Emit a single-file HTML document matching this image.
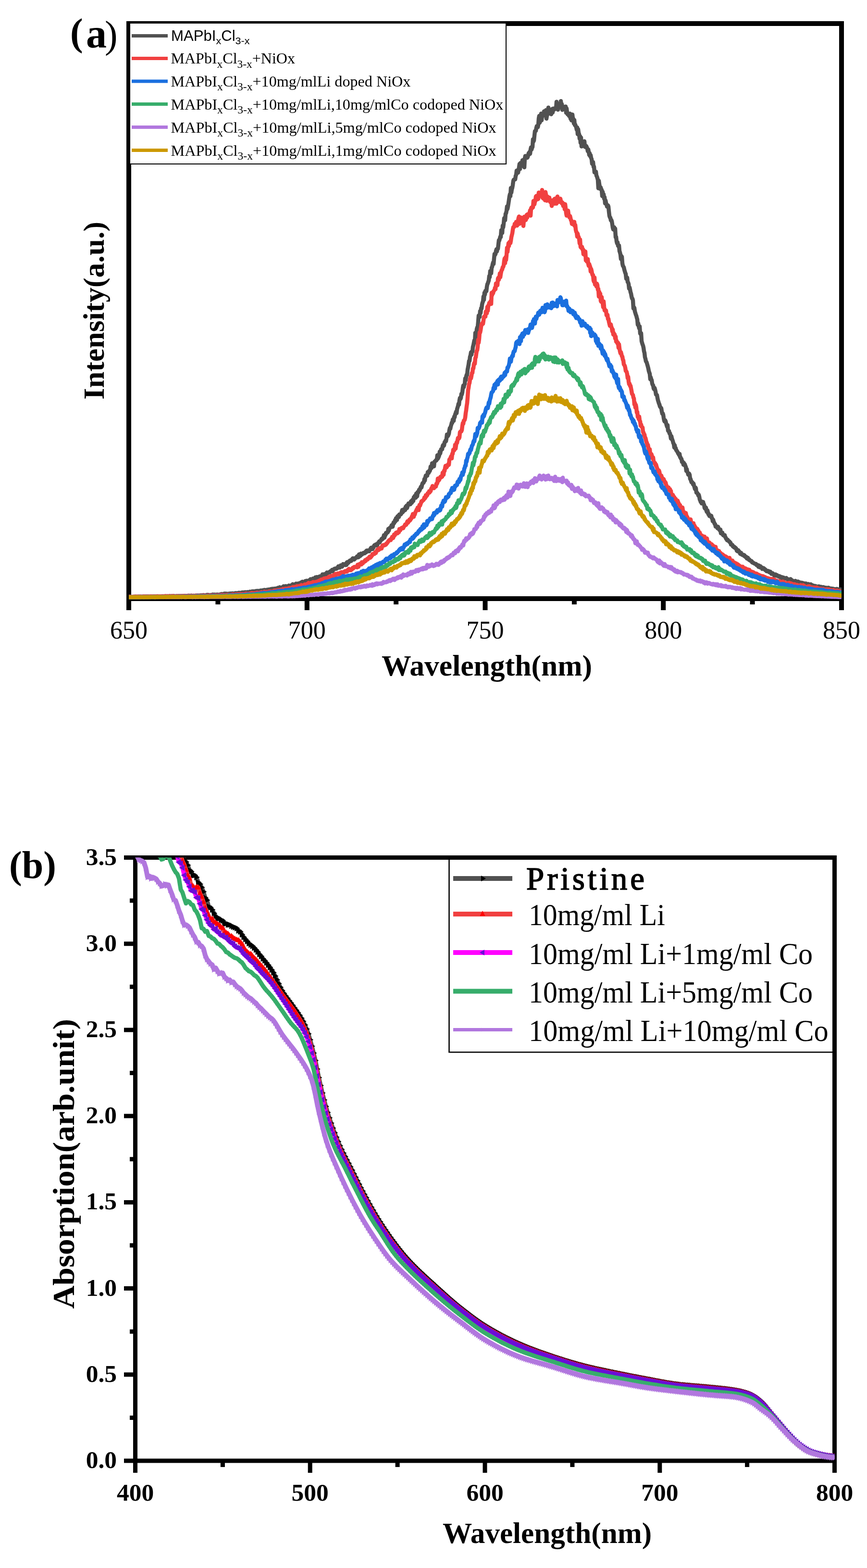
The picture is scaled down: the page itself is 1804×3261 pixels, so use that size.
<!DOCTYPE html>
<html><head><meta charset="utf-8"><title>PL and absorption spectra</title><style>html,body{margin:0;padding:0;background:#fff;}svg{display:block;}.s{font-family:"Liberation Serif","Noto Serif CJK SC",serif;}.ss{font-family:"Liberation Sans","Noto Sans CJK SC",sans-serif;}.m{font-family:"Liberation Mono","Noto Sans CJK SC",monospace;}</style></head><body>
<svg width="1804" height="3261" viewBox="0 0 1804 3261">
<rect x="0" y="0" width="1804" height="3261" fill="#fff"/>
<defs><clipPath id="ca"><rect x="268" y="49" width="1483" height="1198"/></clipPath><clipPath id="cb"><rect x="281.5" y="1783.5" width="1455" height="1254.5"/></clipPath><marker id="mk0" markerUnits="userSpaceOnUse" markerWidth="20" markerHeight="20" refX="10" refY="10" orient="0" overflow="visible"><path d="M5.5,3.5 L17,10 L5.5,16.5 Z" fill="#000"/></marker><marker id="mk1" markerUnits="userSpaceOnUse" markerWidth="20" markerHeight="20" refX="10" refY="10" orient="0" overflow="visible"><path d="M4.5,14 L10,3 L15.5,14 Z" fill="#f00"/></marker><marker id="mk2" markerUnits="userSpaceOnUse" markerWidth="20" markerHeight="20" refX="10" refY="10" orient="0" overflow="visible"><path d="M14.5,3.5 L3,10 L14.5,16.5 Z" fill="#6A0DD8"/></marker><marker id="mk3" markerUnits="userSpaceOnUse" markerWidth="20" markerHeight="20" refX="10" refY="10" orient="0" overflow="visible"><path d="M7,5.5 L13,10 L7,14.5 Z" fill="#37AD6B"/></marker><marker id="mk4" markerUnits="userSpaceOnUse" markerWidth="20" markerHeight="20" refX="10" refY="10" orient="0" overflow="visible"><path d="M6,3 L14,10 L6,17 Z" fill="#B177DE"/></marker></defs>
<rect x="268" y="49" width="1483" height="1196" fill="none" stroke="#000" stroke-width="10"/>
<path d="M268,1250V1269M453.4,1250V1257M638.8,1250V1269M824.1,1250V1257M1009.5,1250V1269M1194.9,1250V1257M1380.2,1250V1269M1565.6,1250V1257M1751,1250V1269" stroke="#000" stroke-width="10" fill="none"/>
<g clip-path="url(#ca)" fill="none" stroke-width="8.5" stroke-linejoin="round">
<polyline stroke="#515151" points="268,1240.9 269,1241.1 270,1241.2 271,1241.2 272,1240.9 273,1241.2 274,1241.2 275,1241.2 276,1241.2 277,1241.2 278,1241.4 279,1240.9 280,1241 281,1241.3 282,1240.8 283,1241 284,1240.9 285,1241 286,1241 287,1240.7 288,1240.8 289,1240.7 290,1240.9 291,1240.8 292,1241.1 293,1240.8 294,1241.1 295,1240.8 296,1240.9 297,1240.8 298,1240.8 299,1240.6 300,1240.9 301,1240.9 302,1240.8 303,1240.9 304,1240.6 305,1240.7 306,1240.6 307,1240.4 308,1240.8 309,1240.6 310,1240.7 311,1241.1 312,1240.7 313,1240.7 314,1240.8 315,1240.8 316,1240.9 317,1240.5 318,1240.9 319,1240.5 320,1240.3 321,1240.4 322,1240.7 323,1240.6 324,1240.7 325,1240.3 326,1240.4 327,1240.2 328,1240 329,1240.4 330,1240.7 331,1240.6 332,1240.2 333,1240.6 334,1240.2 335,1240.4 336,1240.5 337,1240.2 338,1240.1 339,1240.4 340,1240.2 341,1240.1 342,1240.3 343,1240.1 344,1240.2 345,1240 346,1240.3 347,1239.9 348,1240 349,1239.7 350,1240.3 351,1240.1 352,1240.1 353,1239.7 354,1240 355,1239.9 356,1240.2 357,1239.6 358,1240 359,1240.1 360,1239.6 361,1239.9 362,1239.6 363,1239.8 364,1239.9 365,1240.1 366,1239.8 367,1239.6 368,1239.8 369,1239.7 370,1239.9 371,1239.5 372,1239.9 373,1239.6 374,1239.6 375,1239.8 376,1239.4 377,1239.4 378,1239.6 379,1239.5 380,1239.5 381,1239.3 382,1239.3 383,1239.6 384,1239.8 385,1239 386,1239.7 387,1239.5 388,1239.5 389,1239.3 390,1239 391,1239.1 392,1238.9 393,1238.7 394,1239.1 395,1239.1 396,1239 397,1239.1 398,1238.6 399,1239.2 400,1238.9 401,1238.9 402,1239 403,1238.7 404,1239.5 405,1239.1 406,1239.1 407,1238.7 408,1238.5 409,1238.8 410,1238.4 411,1238.6 412,1238.6 413,1238.8 414,1238.6 415,1238.5 416,1238.8 417,1238.3 418,1238.2 419,1238.1 420,1238.7 421,1238.2 422,1238 423,1237.6 424,1237.8 425,1238.1 426,1238.2 427,1238.5 428,1237.7 429,1238 430,1238.2 431,1237.1 432,1238.4 433,1237.3 434,1237.3 435,1237.9 436,1237.7 437,1237.9 438,1237.6 439,1237.5 440,1237.3 441,1237 442,1237.4 443,1236.5 444,1237 445,1237.3 446,1236.6 447,1237.2 448,1237.2 449,1236.8 450,1236.7 451,1236.9 452,1236.8 453,1236.5 454,1237.2 455,1237 456,1236.7 457,1236.8 458,1236.7 459,1235.7 460,1237 461,1235.5 462,1236 463,1235.5 464,1236.1 465,1235.9 466,1235.8 467,1234.5 468,1235.9 469,1235.6 470,1234.6 471,1235.9 472,1235.2 473,1234.9 474,1235.3 475,1234.8 476,1235.1 477,1234.7 478,1234.5 479,1234.3 480,1235 481,1234.6 482,1234.2 483,1234.2 484,1234 485,1235.2 486,1234.4 487,1234.2 488,1234.7 489,1233.7 490,1233.4 491,1233.6 492,1233.8 493,1233.6 494,1233.4 495,1233.6 496,1233.2 497,1232.8 498,1233.6 499,1233 500,1232.9 501,1233.2 502,1233.1 503,1232.3 504,1232.4 505,1232 506,1232 507,1232.6 508,1232.1 509,1231.8 510,1231.5 511,1232.7 512,1231.8 513,1232 514,1231.8 515,1231.2 516,1231.8 517,1231.6 518,1232 519,1231.6 520,1230.6 521,1231 522,1230.9 523,1230.8 524,1230.1 525,1229.8 526,1230.5 527,1230.6 528,1229.7 529,1231.2 530,1230.5 531,1229.8 532,1231 533,1229 534,1229.1 535,1229 536,1230.1 537,1228.9 538,1229.6 539,1229.2 540,1228.7 541,1228.9 542,1228.1 543,1229.1 544,1227.9 545,1227.9 546,1228.6 547,1227.8 548,1229 549,1228.6 550,1226.8 551,1227.7 552,1227.4 553,1228.6 554,1226.9 555,1226.7 556,1226.8 557,1226.7 558,1226.1 559,1226.7 560,1226 561,1225.7 562,1227 563,1226 564,1225.1 565,1224.8 566,1225.3 567,1224.6 568,1224.4 569,1225.7 570,1224.7 571,1224.3 572,1224.6 573,1223.9 574,1224.2 575,1225.1 576,1223.7 577,1223.2 578,1222.6 579,1223.6 580,1222.9 581,1223 582,1221.5 583,1222.1 584,1222.2 585,1222.3 586,1221.9 587,1221.3 588,1222.2 589,1221.1 590,1219.4 591,1219.7 592,1220.4 593,1220.3 594,1219 595,1218.9 596,1219.8 597,1219.5 598,1219.3 599,1219.3 600,1218.6 601,1217.8 602,1219.1 603,1218.7 604,1218.9 605,1217.8 606,1217.3 607,1217.2 608,1217 609,1215.1 610,1216.2 611,1215.8 612,1216.1 613,1215.8 614,1215.1 615,1214.8 616,1213.8 617,1214.8 618,1214 619,1213.8 620,1214.7 621,1214.4 622,1213.1 623,1214.4 624,1213.4 625,1212.6 626,1211.5 627,1211.3 628,1212.5 629,1209.8 630,1212.6 631,1211.4 632,1210.3 633,1211.7 634,1210.2 635,1208.6 636,1208.8 637,1208.2 638,1207.8 639,1210.2 640,1208.3 641,1207.7 642,1208.3 643,1207.8 644,1206.4 645,1205.8 646,1204.6 647,1206.8 648,1205.4 649,1206.2 650,1205 651,1203.4 652,1203.8 653,1205.4 654,1203.1 655,1203.8 656,1200.7 657,1201.8 658,1203.1 659,1200 660,1202.5 661,1200.6 662,1200.1 663,1201.7 664,1199.3 665,1200.5 666,1198.6 667,1199 668,1199.2 669,1198.8 670,1197 671,1194.5 672,1198.1 673,1195.3 674,1196.7 675,1194 676,1193.9 677,1194 678,1193.4 679,1195 680,1190.6 681,1191.3 682,1191.7 683,1191.3 684,1190.4 685,1190 686,1190.4 687,1188.2 688,1187.7 689,1187.6 690,1188 691,1185.1 692,1188.3 693,1185.3 694,1184.4 695,1184.2 696,1182.8 697,1182.5 698,1182.7 699,1183.1 700,1182.9 701,1181.1 702,1180.7 703,1181.1 704,1177.8 705,1179.3 706,1180.2 707,1180.5 708,1177.7 709,1175.8 710,1176.2 711,1177.9 712,1178.4 713,1175.2 714,1173 715,1174.5 716,1174.8 717,1174.4 718,1173.2 719,1175.3 720,1171.7 721,1174.8 722,1169.3 723,1172 724,1171 725,1170.1 726,1167.5 727,1167.8 728,1165.8 729,1166.9 730,1166.6 731,1166.5 732,1163.5 733,1163.6 734,1161.1 735,1163.5 736,1161.5 737,1163.7 738,1161 739,1161.8 740,1160 741,1159.9 742,1159 743,1157.1 744,1159.3 745,1156.4 746,1158.8 747,1153 748,1155.1 749,1156.4 750,1155.9 751,1151.3 752,1153.8 753,1153.2 754,1152.7 755,1151.2 756,1150 757,1150.8 758,1150.8 759,1150.8 760,1148.6 761,1146.9 762,1148.6 763,1144.9 764,1145.2 765,1144.7 766,1145 767,1144.6 768,1146.6 769,1144 770,1143.8 771,1141 772,1139.3 773,1139.7 774,1138.7 775,1142 776,1140.3 777,1138.7 778,1136.4 779,1133.8 780,1134.5 781,1133.2 782,1132.2 783,1133.2 784,1134.5 785,1134.1 786,1129.6 787,1129.2 788,1128.6 789,1126 790,1128.2 791,1125.8 792,1124 793,1123.6 794,1120.8 795,1119.9 796,1121.2 797,1119.5 798,1116.9 799,1112.9 800,1118.2 801,1113.4 802,1113 803,1108.3 804,1109.6 805,1108.2 806,1106.4 807,1106.5 808,1099.9 809,1103.7 810,1099.4 811,1097.8 812,1097.2 813,1096.6 814,1094.7 815,1092.2 816,1092.6 817,1095.4 818,1089.9 819,1086.5 820,1088.1 821,1086.1 822,1081.6 823,1084.1 824,1077.7 825,1079.9 826,1081.3 827,1074 828,1074.2 829,1072.3 830,1075.2 831,1070 832,1070 833,1069.8 834,1069.8 835,1068.2 836,1063.7 837,1060.5 838,1065.3 839,1062.4 840,1062.5 841,1058.9 842,1059 843,1060.8 844,1053.9 845,1055.5 846,1051.6 847,1056.5 848,1053 849,1049.6 850,1047 851,1049.5 852,1048.5 853,1046.7 854,1048.7 855,1042.6 856,1045.1 857,1045.5 858,1039.7 859,1041.5 860,1041.6 861,1034.1 862,1034.3 863,1031.4 864,1033.8 865,1035.3 866,1026.6 867,1028.1 868,1032.4 869,1023.4 870,1024.5 871,1022.8 872,1018.6 873,1020 874,1017.1 875,1014.2 876,1012.1 877,1013.8 878,1009.4 879,1005.5 880,1004.2 881,1004.3 882,1002.6 883,996.3 884,999.6 885,992.6 886,989 887,990.4 888,989.8 889,989.3 890,982.1 891,982 892,983.5 893,979 894,980.1 895,977.3 896,970.4 897,970.5 898,973.3 899,963.6 900,970.3 901,966.4 902,963.2 903,969.7 904,960.4 905,959.5 906,958.8 907,957.2 908,957.7 909,955.6 910,946.7 911,954 912,951.9 913,949.6 914,946.5 915,939.2 916,943.1 917,937.9 918,934.1 919,934.9 920,934.4 921,927.8 922,925.4 923,927.6 924,926.4 925,919.8 926,919.4 927,916.4 928,917.5 929,912.1 930,903.7 931,903.8 932,906.9 933,904.6 934,901.8 935,894.8 936,890.1 937,891.8 938,886.6 939,883.4 940,879.2 941,879.3 942,872.9 943,871.4 944,875.4 945,866.7 946,867.7 947,861.9 948,859.7 949,856.2 950,859.4 951,851 952,847.8 953,844.5 954,839.6 955,841.7 956,832.7 957,827.5 958,829.9 959,827.4 960,819.2 961,820.4 962,816 963,807.3 964,801.8 965,805.5 966,800.2 967,798.5 968,787.1 969,790.7 970,782.8 971,779.3 972,779.6 973,768.6 974,763.5 975,758.2 976,750.5 977,750.7 978,741.9 979,739.2 980,732.8 981,737.6 982,730.7 983,731.4 984,721.4 985,718 986,712.7 987,707.7 988,712.6 989,692.2 990,701.5 991,695.9 992,684.5 993,680.8 994,680.2 995,669.1 996,656.3 997,656.5 998,659.3 999,646.9 1000,651 1001,641.1 1002,641.8 1003,633.5 1004,629.3 1005,627 1006,616.6 1007,623.1 1008,608.8 1009,612.8 1010,604.8 1011,606.3 1012,605.7 1013,596.7 1014,591.3 1015,589.4 1016,586 1017,583.4 1018,574 1019,576.3 1020,563.7 1021,563 1022,568.5 1023,556.7 1024,555 1025,550 1026,545.9 1027,549 1028,537.9 1029,528.1 1030,530.1 1031,528.4 1032,522 1033,518.6 1034,522.8 1035,516.6 1036,517.5 1037,508.7 1038,499.6 1039,499.8 1040,496 1041,492.2 1042,493 1043,478.7 1044,481.5 1045,484.7 1046,469.2 1047,472.8 1048,465.5 1049,454 1050,452.7 1051,457.9 1052,444.7 1053,443.4 1054,438.2 1055,429.2 1056,434.6 1057,429.2 1058,422.6 1059,415.8 1060,408.6 1061,403.9 1062,408.1 1063,391 1064,400.4 1065,393.7 1066,390.4 1067,384.6 1068,376.5 1069,373.6 1070,373.4 1071,372.7 1072,373 1073,365.6 1074,363.6 1075,354.8 1076,359.5 1077,355.5 1078,359.2 1079,353.6 1080,347.7 1081,340.9 1082,351.5 1083,339 1084,343.2 1085,345.1 1086,343 1087,333.4 1088,332.8 1089,341.3 1090,338.2 1091,348 1092,329.3 1093,324.4 1094,325.3 1095,325.4 1096,326.3 1097,328.1 1098,326.7 1099,322.4 1100,318.5 1101,321.4 1102,315.6 1103,319.7 1104,310.9 1105,306.4 1106,311.2 1107,307.5 1108,305.5 1109,289.6 1110,294.4 1111,292 1112,282.4 1113,272.9 1114,272.4 1115,272 1116,265.8 1117,262.2 1118,263 1119,264.5 1120,260 1121,246.2 1122,240.9 1123,255.2 1124,252.7 1125,244.6 1126,236.2 1127,250 1128,239.7 1129,237.4 1130,239.5 1131,240.2 1132,231.5 1133,232.3 1134,237.5 1135,237.2 1136,229.1 1137,246.7 1138,240.7 1139,237.2 1140,237.2 1141,223.7 1142,233.5 1143,235.1 1144,232.5 1145,233.1 1146,233.7 1147,237.6 1148,234.9 1149,226.6 1150,233.7 1151,225.8 1152,228.3 1153,228.3 1154,226.1 1155,224.6 1156,226.2 1157,225.8 1158,211.7 1159,222 1160,217.7 1161,228.1 1162,220.9 1163,216.1 1164,221.7 1165,220.2 1166,222.4 1167,210.2 1168,218.8 1169,216.3 1170,228.5 1171,225.8 1172,221.7 1173,223 1174,223.8 1175,222.8 1176,221.8 1177,221.5 1178,234.6 1179,225.8 1180,234.3 1181,237.8 1182,238 1183,236.6 1184,241.1 1185,236.9 1186,236.3 1187,246.6 1188,246.5 1189,250.2 1190,246.1 1191,238.2 1192,246.6 1193,247.1 1194,256.8 1195,249.7 1196,260.1 1197,259.2 1198,262.2 1199,265 1200,269.8 1201,265.2 1202,279.1 1203,269.1 1204,276.4 1205,279.1 1206,288.5 1207,283.3 1208,297.1 1209,286.2 1210,304.5 1211,296.7 1212,299.1 1213,298.1 1214,301.8 1215,295.6 1216,293.7 1217,305.4 1218,305.7 1219,303.1 1220,304.1 1221,306.1 1222,309.2 1223,314.4 1224,310.6 1225,315.8 1226,322.3 1227,318.6 1228,325 1229,322.6 1230,328.8 1231,330.7 1232,340.6 1233,337.1 1234,337 1235,346.8 1236,346.8 1237,358.6 1238,357.7 1239,357.2 1240,357.2 1241,365.2 1242,367 1243,370.3 1244,374.1 1245,391.5 1246,375.9 1247,383 1248,388.5 1249,392.9 1250,389.8 1251,394.4 1252,394.8 1253,407.7 1254,398.9 1255,405.6 1256,404 1257,413.4 1258,410.1 1259,422.9 1260,416.8 1261,421.8 1262,425 1263,429.7 1264,428.8 1265,427.1 1266,429.8 1267,440 1268,448.8 1269,452.1 1270,452.7 1271,458.2 1272,457.4 1273,460.2 1274,466.4 1275,473.4 1276,477 1277,476.4 1278,472.6 1279,479.3 1280,475.5 1281,493.5 1282,492.7 1283,502.2 1284,506.1 1285,503.8 1286,511.2 1287,512.3 1288,510.5 1289,522.2 1290,525.2 1291,529.2 1292,538.8 1293,532.5 1294,534 1295,547.7 1296,552.6 1297,554.2 1298,556 1299,560.6 1300,564.2 1301,567.6 1302,569.8 1303,579.6 1304,576.6 1305,577.5 1306,586.5 1307,587.6 1308,590.8 1309,600.3 1310,597.7 1311,602.3 1312,607.7 1313,610.6 1314,616.3 1315,620.6 1316,621.2 1317,624.9 1318,641.5 1319,638.7 1320,640.5 1321,647.9 1322,650.8 1323,654.5 1324,656.6 1325,660.9 1326,664.1 1327,675.4 1328,672.2 1329,678.8 1330,683 1331,678.8 1332,693.5 1333,694.8 1334,692.8 1335,709.3 1336,713.1 1337,716.4 1338,718.8 1339,723.2 1340,730.5 1341,733.9 1342,743 1343,746 1344,751.5 1345,752.6 1346,755.3 1347,758.8 1348,762.4 1349,766.4 1350,771.6 1351,774.7 1352,777.5 1353,788.7 1354,784.7 1355,788.8 1356,790.4 1357,797.5 1358,800.4 1359,801.3 1360,807.5 1361,809.5 1362,806.8 1363,810.1 1364,814.2 1365,820.7 1366,821.1 1367,821.6 1368,827.6 1369,832.4 1370,835.3 1371,838.9 1372,840.9 1373,844.9 1374,846.7 1375,847.8 1376,849.1 1377,855.7 1378,860.3 1379,859.7 1380,862.7 1381,869.4 1382,874.8 1383,876.8 1384,873.9 1385,876.1 1386,880.2 1387,884.2 1388,887.4 1389,884.1 1390,895.5 1391,897.1 1392,896.2 1393,901.6 1394,901.1 1395,905.3 1396,912.1 1397,907.2 1398,911.9 1399,914.6 1400,917.6 1401,921.7 1402,923.2 1403,930.7 1404,925.9 1405,932.7 1406,932 1407,936.3 1408,937.1 1409,938.9 1410,940.3 1411,943.2 1412,943.3 1413,946.3 1414,943.9 1415,950.7 1416,950.9 1417,954.2 1418,954.4 1419,960.9 1420,959.5 1421,961.3 1422,966.5 1423,962.6 1424,967.4 1425,965.7 1426,968.9 1427,971.1 1428,979.4 1429,975.4 1430,981.1 1431,982.8 1432,987.1 1433,985.4 1434,985.1 1435,987.6 1436,996.1 1437,996.4 1438,1000.6 1439,1003 1440,1002.4 1441,1003.8 1442,1007.5 1443,1005.5 1444,1010 1445,1013 1446,1017 1447,1013.7 1448,1015.7 1449,1024.5 1450,1025.3 1451,1025.2 1452,1027.2 1453,1030.4 1454,1029 1455,1032.8 1456,1038.7 1457,1040.8 1458,1044.1 1459,1043.6 1460,1047.1 1461,1043.4 1462,1045.3 1463,1043.9 1464,1048.7 1465,1049.5 1466,1056.2 1467,1057.9 1468,1055.1 1469,1056.1 1470,1062.9 1471,1065 1472,1061.4 1473,1065.9 1474,1069.7 1475,1069 1476,1073.1 1477,1071.8 1478,1073.7 1479,1074.3 1480,1072.6 1481,1077.4 1482,1078.3 1483,1083.9 1484,1081 1485,1085 1486,1087 1487,1089.6 1488,1090.1 1489,1095.3 1490,1093.8 1491,1094.7 1492,1096 1493,1098.7 1494,1095.5 1495,1098.2 1496,1100.9 1497,1100.7 1498,1103.5 1499,1101.3 1500,1109.1 1501,1107.5 1502,1108.4 1503,1107.6 1504,1112 1505,1113.4 1506,1112.2 1507,1114.1 1508,1113 1509,1117 1510,1118 1511,1120.8 1512,1121.1 1513,1123.5 1514,1122.4 1515,1124.2 1516,1124.8 1517,1126.2 1518,1126.3 1519,1128.3 1520,1128.7 1521,1132.5 1522,1132.4 1523,1133.2 1524,1133.3 1525,1136.6 1526,1136.2 1527,1137.8 1528,1137.3 1529,1139.5 1530,1138.9 1531,1140 1532,1141 1533,1145.3 1534,1143.9 1535,1146.8 1536,1144.3 1537,1147 1538,1146.6 1539,1148.7 1540,1151.5 1541,1152.2 1542,1149.7 1543,1152.8 1544,1153.8 1545,1153.2 1546,1153.7 1547,1153.8 1548,1156.1 1549,1154.8 1550,1157.1 1551,1158.3 1552,1158 1553,1158.2 1554,1161.5 1555,1161 1556,1159.9 1557,1162.4 1558,1163.9 1559,1163.3 1560,1165.4 1561,1165.8 1562,1166.7 1563,1166.5 1564,1167 1565,1169.6 1566,1169.3 1567,1170.2 1568,1171.1 1569,1171.4 1570,1172.1 1571,1172.7 1572,1173 1573,1172.8 1574,1175.1 1575,1175.1 1576,1175 1577,1177 1578,1178.8 1579,1176.1 1580,1178.1 1581,1179.9 1582,1177.4 1583,1179.6 1584,1180.1 1585,1180.1 1586,1183.2 1587,1182.9 1588,1182.4 1589,1181.5 1590,1183.8 1591,1183.2 1592,1185.3 1593,1184.9 1594,1186.2 1595,1188 1596,1187.8 1597,1187.2 1598,1187.9 1599,1187.6 1600,1189.9 1601,1188.6 1602,1189.5 1603,1189.1 1604,1191.2 1605,1193.5 1606,1191.6 1607,1192.1 1608,1192.4 1609,1193.6 1610,1194.3 1611,1196.8 1612,1196 1613,1195.4 1614,1194.6 1615,1197.4 1616,1196.9 1617,1196.2 1618,1197.6 1619,1197.7 1620,1199.2 1621,1198.9 1622,1198.1 1623,1199.5 1624,1201.1 1625,1200.3 1626,1199.9 1627,1200.1 1628,1203.2 1629,1202.5 1630,1200.9 1631,1202.6 1632,1203.6 1633,1203.5 1634,1202.6 1635,1203.2 1636,1201.9 1637,1203.8 1638,1204.1 1639,1205.4 1640,1204.7 1641,1204.7 1642,1206.9 1643,1206.7 1644,1205.6 1645,1204.5 1646,1205.1 1647,1206.8 1648,1207.2 1649,1207.4 1650,1208.6 1651,1209.7 1652,1209.1 1653,1208.9 1654,1209.2 1655,1208 1656,1210.4 1657,1209.6 1658,1210.9 1659,1209.4 1660,1210.4 1661,1209.5 1662,1210.9 1663,1212.9 1664,1211.1 1665,1211.6 1666,1211.8 1667,1212.8 1668,1211.9 1669,1212.6 1670,1212.2 1671,1215.7 1672,1213.2 1673,1213.8 1674,1213.3 1675,1214.5 1676,1214.5 1677,1213.4 1678,1217.4 1679,1215.1 1680,1215.3 1681,1216.4 1682,1214.5 1683,1216.1 1684,1215.5 1685,1216.1 1686,1216.5 1687,1215.2 1688,1216.9 1689,1217.7 1690,1216.9 1691,1218 1692,1217.8 1693,1219.2 1694,1218.3 1695,1218.8 1696,1218.8 1697,1218.8 1698,1220.3 1699,1219.6 1700,1219.8 1701,1220.2 1702,1221.4 1703,1219.5 1704,1221.2 1705,1219.7 1706,1220.5 1707,1221.3 1708,1221.8 1709,1220.5 1710,1222.1 1711,1221.9 1712,1223.2 1713,1220.9 1714,1222.3 1715,1221.8 1716,1222 1717,1222.4 1718,1222.2 1719,1223.1 1720,1223 1721,1222.4 1722,1224.7 1723,1223.4 1724,1222.3 1725,1223.5 1726,1223.8 1727,1223.7 1728,1223.9 1729,1225 1730,1224 1731,1224.2 1732,1224.3 1733,1224.5 1734,1224.4 1735,1225.1 1736,1225.8 1737,1225.3 1738,1225.5 1739,1225.2 1740,1225.3 1741,1224.8 1742,1226.9 1743,1225.8 1744,1225.5 1745,1226.2 1746,1226.1 1747,1227 1748,1226.7 1749,1225.9 1750,1226.3 1751,1226.2"/>
<polyline stroke="#F14040" points="268,1241 269,1240.8 270,1241.2 271,1241.2 272,1241 273,1241.1 274,1241.3 275,1241.2 276,1241.1 277,1241.1 278,1240.8 279,1241.1 280,1240.7 281,1240.9 282,1240.9 283,1240.6 284,1240.9 285,1241.2 286,1240.8 287,1240.7 288,1240.8 289,1241 290,1240.9 291,1240.8 292,1240.6 293,1240.9 294,1240.9 295,1241 296,1241 297,1240.9 298,1240.5 299,1240.5 300,1240.5 301,1240.7 302,1240.6 303,1240.9 304,1240.7 305,1240.7 306,1240.8 307,1240.7 308,1240.4 309,1241 310,1240.8 311,1240.8 312,1240.4 313,1240.2 314,1240.3 315,1240.3 316,1240.7 317,1240.7 318,1240.8 319,1240.9 320,1240.6 321,1240.5 322,1240.4 323,1240.4 324,1240.2 325,1240.5 326,1240.5 327,1240.3 328,1240.2 329,1240.4 330,1240.6 331,1240.3 332,1240.4 333,1240.2 334,1240.2 335,1240.2 336,1240.2 337,1240.1 338,1240.3 339,1240.5 340,1240 341,1240.5 342,1240.1 343,1240.1 344,1239.7 345,1239.7 346,1240.3 347,1239.9 348,1240.3 349,1240.1 350,1240.2 351,1240.4 352,1240.1 353,1239.4 354,1239.7 355,1240.3 356,1240.5 357,1240 358,1239.9 359,1239.7 360,1240.1 361,1239.6 362,1239.7 363,1240 364,1240 365,1239.9 366,1240.2 367,1239.7 368,1239.7 369,1239.8 370,1239.9 371,1239.8 372,1240.3 373,1239.7 374,1240 375,1239.7 376,1239.9 377,1239.7 378,1239.7 379,1240.2 380,1239.7 381,1240.2 382,1239.6 383,1239.7 384,1240 385,1239.2 386,1239.4 387,1239.7 388,1239.8 389,1239.8 390,1239.6 391,1239.3 392,1239.9 393,1239.7 394,1239.4 395,1239.6 396,1240 397,1239.6 398,1239.3 399,1239.5 400,1239.5 401,1239.6 402,1239.7 403,1239.3 404,1239.3 405,1239.7 406,1239.6 407,1239.8 408,1239.1 409,1239.2 410,1239.6 411,1239.2 412,1239.4 413,1239.3 414,1239.1 415,1239.7 416,1239.3 417,1239.2 418,1239.2 419,1239.3 420,1238.8 421,1239 422,1238.9 423,1238.6 424,1239.4 425,1239.5 426,1239.4 427,1238.6 428,1239.1 429,1239.2 430,1238.8 431,1239.2 432,1238.6 433,1238.6 434,1238.7 435,1238.7 436,1238.5 437,1239.1 438,1238.5 439,1238.6 440,1238.5 441,1239.3 442,1238.4 443,1238.7 444,1239.1 445,1238.2 446,1238.3 447,1238.4 448,1238.1 449,1238.8 450,1238.2 451,1238.6 452,1238.4 453,1238.3 454,1238.5 455,1238.1 456,1238.5 457,1237.7 458,1237.8 459,1238.4 460,1237.3 461,1238.1 462,1237.8 463,1237.7 464,1237.6 465,1238.2 466,1237.3 467,1237.9 468,1237.8 469,1237.5 470,1237.5 471,1237.7 472,1237.3 473,1236.9 474,1237.5 475,1237.1 476,1237.1 477,1237.3 478,1237.4 479,1237.7 480,1237.2 481,1237.1 482,1237.3 483,1237 484,1236.3 485,1236.6 486,1236.4 487,1237 488,1237.1 489,1236.8 490,1236.2 491,1236.8 492,1236.2 493,1236.5 494,1236 495,1235.8 496,1235.8 497,1236.2 498,1235.9 499,1236.3 500,1235.6 501,1236.2 502,1235.7 503,1236.3 504,1236.2 505,1235.6 506,1235.7 507,1235.7 508,1235.7 509,1235.4 510,1235.8 511,1235.1 512,1234.5 513,1235.3 514,1235.1 515,1235.4 516,1235.2 517,1234.9 518,1234.9 519,1234.8 520,1234.4 521,1234.1 522,1234.2 523,1234.4 524,1233.4 525,1234.1 526,1233.8 527,1234 528,1233.7 529,1233.9 530,1233.7 531,1234.3 532,1233.5 533,1233.4 534,1233.5 535,1232.6 536,1232.8 537,1233.8 538,1233.3 539,1233 540,1233.4 541,1232.7 542,1232.6 543,1232.5 544,1231.7 545,1232.8 546,1232.2 547,1232.2 548,1231.9 549,1231.7 550,1230.8 551,1231.8 552,1232.7 553,1232 554,1231.3 555,1230.9 556,1231.2 557,1231.3 558,1230.9 559,1231.3 560,1230.3 561,1231.2 562,1230.6 563,1230.1 564,1230.2 565,1230.4 566,1230.4 567,1230 568,1230.1 569,1230.9 570,1228.6 571,1228.3 572,1229.3 573,1228.5 574,1229 575,1227.9 576,1228.6 577,1229.1 578,1228.8 579,1227.4 580,1227.7 581,1228.2 582,1228.6 583,1226.8 584,1226.7 585,1227.6 586,1226.6 587,1226 588,1227 589,1225.2 590,1225.6 591,1226.4 592,1225.2 593,1225.9 594,1224.4 595,1225.5 596,1225.1 597,1225.6 598,1224.2 599,1224 600,1223.9 601,1224.5 602,1223.1 603,1223.3 604,1224.5 605,1223.5 606,1223.3 607,1222.2 608,1222.9 609,1221.4 610,1220.9 611,1221.1 612,1222.5 613,1221.4 614,1220.4 615,1220.6 616,1220.9 617,1221.2 618,1219 619,1220.9 620,1220.4 621,1219 622,1219 623,1219.4 624,1218.6 625,1218.7 626,1217.6 627,1216.8 628,1219.6 629,1217.7 630,1217.5 631,1217.5 632,1217.9 633,1217.3 634,1215.6 635,1216.1 636,1215.9 637,1216.2 638,1214.9 639,1215.4 640,1215 641,1215.7 642,1212.3 643,1214.1 644,1214.1 645,1214.1 646,1213.3 647,1212.3 648,1213.3 649,1212.8 650,1211.5 651,1210.8 652,1212.1 653,1210.6 654,1211.6 655,1212.1 656,1210.7 657,1210.4 658,1210 659,1210.8 660,1210.5 661,1209.1 662,1209.3 663,1208.4 664,1207.6 665,1208.4 666,1207.3 667,1206.3 668,1205.4 669,1207.3 670,1205.2 671,1204.8 672,1205.2 673,1205.7 674,1203.1 675,1205 676,1204.4 677,1202.5 678,1202.2 679,1202.8 680,1204.4 681,1202 682,1202.9 683,1202.4 684,1199.6 685,1200.8 686,1201.3 687,1199.5 688,1200.8 689,1198.2 690,1197.5 691,1198.1 692,1198.8 693,1197.4 694,1198.3 695,1195.5 696,1196.1 697,1197.7 698,1193.4 699,1195.8 700,1194.2 701,1194 702,1194.1 703,1192.5 704,1194.6 705,1193.9 706,1194.2 707,1192.7 708,1191.2 709,1192.5 710,1190.1 711,1190.1 712,1193 713,1191.6 714,1190.5 715,1191.3 716,1189 717,1189.6 718,1187.7 719,1187.8 720,1187.9 721,1189.1 722,1186.2 723,1187.8 724,1186.2 725,1183.9 726,1183.2 727,1184.2 728,1185.8 729,1184.5 730,1185.8 731,1183.5 732,1184.5 733,1182.7 734,1180.9 735,1182.3 736,1180.1 737,1178.9 738,1179.1 739,1179.1 740,1179.3 741,1179.5 742,1178.7 743,1179.9 744,1174.4 745,1176 746,1178.8 747,1174.7 748,1172.9 749,1172.8 750,1171.9 751,1171.9 752,1174 753,1169.3 754,1169.5 755,1171.5 756,1169.4 757,1168.7 758,1167.1 759,1168.1 760,1164.7 761,1166.6 762,1164.7 763,1163.6 764,1162.3 765,1163.5 766,1161.9 767,1160.1 768,1160 769,1157.6 770,1160 771,1159.4 772,1158.2 773,1156.3 774,1155.8 775,1152.3 776,1152.9 777,1152.2 778,1151.6 779,1151.9 780,1149.5 781,1148.2 782,1150.2 783,1147.2 784,1145.9 785,1143.1 786,1143.2 787,1144.1 788,1144 789,1140.1 790,1141.9 791,1141.6 792,1139.4 793,1139.4 794,1140.7 795,1136.5 796,1134.2 797,1135.3 798,1133.6 799,1134.1 800,1134.3 801,1133.8 802,1132 803,1132.8 804,1130.2 805,1130.4 806,1128.4 807,1127.4 808,1125.2 809,1125.1 810,1123.2 811,1122.7 812,1122.4 813,1123.3 814,1120 815,1120.5 816,1116.5 817,1117.1 818,1118.8 819,1116.3 820,1111.6 821,1113.7 822,1112.4 823,1109.8 824,1107.8 825,1108.3 826,1107.1 827,1109.2 828,1108 829,1107.1 830,1106.9 831,1100.2 832,1102.6 833,1102.7 834,1099.9 835,1099 836,1097.7 837,1098.5 838,1097.1 839,1098.5 840,1095.9 841,1094.6 842,1093.2 843,1090.8 844,1091.4 845,1091.6 846,1089.9 847,1086 848,1084 849,1087 850,1085 851,1084 852,1080.6 853,1082.5 854,1081.2 855,1078 856,1078.3 857,1074 858,1074.2 859,1069 860,1070.8 861,1074.7 862,1069.7 863,1070.2 864,1066.4 865,1064.1 866,1062.5 867,1059.6 868,1060.3 869,1055.7 870,1055.7 871,1060.8 872,1053.5 873,1049.9 874,1051.6 875,1048.7 876,1045.8 877,1042.5 878,1043.1 879,1041.1 880,1040.7 881,1040.1 882,1038.6 883,1034.7 884,1036.6 885,1035.1 886,1029.8 887,1032.5 888,1030.4 889,1030.2 890,1025.7 891,1026.1 892,1025 893,1021.6 894,1024.2 895,1021.2 896,1021.5 897,1017.2 898,1015.1 899,1014.4 900,1010.8 901,1012.8 902,1014.2 903,1015.3 904,1013.5 905,1012.5 906,1011.2 907,1011.8 908,1006 909,1006.4 910,1004.3 911,995.3 912,1000.3 913,998.6 914,998 915,994.3 916,992.3 917,991.3 918,992.7 919,990.5 920,991.4 921,983.1 922,987.3 923,987.5 924,978.9 925,979.6 926,973.6 927,968.8 928,970.5 929,972.1 930,970.6 931,967.1 932,967.7 933,964.8 934,966.7 935,955.8 936,954.8 937,953.1 938,950.5 939,948.4 940,953.3 941,943.5 942,943.6 943,935.4 944,934.8 945,936.5 946,934.5 947,924.9 948,932.8 949,925.8 950,920.1 951,921.1 952,915.5 953,910.7 954,912.7 955,911.8 956,909.7 957,898.8 958,897.7 959,896.7 960,897 961,894.3 962,885.7 963,879.7 964,881.4 965,874.8 966,874.3 967,873 968,868.2 969,859.1 970,853.2 971,844.8 972,838.3 973,826.3 974,811.5 975,806.4 976,799 977,796.2 978,788.8 979,784.2 980,787 981,782 982,775.2 983,775.4 984,766 985,766.1 986,757.7 987,754.6 988,756.7 989,744.9 990,743.2 991,735.6 992,729.8 993,728.2 994,720.6 995,706.5 996,712.4 997,704.8 998,691.2 999,691.7 1000,686.7 1001,679.9 1002,673.9 1003,675.3 1004,671.4 1005,673.5 1006,666.7 1007,659.4 1008,657.8 1009,657.6 1010,658.6 1011,647.8 1012,650.4 1013,651.6 1014,638.1 1015,646.1 1016,635.6 1017,634.6 1018,629.9 1019,630.7 1020,628.4 1021,625.9 1022,632.1 1023,608.8 1024,613.9 1025,608.1 1026,609.9 1027,605.4 1028,604.6 1029,603 1030,598.2 1031,601.7 1032,589.6 1033,590.8 1034,590.4 1035,593.2 1036,579.8 1037,577.5 1038,581.9 1039,577.5 1040,568.6 1041,576.3 1042,569.8 1043,564.6 1044,561.7 1045,560.4 1046,555.5 1047,555.2 1048,552 1049,542.9 1050,537.6 1051,547.1 1052,534.8 1053,540.6 1054,530.5 1055,515.2 1056,523.7 1057,515.3 1058,505.9 1059,511.5 1060,503.3 1061,503.5 1062,505.6 1063,500.4 1064,493.3 1065,489.3 1066,485.1 1067,477.8 1068,472.6 1069,471.7 1070,471.5 1071,465.5 1072,466.6 1073,466.5 1074,461.4 1075,469 1076,469.2 1077,463.7 1078,458.2 1079,453.2 1080,450.2 1081,465.4 1082,460.8 1083,456.7 1084,452.4 1085,457.6 1086,462 1087,459 1088,452.8 1089,469.9 1090,458.8 1091,450.7 1092,457.3 1093,456.8 1094,457.5 1095,455 1096,446.8 1097,452.3 1098,445.4 1099,447.6 1100,444.8 1101,445.9 1102,441.9 1103,437.4 1104,448.4 1105,433.5 1106,431.5 1107,433 1108,431 1109,431 1110,418.1 1111,419.8 1112,425.1 1113,419.5 1114,417.8 1115,408.7 1116,407.5 1117,409.1 1118,412.7 1119,414.2 1120,413.7 1121,400.4 1122,407.7 1123,407.6 1124,404.8 1125,404.4 1126,401.1 1127,404 1128,395.1 1129,411.5 1130,407.1 1131,413.2 1132,403.6 1133,400.2 1134,416.5 1135,399.6 1136,404.5 1137,414 1138,417.5 1139,408.8 1140,411.6 1141,412.1 1142,416.4 1143,410.9 1144,418.3 1145,420.3 1146,416.6 1147,418 1148,428.2 1149,419.7 1150,416.6 1151,423.1 1152,423.5 1153,414.8 1154,413.3 1155,423.6 1156,422.2 1157,422.3 1158,423.5 1159,411 1160,408.7 1161,420.2 1162,420.1 1163,416.9 1164,419.8 1165,413.8 1166,413.3 1167,418 1168,421.2 1169,423 1170,420.8 1171,424.9 1172,428.6 1173,426.6 1174,423.9 1175,435.3 1176,425.1 1177,433.5 1178,443.4 1179,448.4 1180,447.4 1181,441.3 1182,438 1183,445.8 1184,449.6 1185,452.2 1186,449.2 1187,453 1188,457.8 1189,458.8 1190,465.7 1191,464.3 1192,466.2 1193,463.2 1194,467.8 1195,461.5 1196,470.2 1197,467.8 1198,477.7 1199,482.2 1200,483.3 1201,492.1 1202,486 1203,491.4 1204,492.6 1205,496.6 1206,506.4 1207,498.2 1208,513.5 1209,515.1 1210,514.6 1211,513.5 1212,518.6 1213,518.6 1214,528.8 1215,520.9 1216,524.1 1217,530.8 1218,523.2 1219,541.7 1220,537.1 1221,543.9 1222,544.2 1223,539 1224,548.8 1225,552.9 1226,549.1 1227,552.4 1228,554.8 1229,564.7 1230,559.3 1231,563.2 1232,569 1233,572.4 1234,572.1 1235,583.2 1236,585.9 1237,577.3 1238,591.8 1239,589.2 1240,592.6 1241,595.7 1242,590 1243,593.1 1244,602.5 1245,600.7 1246,616.7 1247,607.3 1248,615.4 1249,611 1250,625.8 1251,627.7 1252,618.1 1253,628.1 1254,630.2 1255,638.8 1256,627.1 1257,638 1258,645.5 1259,644 1260,645.9 1261,645.9 1262,655.6 1263,656.4 1264,654.7 1265,663.4 1266,663 1267,669.3 1268,673.6 1269,677.4 1270,677.2 1271,674.7 1272,680 1273,681.8 1274,689.1 1275,685.3 1276,695.6 1277,692.3 1278,697.2 1279,695.6 1280,704 1281,700 1282,710.4 1283,708.7 1284,712.7 1285,714.7 1286,712.7 1287,723.4 1288,716.2 1289,725 1290,730.7 1291,734.8 1292,732.5 1293,736.4 1294,740.8 1295,741.7 1296,747.9 1297,749.4 1298,757.7 1299,759.1 1300,760.8 1301,764.7 1302,771.4 1303,771.9 1304,773.8 1305,778.4 1306,786.4 1307,783.5 1308,793.2 1309,799.1 1310,798 1311,802.5 1312,802.4 1313,807.6 1314,812.5 1315,818.9 1316,820.3 1317,821.6 1318,827 1319,828.6 1320,841.2 1321,837.6 1322,847.7 1323,841.9 1324,847.3 1325,858 1326,856.4 1327,867 1328,866.5 1329,871.6 1330,866.4 1331,874.8 1332,876.5 1333,885.4 1334,882.7 1335,887.3 1336,888.3 1337,889.1 1338,898.7 1339,899.3 1340,904.4 1341,903.9 1342,909.7 1343,910.6 1344,914.6 1345,919.6 1346,920.7 1347,926.6 1348,924.9 1349,929.8 1350,937.2 1351,934.5 1352,934.4 1353,944.9 1354,943.8 1355,943.9 1356,945.9 1357,952.7 1358,950.5 1359,951.4 1360,959.5 1361,960.7 1362,963.8 1363,963 1364,967.5 1365,966.1 1366,969.7 1367,973 1368,975.2 1369,979.3 1370,980.5 1371,978.3 1372,981 1373,986.1 1374,989.3 1375,989.3 1376,989 1377,992.3 1378,996.3 1379,998.6 1380,995.8 1381,996.6 1382,1000.7 1383,1000.9 1384,1004 1385,1003.6 1386,1008.1 1387,1010.2 1388,1014.1 1389,1015.3 1390,1014.6 1391,1013.7 1392,1019.3 1393,1017.6 1394,1017.5 1395,1021.7 1396,1021 1397,1029.6 1398,1029.5 1399,1031.6 1400,1029.2 1401,1031.4 1402,1033.6 1403,1033.8 1404,1036.2 1405,1038.5 1406,1037.6 1407,1040.5 1408,1044.7 1409,1043.9 1410,1041.3 1411,1044.5 1412,1046.5 1413,1048.4 1414,1051.2 1415,1050.5 1416,1057 1417,1054.8 1418,1057.8 1419,1056.5 1420,1055.5 1421,1062.1 1422,1064.3 1423,1066.1 1424,1065.4 1425,1067.4 1426,1066.9 1427,1066.9 1428,1071.6 1429,1073.8 1430,1075.2 1431,1077.4 1432,1079 1433,1080 1434,1081.3 1435,1081.8 1436,1081.6 1437,1080.2 1438,1085.7 1439,1089.2 1440,1088.8 1441,1092.9 1442,1091.9 1443,1088.2 1444,1095.2 1445,1092.9 1446,1095.7 1447,1096.4 1448,1098.3 1449,1102.6 1450,1103 1451,1099.7 1452,1104.1 1453,1103.3 1454,1108 1455,1109.7 1456,1107.5 1457,1111.1 1458,1112.4 1459,1113 1460,1114.8 1461,1113.9 1462,1115.8 1463,1116.2 1464,1117.5 1465,1118.5 1466,1116 1467,1120.3 1468,1123.4 1469,1120.5 1470,1122.9 1471,1119.8 1472,1126.2 1473,1126.8 1474,1129.1 1475,1131.1 1476,1128.3 1477,1129.5 1478,1132.4 1479,1131.8 1480,1134.5 1481,1131.9 1482,1134.9 1483,1134.6 1484,1134.8 1485,1138.3 1486,1137.3 1487,1139 1488,1140 1489,1137.3 1490,1143.4 1491,1143.8 1492,1144.4 1493,1144.5 1494,1147.9 1495,1147.1 1496,1146 1497,1148.9 1498,1150.8 1499,1149.8 1500,1150.7 1501,1152.2 1502,1153.4 1503,1153.8 1504,1153.4 1505,1155.6 1506,1155.2 1507,1155.8 1508,1158.6 1509,1157.2 1510,1157.3 1511,1159.9 1512,1158.6 1513,1162.1 1514,1161.4 1515,1163.3 1516,1162.6 1517,1161.9 1518,1160.2 1519,1163.4 1520,1166.8 1521,1165.3 1522,1167.8 1523,1168.7 1524,1165.8 1525,1168.1 1526,1169.1 1527,1171.7 1528,1172.5 1529,1170.3 1530,1172.6 1531,1172.9 1532,1171.7 1533,1175 1534,1176.4 1535,1173.6 1536,1176.3 1537,1175.2 1538,1178 1539,1178.6 1540,1177.4 1541,1178.2 1542,1180.9 1543,1179.3 1544,1181.3 1545,1178.5 1546,1179.4 1547,1182.9 1548,1182.4 1549,1182.3 1550,1181.9 1551,1183.9 1552,1182.6 1553,1184.4 1554,1185.8 1555,1185.2 1556,1184.2 1557,1184.6 1558,1186.4 1559,1184.9 1560,1188.7 1561,1187.5 1562,1188 1563,1188.8 1564,1188.8 1565,1191.5 1566,1189.8 1567,1189.7 1568,1192.5 1569,1191.1 1570,1193.8 1571,1193.5 1572,1192.7 1573,1193.6 1574,1192.9 1575,1193.2 1576,1195.9 1577,1194.8 1578,1195.4 1579,1195.5 1580,1196.5 1581,1196.5 1582,1197.2 1583,1197.6 1584,1199.3 1585,1197.8 1586,1198.6 1587,1199.2 1588,1198.5 1589,1200.2 1590,1200 1591,1199.9 1592,1200.1 1593,1201.1 1594,1201.7 1595,1202.2 1596,1202.8 1597,1202.2 1598,1204 1599,1203.2 1600,1204.4 1601,1203.4 1602,1205 1603,1204.3 1604,1203.9 1605,1204.5 1606,1205.4 1607,1203.9 1608,1205.9 1609,1204.2 1610,1206.4 1611,1205.8 1612,1205.7 1613,1206.5 1614,1208.4 1615,1209 1616,1207.5 1617,1209.3 1618,1208.6 1619,1210.1 1620,1208.9 1621,1209.7 1622,1208.4 1623,1210.6 1624,1210.5 1625,1211 1626,1211.6 1627,1210.2 1628,1211.1 1629,1209.4 1630,1210.5 1631,1210.4 1632,1212.3 1633,1212.3 1634,1212.4 1635,1212.4 1636,1214.2 1637,1213.4 1638,1212.5 1639,1214.5 1640,1214.7 1641,1214.3 1642,1212 1643,1213.2 1644,1214.5 1645,1214.1 1646,1213.3 1647,1214.8 1648,1214.4 1649,1215.3 1650,1215.5 1651,1216.7 1652,1215 1653,1216.7 1654,1215.3 1655,1217.1 1656,1216.8 1657,1216.9 1658,1216.9 1659,1216.5 1660,1217.4 1661,1217.7 1662,1218.4 1663,1217.9 1664,1218.2 1665,1217.2 1666,1216.8 1667,1218.4 1668,1220.2 1669,1218.5 1670,1218.1 1671,1217 1672,1219.5 1673,1218.5 1674,1218.9 1675,1219.7 1676,1220.1 1677,1221.2 1678,1220.9 1679,1220.6 1680,1220.3 1681,1219.6 1682,1220.4 1683,1221.4 1684,1219.3 1685,1221 1686,1222.2 1687,1221.9 1688,1221.3 1689,1221.4 1690,1222.2 1691,1221.7 1692,1222.4 1693,1223.3 1694,1222.1 1695,1222.1 1696,1223.3 1697,1223 1698,1222.4 1699,1221.7 1700,1224.4 1701,1224.6 1702,1223.4 1703,1224 1704,1224 1705,1224.3 1706,1225.2 1707,1224.6 1708,1224.4 1709,1224.8 1710,1224.8 1711,1225.3 1712,1224.9 1713,1224.8 1714,1226.5 1715,1225.9 1716,1226.1 1717,1227.1 1718,1225.9 1719,1225.9 1720,1226.4 1721,1225.7 1722,1225.9 1723,1226 1724,1227.1 1725,1225.9 1726,1227 1727,1227 1728,1228.1 1729,1227.2 1730,1228.1 1731,1228.2 1732,1228.2 1733,1228.8 1734,1227.1 1735,1228.5 1736,1228.2 1737,1228.3 1738,1229.4 1739,1228.5 1740,1228.5 1741,1229.7 1742,1228.1 1743,1230 1744,1228.9 1745,1230.6 1746,1229.3 1747,1230.1 1748,1230.1 1749,1230.2 1750,1230.5 1751,1230.4"/>
<polyline stroke="#1A6FDF" points="268,1242 269,1242 270,1242 271,1242 272,1242 273,1242 274,1242 275,1242 276,1241.9 277,1242 278,1242 279,1241.9 280,1241.9 281,1241.9 282,1241.9 283,1242 284,1241.9 285,1241.9 286,1241.9 287,1242 288,1241.9 289,1241.9 290,1241.8 291,1241.9 292,1242 293,1241.9 294,1241.8 295,1241.7 296,1241.8 297,1241.7 298,1241.9 299,1241.9 300,1241.9 301,1241.8 302,1241.8 303,1241.7 304,1241.8 305,1241.8 306,1241.7 307,1241.5 308,1241.7 309,1241.8 310,1241.6 311,1241.7 312,1241.8 313,1241.5 314,1241.7 315,1241.6 316,1241.5 317,1241.6 318,1241.5 319,1241.6 320,1241.5 321,1241.5 322,1241.4 323,1241.5 324,1241.4 325,1241.4 326,1241.6 327,1241.5 328,1241.6 329,1241.7 330,1241.6 331,1241.5 332,1241.3 333,1241.5 334,1241.5 335,1241.5 336,1241.4 337,1241.4 338,1241.1 339,1241.4 340,1241.2 341,1241.3 342,1241.4 343,1241.3 344,1241.3 345,1241.3 346,1241 347,1241.3 348,1241.4 349,1241.4 350,1241 351,1241.3 352,1241.3 353,1241 354,1241 355,1241.1 356,1241.3 357,1241.2 358,1241 359,1241.1 360,1241.2 361,1241.1 362,1241 363,1241.1 364,1240.7 365,1241.1 366,1240.8 367,1241 368,1241 369,1240.9 370,1240.8 371,1240.9 372,1241 373,1240.7 374,1240.7 375,1240.9 376,1241 377,1240.8 378,1240.7 379,1240.9 380,1240.7 381,1241.1 382,1241 383,1241.1 384,1240.5 385,1240.6 386,1240.6 387,1240.4 388,1240.6 389,1240.8 390,1240.4 391,1240.6 392,1240.9 393,1240.6 394,1240.6 395,1240.5 396,1240.4 397,1240.4 398,1240.5 399,1240.4 400,1240.5 401,1240.4 402,1240.4 403,1240.7 404,1240.5 405,1240.1 406,1240.3 407,1240.7 408,1240.7 409,1240.1 410,1240.4 411,1240.3 412,1239.7 413,1240.3 414,1240.6 415,1240.1 416,1240.1 417,1240.4 418,1240.1 419,1240 420,1240.2 421,1239.8 422,1240.2 423,1239.8 424,1240.1 425,1240.2 426,1240.4 427,1239.8 428,1240 429,1240 430,1239.5 431,1239.9 432,1240 433,1240 434,1240.3 435,1239.9 436,1239.8 437,1239.8 438,1239.8 439,1239.9 440,1240.1 441,1239.5 442,1239.7 443,1239.1 444,1239.3 445,1239.7 446,1239.1 447,1239.7 448,1239.9 449,1239.4 450,1239.4 451,1239.5 452,1239.4 453,1239.5 454,1239.3 455,1239.6 456,1239.5 457,1239.4 458,1238.8 459,1239.2 460,1239.3 461,1239.5 462,1239.1 463,1239.4 464,1239.4 465,1239 466,1239.3 467,1239.1 468,1238.8 469,1239.1 470,1239.4 471,1239.1 472,1239 473,1239.2 474,1239.1 475,1238.9 476,1238.4 477,1238.1 478,1238.4 479,1239.2 480,1238.9 481,1238.3 482,1238.9 483,1238.2 484,1238.6 485,1238.8 486,1238.5 487,1238.7 488,1238.7 489,1237.9 490,1238.3 491,1238.5 492,1238.1 493,1237.8 494,1238.6 495,1238.2 496,1237.9 497,1237.8 498,1238 499,1238.3 500,1237.7 501,1238 502,1237.9 503,1237.7 504,1237.7 505,1237.6 506,1237.3 507,1237 508,1237.7 509,1237.8 510,1237.5 511,1237 512,1237.2 513,1236.9 514,1236.6 515,1236.6 516,1236.7 517,1237 518,1236.3 519,1237 520,1236.6 521,1236.9 522,1236.8 523,1236.4 524,1236.3 525,1236.3 526,1236.2 527,1236.3 528,1236.6 529,1236.1 530,1236.3 531,1236 532,1235.4 533,1235.6 534,1235.6 535,1235.6 536,1235 537,1235.5 538,1234.7 539,1234.8 540,1235 541,1234.7 542,1234.2 543,1233.9 544,1234.1 545,1234 546,1235 547,1233.6 548,1233.3 549,1234.8 550,1233 551,1233.3 552,1233.7 553,1233.4 554,1233.4 555,1233.8 556,1234.1 557,1233 558,1233 559,1232.6 560,1232.3 561,1232.2 562,1232.4 563,1232 564,1232.2 565,1231.7 566,1231.3 567,1231.6 568,1231.5 569,1231.2 570,1231.1 571,1231.5 572,1230.4 573,1231.4 574,1230.5 575,1230.7 576,1231.2 577,1230.9 578,1229.4 579,1230.4 580,1230.8 581,1229.5 582,1229.6 583,1230.4 584,1228.9 585,1230.4 586,1228.6 587,1228.8 588,1228.8 589,1228.7 590,1229.2 591,1228.9 592,1228.6 593,1228.5 594,1227.4 595,1227.8 596,1228.6 597,1227.2 598,1228.6 599,1227.5 600,1226.9 601,1227.8 602,1227.7 603,1226.7 604,1226.6 605,1226.3 606,1226.3 607,1225.2 608,1226 609,1227 610,1225.8 611,1226.2 612,1226.3 613,1225.8 614,1225.2 615,1225 616,1224.9 617,1225.3 618,1224.7 619,1225.2 620,1225.7 621,1224.8 622,1223.4 623,1224.3 624,1223.8 625,1223.5 626,1223.1 627,1223.3 628,1225.3 629,1225.1 630,1224.1 631,1222.1 632,1222.7 633,1223.1 634,1221.9 635,1222.4 636,1222.5 637,1222.7 638,1221.7 639,1221.5 640,1220.9 641,1220.6 642,1220.7 643,1220.3 644,1220.8 645,1220.2 646,1219.6 647,1220.6 648,1219.1 649,1219.6 650,1219.3 651,1218.3 652,1218.5 653,1218.5 654,1217.6 655,1216.9 656,1219.6 657,1216.9 658,1216.9 659,1216.7 660,1216.6 661,1217 662,1216.7 663,1215.4 664,1215.8 665,1215.7 666,1214.8 667,1215.5 668,1214.5 669,1214.7 670,1212.9 671,1214.8 672,1212.9 673,1211.9 674,1211.7 675,1211.5 676,1212 677,1209.6 678,1210.3 679,1211.7 680,1211.5 681,1209.2 682,1209.9 683,1209.6 684,1208.9 685,1208.3 686,1209.2 687,1207.9 688,1208 689,1208.2 690,1206.3 691,1206 692,1208.5 693,1205.3 694,1206.9 695,1206.7 696,1205.4 697,1204.7 698,1204.7 699,1203.8 700,1204.2 701,1203.7 702,1203.2 703,1203.1 704,1203.9 705,1202.9 706,1202.5 707,1204.2 708,1202.2 709,1202.6 710,1200.9 711,1200.5 712,1201.8 713,1202 714,1198 715,1201.3 716,1201.2 717,1200.3 718,1200.7 719,1198.8 720,1200 721,1198.3 722,1198.9 723,1198.6 724,1198.9 725,1197.2 726,1198.6 727,1198.4 728,1199 729,1197 730,1197.9 731,1196.5 732,1197.4 733,1196 734,1195.3 735,1195.5 736,1197.4 737,1197 738,1195.4 739,1195.1 740,1195.1 741,1192.9 742,1196.1 743,1192.8 744,1192.2 745,1192.9 746,1191.8 747,1192.8 748,1192.8 749,1191.4 750,1191.6 751,1190.4 752,1188.8 753,1188.9 754,1192 755,1189.4 756,1187.1 757,1187.5 758,1187.4 759,1188.7 760,1187.6 761,1188.6 762,1188.7 763,1186.9 764,1186.4 765,1186.7 766,1184.4 767,1184.1 768,1182.1 769,1184.4 770,1182.1 771,1182.9 772,1184.9 773,1180.1 774,1180.6 775,1179.5 776,1178.9 777,1180.6 778,1177.3 779,1179.1 780,1178.3 781,1179 782,1175.1 783,1175.2 784,1177.4 785,1173.4 786,1175.3 787,1176 788,1172.2 789,1172.2 790,1174.1 791,1170.8 792,1172.9 793,1172.8 794,1170.7 795,1170 796,1169.5 797,1168.1 798,1169.4 799,1168.6 800,1167.1 801,1166.9 802,1164 803,1164 804,1161.7 805,1163.1 806,1164.4 807,1163 808,1161.3 809,1160.7 810,1160 811,1161.3 812,1157.6 813,1160.2 814,1158.6 815,1155.1 816,1157.3 817,1156.7 818,1154.4 819,1156.8 820,1152.4 821,1152.3 822,1152.4 823,1152 824,1150.3 825,1151.1 826,1148.2 827,1149 828,1147.3 829,1146.7 830,1144.5 831,1144.9 832,1142.1 833,1141.3 834,1142.4 835,1143 836,1139.4 837,1140.8 838,1142.5 839,1139.1 840,1138.3 841,1136.2 842,1132.5 843,1133.9 844,1133.7 845,1130.9 846,1132 847,1129.6 848,1131.1 849,1129 850,1128.2 851,1127.4 852,1125.6 853,1127.4 854,1122 855,1121.4 856,1121.6 857,1120.9 858,1117.5 859,1120.3 860,1117.2 861,1117.6 862,1114.5 863,1113.6 864,1113.9 865,1111.6 866,1110.1 867,1110.7 868,1110.5 869,1107.7 870,1107.8 871,1104.6 872,1105.6 873,1102.4 874,1103.4 875,1099.9 876,1101.1 877,1101.4 878,1098.8 879,1094.6 880,1099.1 881,1094.3 882,1090.4 883,1096.6 884,1091.1 885,1092.4 886,1090.5 887,1092.5 888,1090.9 889,1083.6 890,1086.6 891,1082.7 892,1083.4 893,1082.1 894,1081.1 895,1078 896,1080.4 897,1079.7 898,1078.6 899,1079.6 900,1074.6 901,1072.1 902,1073 903,1066.9 904,1070.3 905,1067.4 906,1066.5 907,1065.1 908,1064.2 909,1066.1 910,1061.1 911,1061.3 912,1062.2 913,1060.3 914,1062.3 915,1058.5 916,1061 917,1057.1 918,1051.7 919,1051.8 920,1053.6 921,1045.9 922,1044.8 923,1041.2 924,1043.1 925,1043.6 926,1042.3 927,1038 928,1034 929,1036 930,1033.8 931,1034.5 932,1032 933,1032.9 934,1027.8 935,1027.9 936,1026.3 937,1024.4 938,1025.1 939,1019.1 940,1018.2 941,1014.7 942,1018.9 943,1019.2 944,1017 945,1018.3 946,1013.6 947,1009.9 948,1011.3 949,1009.5 950,1008 951,1008.6 952,1002.6 953,1001.1 954,1001.2 955,1002.4 956,996.1 957,999.2 958,997.5 959,991.5 960,988.9 961,988.2 962,982.5 963,987.6 964,981.9 965,981.5 966,974.5 967,973 968,968.2 969,968.5 970,957.8 971,959.9 972,953.9 973,950.9 974,943.9 975,945.4 976,942.2 977,942.4 978,937.2 979,934.4 980,935.9 981,931.5 982,927 983,925.9 984,923.9 985,919.2 986,916.5 987,918 988,911 989,902.5 990,908 991,906.8 992,903.5 993,900.8 994,890.1 995,890.8 996,891 997,888.7 998,885.7 999,879.6 1000,878.8 1001,877.1 1002,878.3 1003,879.1 1004,866 1005,868.2 1006,862.8 1007,865.7 1008,861.1 1009,859.3 1010,855.7 1011,851 1012,848.4 1013,847.1 1014,848.2 1015,848.8 1016,843.4 1017,836.9 1018,839.5 1019,833 1020,829.3 1021,826.5 1022,820.5 1023,816.1 1024,815.6 1025,814.5 1026,813.1 1027,806.3 1028,807.2 1029,800.1 1030,807.7 1031,800.1 1032,796.9 1033,800.7 1034,797.2 1035,792.3 1036,799.6 1037,790.2 1038,793 1039,788.6 1040,791.6 1041,790.4 1042,784.6 1043,783.3 1044,788.1 1045,784 1046,784.9 1047,781.9 1048,783 1049,780.1 1050,775.3 1051,780.4 1052,773.7 1053,772.6 1054,771.4 1055,772.7 1056,764.3 1057,764.7 1058,761.9 1059,759 1060,753.8 1061,745.7 1062,749.4 1063,752.3 1064,745.9 1065,742 1066,739.8 1067,740.5 1068,734.3 1069,730.9 1070,730.9 1071,730.1 1072,725.2 1073,722.1 1074,713.4 1075,711.3 1076,714.8 1077,710.8 1078,709 1079,710 1080,710 1081,715.5 1082,701.3 1083,703.6 1084,709.5 1085,697.4 1086,700.7 1087,693.7 1088,700.5 1089,692.6 1090,696.1 1091,695.8 1092,690.6 1093,686.3 1094,687.8 1095,690.5 1096,691.2 1097,691.5 1098,685.1 1099,692.3 1100,688.5 1101,686 1102,682.9 1103,680.5 1104,674.9 1105,678.8 1106,678.5 1107,682 1108,677 1109,667.9 1110,672 1111,663.7 1112,672.8 1113,672.8 1114,663.2 1115,658.4 1116,663.5 1117,658.7 1118,657.5 1119,655 1120,650.2 1121,653.6 1122,654.5 1123,649.7 1124,646.7 1125,645.8 1126,648.9 1127,649.3 1128,644 1129,640 1130,645.3 1131,642.2 1132,643.5 1133,649.4 1134,646.9 1135,634.5 1136,637.8 1137,640.9 1138,634.3 1139,632.9 1140,638.2 1141,637.6 1142,637.8 1143,639.6 1144,635.8 1145,637.2 1146,637.1 1147,640.9 1148,629.7 1149,638.1 1150,629.3 1151,630.2 1152,636.5 1153,636.2 1154,635.7 1155,633.8 1156,633.9 1157,630.5 1158,633.4 1159,637.2 1160,624 1161,629.9 1162,627.3 1163,623.5 1164,627.6 1165,628 1166,618.2 1167,620.3 1168,628.7 1169,628.3 1170,634.7 1171,628.5 1172,634.9 1173,629.4 1174,627.3 1175,632.9 1176,631.4 1177,633.1 1178,625.3 1179,636.9 1180,636.2 1181,638.7 1182,640.7 1183,646.5 1184,641.5 1185,642.5 1186,647.6 1187,649.3 1188,647.3 1189,646 1190,646.2 1191,646.6 1192,647.2 1193,653.6 1194,649.7 1195,654.6 1196,650.5 1197,657.8 1198,655.2 1199,661.6 1200,660.2 1201,660.8 1202,658.8 1203,660.7 1204,662.8 1205,664.9 1206,664.4 1207,670.4 1208,671.8 1209,669.8 1210,677.3 1211,672.4 1212,668 1213,673 1214,674.7 1215,673.9 1216,676.6 1217,673.1 1218,676.5 1219,677.3 1220,679.7 1221,677.6 1222,677.9 1223,681 1224,683.4 1225,682.5 1226,684 1227,681.6 1228,692.1 1229,684.7 1230,698.9 1231,690.4 1232,697 1233,692.2 1234,696.9 1235,697.3 1236,697 1237,695.4 1238,699.6 1239,697.9 1240,709.4 1241,702.7 1242,713.7 1243,708.6 1244,705 1245,719.3 1246,718.2 1247,714.9 1248,716.1 1249,717.7 1250,725.2 1251,718.8 1252,723.5 1253,730.6 1254,735.6 1255,728.9 1256,731.2 1257,732.3 1258,739.8 1259,736 1260,739.9 1261,744.2 1262,746.8 1263,749.3 1264,746.1 1265,751.2 1266,753.9 1267,757.5 1268,761.7 1269,762.1 1270,758.8 1271,764.1 1272,762.1 1273,772.5 1274,769.6 1275,772.1 1276,776 1277,775.6 1278,782 1279,784.5 1280,785.3 1281,787.2 1282,779.1 1283,790.6 1284,796.1 1285,797.8 1286,788.3 1287,803.9 1288,807.3 1289,804.6 1290,806.3 1291,811.9 1292,810.9 1293,813.2 1294,814.8 1295,825.2 1296,823.9 1297,824.1 1298,825 1299,832.6 1300,831.8 1301,834.5 1302,837.4 1303,839.1 1304,843.7 1305,848.1 1306,843.4 1307,846.8 1308,853.2 1309,851.8 1310,856.6 1311,863.3 1312,863 1313,867 1314,869.6 1315,871.8 1316,871.8 1317,877.8 1318,874.1 1319,876.5 1320,882.3 1321,880.6 1322,885.7 1323,886.4 1324,893.2 1325,894.3 1326,898.2 1327,896.2 1328,895.1 1329,905.8 1330,909.4 1331,905.4 1332,907.2 1333,908 1334,918.6 1335,914.8 1336,921.5 1337,924.2 1338,924.8 1339,928.4 1340,930.5 1341,936.6 1342,940.9 1343,943.4 1344,938.9 1345,942 1346,946.6 1347,951.5 1348,954.9 1349,950.3 1350,958.3 1351,962.6 1352,962.9 1353,964.8 1354,962.8 1355,973.1 1356,972.8 1357,972.7 1358,974.4 1359,979.6 1360,982.5 1361,980.9 1362,980.1 1363,986.4 1364,985.3 1365,988.5 1366,990 1367,989.8 1368,997.2 1369,993 1370,1000.9 1371,997.3 1372,1000.5 1373,1002.7 1374,1005.3 1375,1003.7 1376,1011.8 1377,1008.9 1378,1014.6 1379,1014.5 1380,1014.1 1381,1014.1 1382,1018.3 1383,1019.9 1384,1018.8 1385,1021.8 1386,1025.1 1387,1027.5 1388,1026.5 1389,1027.9 1390,1028.1 1391,1028.7 1392,1035 1393,1035 1394,1035.5 1395,1040.3 1396,1041.1 1397,1037.3 1398,1037.5 1399,1044.1 1400,1044.3 1401,1049 1402,1046.1 1403,1051.5 1404,1052.9 1405,1050.9 1406,1059.1 1407,1054.7 1408,1058 1409,1058.3 1410,1059.8 1411,1060.3 1412,1062.1 1413,1065.8 1414,1063 1415,1067.4 1416,1069 1417,1070.4 1418,1071.6 1419,1076.7 1420,1074.2 1421,1075.2 1422,1075.2 1423,1080.4 1424,1081.5 1425,1078.4 1426,1079.4 1427,1080.6 1428,1085.6 1429,1085.3 1430,1087.4 1431,1085.4 1432,1088.3 1433,1089.6 1434,1092.7 1435,1090.4 1436,1088.2 1437,1093.8 1438,1097.4 1439,1099.9 1440,1094.1 1441,1100.1 1442,1101.9 1443,1102.1 1444,1102.2 1445,1105.1 1446,1105.4 1447,1109.5 1448,1107 1449,1112.5 1450,1110.6 1451,1110.9 1452,1114.9 1453,1114.4 1454,1117.1 1455,1117.8 1456,1117.3 1457,1118.8 1458,1123.6 1459,1119.7 1460,1123.3 1461,1125.7 1462,1125.9 1463,1127.9 1464,1125.5 1465,1129.2 1466,1130.6 1467,1127.2 1468,1131.5 1469,1131 1470,1131.7 1471,1134.8 1472,1135 1473,1137.4 1474,1136.9 1475,1134.4 1476,1137.1 1477,1139.4 1478,1140.9 1479,1139.7 1480,1142.3 1481,1141.3 1482,1145 1483,1144.4 1484,1145.4 1485,1141.8 1486,1146.6 1487,1147.6 1488,1147 1489,1148.2 1490,1150.8 1491,1149.7 1492,1151.8 1493,1149.5 1494,1154 1495,1151.3 1496,1152.2 1497,1155.7 1498,1155.4 1499,1155.6 1500,1158.6 1501,1158.5 1502,1161.7 1503,1160.7 1504,1163 1505,1161 1506,1163.3 1507,1167.6 1508,1165.2 1509,1164.3 1510,1165.5 1511,1166.4 1512,1168.2 1513,1165.6 1514,1170.1 1515,1170.1 1516,1170 1517,1172.1 1518,1168.8 1519,1174.6 1520,1173.3 1521,1175 1522,1173.3 1523,1175.6 1524,1175.8 1525,1177.7 1526,1175.6 1527,1180.4 1528,1178.8 1529,1181 1530,1180 1531,1180.5 1532,1181.1 1533,1182.8 1534,1183 1535,1181.8 1536,1182.8 1537,1184.6 1538,1183.3 1539,1185.7 1540,1185 1541,1187.3 1542,1187.4 1543,1188 1544,1187.6 1545,1189.6 1546,1188.6 1547,1191 1548,1188.7 1549,1190.7 1550,1190.4 1551,1192.9 1552,1192.6 1553,1193 1554,1192 1555,1193 1556,1192.4 1557,1193.1 1558,1195.7 1559,1193.5 1560,1195.5 1561,1196.4 1562,1196.6 1563,1197.9 1564,1195 1565,1198.1 1566,1199.1 1567,1196.8 1568,1198.1 1569,1198.2 1570,1198.1 1571,1199.9 1572,1198.8 1573,1200.2 1574,1200.7 1575,1199.1 1576,1200.1 1577,1201 1578,1202.9 1579,1201.8 1580,1202.4 1581,1200.9 1582,1205 1583,1203.4 1584,1204.2 1585,1205.1 1586,1204.7 1587,1203.9 1588,1204 1589,1206.5 1590,1204 1591,1206.6 1592,1207.7 1593,1205.9 1594,1206.2 1595,1207.5 1596,1207.7 1597,1207.7 1598,1210.3 1599,1207.7 1600,1209.5 1601,1210.9 1602,1209.1 1603,1208.6 1604,1211.5 1605,1209.4 1606,1211.1 1607,1209 1608,1210.7 1609,1208.9 1610,1209.7 1611,1210 1612,1211.3 1613,1212.3 1614,1212.9 1615,1211.8 1616,1210.9 1617,1209.8 1618,1213.1 1619,1212.9 1620,1212.9 1621,1214.4 1622,1214.5 1623,1215.4 1624,1215.6 1625,1215.9 1626,1214.9 1627,1214.5 1628,1214.6 1629,1215.4 1630,1216 1631,1214.7 1632,1216 1633,1216.7 1634,1217.8 1635,1216.6 1636,1216.8 1637,1217 1638,1218.5 1639,1216.3 1640,1218.4 1641,1217.1 1642,1218.1 1643,1219.3 1644,1218.4 1645,1218.9 1646,1218.4 1647,1218.1 1648,1220.5 1649,1219.5 1650,1220 1651,1219.7 1652,1220.1 1653,1220.4 1654,1220.8 1655,1220 1656,1220.5 1657,1221.2 1658,1221 1659,1221.4 1660,1221.1 1661,1221.9 1662,1221.6 1663,1220.5 1664,1221.4 1665,1222.6 1666,1224.2 1667,1222 1668,1221.4 1669,1223.3 1670,1224.6 1671,1222.6 1672,1223.1 1673,1223.2 1674,1224.4 1675,1222.3 1676,1224.3 1677,1224 1678,1224 1679,1224 1680,1224.7 1681,1225.1 1682,1223.6 1683,1224.5 1684,1225.3 1685,1224.1 1686,1225.6 1687,1225.7 1688,1225.3 1689,1224.5 1690,1224.9 1691,1225.3 1692,1226 1693,1225.9 1694,1226 1695,1226.6 1696,1226.2 1697,1226.2 1698,1226.5 1699,1226.7 1700,1226.4 1701,1226.3 1702,1226.8 1703,1227.2 1704,1226.3 1705,1227.1 1706,1227.1 1707,1226.7 1708,1228.3 1709,1227.6 1710,1226.6 1711,1228.7 1712,1228.4 1713,1226.7 1714,1228.7 1715,1228.8 1716,1228.6 1717,1229.2 1718,1228.6 1719,1229.6 1720,1228.7 1721,1229.3 1722,1229.2 1723,1229.5 1724,1229.5 1725,1229.1 1726,1230 1727,1229.8 1728,1230.2 1729,1229.4 1730,1230.7 1731,1229.7 1732,1229.8 1733,1230.3 1734,1231.3 1735,1230.9 1736,1230.9 1737,1231.3 1738,1230.9 1739,1231.3 1740,1231.8 1741,1231.5 1742,1231 1743,1232.6 1744,1232 1745,1231.3 1746,1231.8 1747,1233.9 1748,1232.5 1749,1232 1750,1231.8 1751,1232.1"/>
<polyline stroke="#37AD6B" points="268,1242 269,1242 270,1242 271,1242 272,1242 273,1242 274,1242 275,1242 276,1242 277,1242 278,1242 279,1242 280,1242 281,1242 282,1242 283,1242 284,1242 285,1242 286,1242 287,1242 288,1242 289,1242 290,1242 291,1242 292,1242 293,1242 294,1241.9 295,1242 296,1242 297,1242 298,1242 299,1242 300,1242 301,1241.9 302,1241.9 303,1241.9 304,1241.9 305,1241.9 306,1242 307,1241.9 308,1242 309,1241.9 310,1241.9 311,1241.9 312,1241.8 313,1241.9 314,1241.9 315,1242 316,1241.9 317,1241.9 318,1241.9 319,1241.8 320,1241.9 321,1241.8 322,1241.9 323,1241.9 324,1241.9 325,1241.7 326,1241.9 327,1241.9 328,1241.9 329,1241.8 330,1241.8 331,1241.9 332,1241.8 333,1241.8 334,1241.8 335,1241.9 336,1241.7 337,1241.8 338,1241.7 339,1241.9 340,1241.8 341,1241.8 342,1241.8 343,1241.7 344,1241.7 345,1241.7 346,1241.9 347,1241.7 348,1241.7 349,1241.7 350,1241.8 351,1241.7 352,1241.6 353,1241.7 354,1241.7 355,1241.5 356,1241.6 357,1241.7 358,1241.6 359,1241.8 360,1241.6 361,1241.6 362,1241.6 363,1241.5 364,1241.5 365,1241.7 366,1241.6 367,1241.4 368,1241.4 369,1241.6 370,1241.4 371,1241.5 372,1241.6 373,1241.5 374,1241.5 375,1241.5 376,1241.6 377,1241.4 378,1241.3 379,1241.5 380,1241.6 381,1241.5 382,1241.6 383,1241.6 384,1241.3 385,1241.4 386,1241.4 387,1241.4 388,1241.5 389,1241.5 390,1241.5 391,1241.5 392,1241.3 393,1241.4 394,1241.2 395,1241.3 396,1241.2 397,1241.5 398,1241.2 399,1241.4 400,1241.1 401,1241.3 402,1241.4 403,1241.3 404,1241.3 405,1241.2 406,1241.2 407,1241.2 408,1241.1 409,1241.3 410,1241.2 411,1241.2 412,1241.2 413,1241 414,1240.9 415,1240.9 416,1241.4 417,1241.1 418,1241.2 419,1240.8 420,1241 421,1241.1 422,1241 423,1241.2 424,1241 425,1241 426,1241.2 427,1241.2 428,1241 429,1240.9 430,1240.9 431,1241.1 432,1240.7 433,1240.7 434,1240.7 435,1241 436,1240.9 437,1240.7 438,1240.7 439,1240.8 440,1240.6 441,1240.5 442,1240.5 443,1240.6 444,1240.5 445,1240.6 446,1240.5 447,1240.5 448,1240.6 449,1240.6 450,1240.1 451,1240.5 452,1240.4 453,1240.2 454,1240.6 455,1240.4 456,1240.5 457,1240.2 458,1240.7 459,1240.4 460,1240.1 461,1240.6 462,1240 463,1240.5 464,1240.1 465,1240 466,1239.9 467,1239.8 468,1239.8 469,1240.1 470,1239.9 471,1239.6 472,1239.9 473,1239.5 474,1239.9 475,1239.7 476,1239.7 477,1240 478,1239.2 479,1240.2 480,1240.4 481,1239.9 482,1239.7 483,1239.4 484,1239.8 485,1239.4 486,1239.4 487,1239.2 488,1239.7 489,1239.5 490,1238.9 491,1239.2 492,1238.9 493,1239.4 494,1238.9 495,1239.1 496,1239.2 497,1239 498,1238.7 499,1238.8 500,1238.5 501,1239.2 502,1239.1 503,1238.3 504,1238.4 505,1239.3 506,1238.8 507,1238.5 508,1238.8 509,1238.6 510,1238.7 511,1238.3 512,1238.8 513,1238.3 514,1237.9 515,1238.1 516,1238 517,1238.2 518,1238.1 519,1238 520,1237.6 521,1237.9 522,1237.6 523,1238.2 524,1237.3 525,1237.5 526,1237.3 527,1237.1 528,1237.5 529,1237.4 530,1237.3 531,1237.7 532,1236.9 533,1237.2 534,1237 535,1237 536,1236.4 537,1236.3 538,1237 539,1236.2 540,1236.9 541,1237 542,1236.2 543,1236.5 544,1236.3 545,1236.7 546,1236.9 547,1236.3 548,1236.3 549,1236.3 550,1235.4 551,1235.7 552,1236 553,1235.4 554,1236.1 555,1235 556,1235.2 557,1235.3 558,1235.4 559,1234.7 560,1234.8 561,1235 562,1234.8 563,1235 564,1234.3 565,1234.1 566,1233.3 567,1233.8 568,1234 569,1233.5 570,1233.9 571,1234.3 572,1233.7 573,1234.2 574,1234 575,1233.6 576,1233.8 577,1233.8 578,1232.7 579,1233.9 580,1232.3 581,1233.2 582,1232.7 583,1232.6 584,1232.8 585,1232.5 586,1232.5 587,1232.4 588,1232 589,1232.4 590,1231.7 591,1232.4 592,1231.4 593,1232 594,1231.6 595,1232.4 596,1231.2 597,1232.1 598,1231.2 599,1230.5 600,1231.9 601,1231.6 602,1231.9 603,1230.7 604,1231.3 605,1231.5 606,1230.7 607,1232 608,1230.3 609,1230.8 610,1229.7 611,1229.7 612,1229.8 613,1229.8 614,1229.9 615,1229.9 616,1228.3 617,1229.4 618,1228.9 619,1228.1 620,1228.5 621,1229.1 622,1228.9 623,1227.6 624,1228 625,1227.9 626,1228.7 627,1227.6 628,1227.2 629,1227.5 630,1225.9 631,1227.2 632,1227.5 633,1227 634,1225.6 635,1227.9 636,1226.7 637,1226.1 638,1225.9 639,1226.3 640,1225.5 641,1225.4 642,1225.6 643,1224.4 644,1225.4 645,1224.1 646,1224.8 647,1225 648,1224.5 649,1224.5 650,1223.6 651,1223.1 652,1224.1 653,1223.1 654,1222.5 655,1222.5 656,1222.2 657,1222.9 658,1222.6 659,1223 660,1221 661,1221.6 662,1221.2 663,1219.6 664,1220.7 665,1220.9 666,1219.7 667,1219.1 668,1221.4 669,1218.5 670,1220.2 671,1219.1 672,1218.9 673,1217.9 674,1217.2 675,1218.7 676,1218.7 677,1216.4 678,1217.6 679,1216.4 680,1216.7 681,1215.6 682,1215 683,1214 684,1213.5 685,1214.5 686,1214.1 687,1213 688,1212.4 689,1212.7 690,1213.4 691,1213.5 692,1213.3 693,1212.3 694,1212.6 695,1210.7 696,1212.8 697,1211.3 698,1210.3 699,1210 700,1209.6 701,1210 702,1210.8 703,1209.3 704,1210.5 705,1209.6 706,1207.9 707,1208.2 708,1208.2 709,1208.4 710,1210.2 711,1210.5 712,1208.5 713,1208.4 714,1207.3 715,1208.8 716,1206.9 717,1207.1 718,1207.5 719,1208 720,1207.3 721,1204.9 722,1207.1 723,1206.3 724,1206.8 725,1207.5 726,1204.8 727,1206.2 728,1206.7 729,1204.3 730,1206.7 731,1205.9 732,1205.4 733,1204.2 734,1205.1 735,1205.2 736,1203.6 737,1203.6 738,1203.1 739,1203.9 740,1203.7 741,1204 742,1203.2 743,1202.3 744,1202.4 745,1201.3 746,1202.7 747,1200.6 748,1200.4 749,1200.9 750,1198.8 751,1200.6 752,1201.2 753,1200.1 754,1199.9 755,1199.3 756,1198.5 757,1198 758,1196.5 759,1197.6 760,1197.7 761,1198.4 762,1195.7 763,1196 764,1195.7 765,1194.4 766,1193.9 767,1193.5 768,1193.2 769,1194.7 770,1190.9 771,1190.9 772,1190.2 773,1191.6 774,1191.4 775,1189.3 776,1190.9 777,1188.3 778,1190.6 779,1188.6 780,1189.1 781,1186.1 782,1188.1 783,1186.8 784,1185.5 785,1184 786,1186.1 787,1185.6 788,1183.9 789,1184.9 790,1184.5 791,1184.1 792,1181.2 793,1182.7 794,1181.6 795,1180.1 796,1180.6 797,1179.2 798,1180.7 799,1178.7 800,1178.8 801,1178.8 802,1179.5 803,1177.5 804,1174.7 805,1177.4 806,1175.3 807,1175.9 808,1174.1 809,1172.9 810,1171.1 811,1172.4 812,1172.6 813,1170.4 814,1169.7 815,1169 816,1169.1 817,1168.8 818,1169.1 819,1167 820,1167.1 821,1164.9 822,1166.9 823,1165 824,1162.5 825,1162.5 826,1162.9 827,1164 828,1161.9 829,1163.4 830,1161.2 831,1158.7 832,1158.2 833,1160.9 834,1156.9 835,1156.1 836,1155.2 837,1153.9 838,1156.1 839,1155.6 840,1152.1 841,1155.3 842,1153.5 843,1150.9 844,1148.5 845,1149.2 846,1148.4 847,1149.3 848,1146.9 849,1148 850,1149.5 851,1144 852,1143.4 853,1145.4 854,1145.4 855,1139 856,1140.2 857,1137.8 858,1140 859,1138.9 860,1136.7 861,1137.5 862,1138.1 863,1130.6 864,1132.1 865,1132.6 866,1133 867,1133 868,1131.8 869,1133.6 870,1130.1 871,1128 872,1127.2 873,1124.4 874,1126.7 875,1127.1 876,1123.6 877,1126.2 878,1121.9 879,1124.5 880,1122.4 881,1124.9 882,1121.9 883,1121.2 884,1119.5 885,1117.6 886,1117.8 887,1116.5 888,1114.9 889,1118.9 890,1117.8 891,1116.3 892,1115.6 893,1111.5 894,1108.4 895,1113.2 896,1112.4 897,1111.6 898,1111.2 899,1110 900,1106.6 901,1108 902,1106.8 903,1107.5 904,1104.8 905,1102.9 906,1101.7 907,1098.7 908,1098.5 909,1099.5 910,1093.3 911,1093.9 912,1095.9 913,1092.1 914,1089.1 915,1092 916,1091.2 917,1089.7 918,1088.5 919,1084.2 920,1090.9 921,1083.3 922,1082.4 923,1084 924,1082.9 925,1080.8 926,1080.1 927,1079.9 928,1078.3 929,1074.9 930,1075.6 931,1075 932,1073.9 933,1072 934,1068.9 935,1070.7 936,1070 937,1068.3 938,1063.1 939,1065.9 940,1067.1 941,1063.8 942,1060.7 943,1061 944,1059 945,1057.2 946,1057.7 947,1055.9 948,1052.5 949,1056.4 950,1053.4 951,1046.5 952,1048.3 953,1047.1 954,1040.4 955,1041.8 956,1045.2 957,1041.3 958,1040.7 959,1038.6 960,1036.5 961,1033.5 962,1029.8 963,1026.7 964,1026.6 965,1028 966,1025.8 967,1024.1 968,1018.2 969,1013.9 970,1016.4 971,1012.7 972,1008.6 973,1005.6 974,1000.4 975,1001.1 976,990.6 977,990.5 978,989.4 979,984.5 980,984.9 981,978.7 982,972.6 983,969 984,962.3 985,967.6 986,961.6 987,959.6 988,951.6 989,948.7 990,949.5 991,943.3 992,941 993,941.7 994,935.3 995,931.9 996,928.2 997,923.1 998,923.5 999,919.2 1000,922.5 1001,915.2 1002,906.2 1003,907.4 1004,903.4 1005,907.7 1006,901 1007,895.7 1008,896.1 1009,898.1 1010,895.5 1011,891.8 1012,890 1013,884.1 1014,884.8 1015,883.6 1016,879.9 1017,881 1018,875.4 1019,879.5 1020,872.6 1021,869.8 1022,867.3 1023,867.6 1024,867.8 1025,865.7 1026,861 1027,862 1028,856.8 1029,858.3 1030,858.8 1031,856.4 1032,853.2 1033,851.2 1034,853.3 1035,851.2 1036,844.8 1037,846.2 1038,847.1 1039,847.2 1040,845.2 1041,848.3 1042,839.5 1043,845.7 1044,838.9 1045,839.6 1046,835.9 1047,836.2 1048,829.5 1049,836.8 1050,829.3 1051,828.9 1052,820.8 1053,825.8 1054,822.6 1055,825.3 1056,822.5 1057,818.2 1058,813.7 1059,820.5 1060,813.6 1061,816 1062,814.2 1063,813.8 1064,803.4 1065,802 1066,802.5 1067,799.8 1068,802.4 1069,799.4 1070,798.7 1071,795.5 1072,794.6 1073,793.1 1074,790.3 1075,786.6 1076,790.6 1077,784.1 1078,778.7 1079,776.3 1080,782.7 1081,778.6 1082,777.2 1083,773.2 1084,777.2 1085,778.7 1086,775.8 1087,770.6 1088,772.8 1089,773.2 1090,769 1091,767.7 1092,767.2 1093,776.4 1094,774.4 1095,769 1096,769.2 1097,771.7 1098,770.8 1099,768.9 1100,762.9 1101,761.9 1102,763.9 1103,765.8 1104,764.4 1105,761.1 1106,758.1 1107,764.8 1108,755.7 1109,758 1110,757.1 1111,756.8 1112,758.6 1113,746.3 1114,742.2 1115,751.6 1116,752.3 1117,750.9 1118,749.4 1119,746.1 1120,745.1 1121,751.7 1122,742.2 1123,747.9 1124,743 1125,743.2 1126,739.5 1127,741.4 1128,739.7 1129,736.3 1130,738 1131,735.2 1132,744.3 1133,738.1 1134,740.3 1135,747.6 1136,744.7 1137,741.6 1138,746.6 1139,744.9 1140,746.4 1141,741.8 1142,747.9 1143,746.1 1144,744.3 1145,742.8 1146,745.3 1147,743.6 1148,747.1 1149,747.5 1150,744.6 1151,751.8 1152,750.5 1153,743.4 1154,753 1155,745.9 1156,743.4 1157,748.6 1158,752.4 1159,753.7 1160,747.1 1161,750 1162,749.8 1163,754 1164,752.6 1165,751.5 1166,751.4 1167,751.4 1168,751.7 1169,750.6 1170,749.6 1171,756.9 1172,753.3 1173,754.2 1174,753.3 1175,756.1 1176,753.8 1177,758.2 1178,757.7 1179,764.2 1180,756 1181,768.6 1182,767.1 1183,765 1184,772.1 1185,770.9 1186,774.7 1187,773.9 1188,776 1189,776.3 1190,776 1191,776 1192,780.6 1193,781.7 1194,782.4 1195,779.5 1196,781.7 1197,783.1 1198,784 1199,784.5 1200,787.5 1201,785.9 1202,790.7 1203,787.3 1204,791.6 1205,792.7 1206,794.5 1207,800.6 1208,795.2 1209,800 1210,802 1211,805.6 1212,802.7 1213,803.6 1214,806.8 1215,810.2 1216,813 1217,818.6 1218,820.3 1219,819 1220,819 1221,822.2 1222,822.4 1223,821.6 1224,822.3 1225,829.9 1226,827.2 1227,824.7 1228,831.4 1229,826.7 1230,829.5 1231,832.5 1232,833 1233,833.9 1234,834.7 1235,836 1236,836.4 1237,842.3 1238,846.6 1239,842.7 1240,848.8 1241,851.3 1242,847.7 1243,855.9 1244,857.6 1245,857.1 1246,857.4 1247,863.2 1248,864.6 1249,863.7 1250,861 1251,873.3 1252,864.3 1253,873.7 1254,868.8 1255,876.6 1256,878.3 1257,881.9 1258,884.8 1259,887.3 1260,884.8 1261,891.7 1262,893 1263,890.8 1264,896.1 1265,894.8 1266,899.3 1267,897.4 1268,903.1 1269,907.9 1270,904.9 1271,908.7 1272,914.9 1273,918.8 1274,910.7 1275,914.4 1276,911.4 1277,915.1 1278,925.7 1279,921.9 1280,923.6 1281,925.5 1282,931.2 1283,926.9 1284,930.1 1285,933.3 1286,934 1287,938.3 1288,943.5 1289,940 1290,943.6 1291,948.8 1292,947.2 1293,946.2 1294,952.4 1295,954.5 1296,958.5 1297,956.1 1298,960.9 1299,963.1 1300,957 1301,963.3 1302,970.2 1303,965.3 1304,972.5 1305,970.6 1306,969.5 1307,968.8 1308,975 1309,975.3 1310,984.7 1311,976.9 1312,986.5 1313,985.5 1314,990.4 1315,986.5 1316,992.5 1317,991.7 1318,997.5 1319,1001.2 1320,1001.1 1321,1002 1322,1005.9 1323,1007.4 1324,1006.6 1325,1005.3 1326,1011.3 1327,1009.5 1328,1014.7 1329,1024.3 1330,1024.4 1331,1021.8 1332,1026 1333,1030.9 1334,1029.3 1335,1027.5 1336,1029.9 1337,1038.6 1338,1040.7 1339,1042.4 1340,1042.8 1341,1044.2 1342,1046.1 1343,1046.7 1344,1049.8 1345,1052 1346,1050.5 1347,1058.5 1348,1057.2 1349,1059.5 1350,1057.7 1351,1060.7 1352,1061.5 1353,1061.5 1354,1064 1355,1071.3 1356,1069 1357,1071.2 1358,1071.6 1359,1073 1360,1072.7 1361,1076.5 1362,1075.4 1363,1079.1 1364,1077 1365,1079.5 1366,1081.6 1367,1084.5 1368,1082.8 1369,1086.5 1370,1088.2 1371,1090.1 1372,1090.2 1373,1091.5 1374,1092.2 1375,1091.3 1376,1095.5 1377,1095 1378,1097.3 1379,1101 1380,1100.7 1381,1100.9 1382,1101.1 1383,1101.6 1384,1101.4 1385,1104.8 1386,1108.3 1387,1107.4 1388,1106.2 1389,1110.4 1390,1108.1 1391,1109.1 1392,1113.1 1393,1113.4 1394,1115.9 1395,1112.2 1396,1115.5 1397,1116.1 1398,1116.4 1399,1117.3 1400,1115.1 1401,1118.9 1402,1118.1 1403,1120.7 1404,1119.7 1405,1123.3 1406,1123.1 1407,1123.2 1408,1124.1 1409,1123.7 1410,1127.3 1411,1126.9 1412,1127 1413,1127.5 1414,1128.2 1415,1129.2 1416,1129 1417,1128.2 1418,1127.9 1419,1129.4 1420,1133.8 1421,1131.9 1422,1134.8 1423,1136.7 1424,1135.6 1425,1135.7 1426,1136.7 1427,1139.1 1428,1137.3 1429,1140.1 1430,1143.1 1431,1141.9 1432,1142.4 1433,1143 1434,1142.9 1435,1142 1436,1146 1437,1146.9 1438,1144.3 1439,1147.4 1440,1149.9 1441,1150.1 1442,1150.7 1443,1149.4 1444,1149.9 1445,1152.1 1446,1154.5 1447,1152.8 1448,1156.8 1449,1153.6 1450,1155.1 1451,1158.2 1452,1155.4 1453,1159 1454,1159.6 1455,1160.3 1456,1160.3 1457,1160.8 1458,1160.1 1459,1162.2 1460,1162.6 1461,1162 1462,1163.1 1463,1166.4 1464,1165.5 1465,1165.8 1466,1167.4 1467,1165.9 1468,1169.7 1469,1170.7 1470,1172.8 1471,1170.7 1472,1172.7 1473,1171.5 1474,1171.9 1475,1172.7 1476,1174.2 1477,1174 1478,1175.3 1479,1174.7 1480,1175 1481,1177.6 1482,1175.7 1483,1177.3 1484,1179.8 1485,1179 1486,1179.6 1487,1179.2 1488,1179.3 1489,1181.7 1490,1180.9 1491,1181.7 1492,1182.8 1493,1181.5 1494,1183.1 1495,1179.6 1496,1185.5 1497,1185.6 1498,1183.2 1499,1185.6 1500,1185.9 1501,1184.7 1502,1186.3 1503,1186.3 1504,1186.8 1505,1187.7 1506,1189.1 1507,1188.3 1508,1188.9 1509,1189.3 1510,1188.9 1511,1191.1 1512,1193.4 1513,1193.1 1514,1191.3 1515,1193.4 1516,1192.7 1517,1195.1 1518,1192.7 1519,1196.4 1520,1194 1521,1196.7 1522,1197.9 1523,1197.2 1524,1199 1525,1197.8 1526,1200.1 1527,1198.5 1528,1199.4 1529,1200.4 1530,1202.7 1531,1200.1 1532,1200.4 1533,1202.8 1534,1202.2 1535,1201.8 1536,1202.7 1537,1204.1 1538,1202.9 1539,1203.2 1540,1204.8 1541,1205.4 1542,1204.6 1543,1205.4 1544,1207 1545,1205.2 1546,1205.7 1547,1208.2 1548,1208.1 1549,1209.2 1550,1208.4 1551,1208.6 1552,1209.2 1553,1207.8 1554,1208.5 1555,1210.3 1556,1210.6 1557,1211.1 1558,1211.2 1559,1211.2 1560,1210.4 1561,1212.1 1562,1212.2 1563,1211 1564,1213.2 1565,1213.1 1566,1213.6 1567,1212.7 1568,1213.2 1569,1216.1 1570,1213.8 1571,1214.2 1572,1215.4 1573,1213.2 1574,1215.3 1575,1215.8 1576,1216.2 1577,1216.3 1578,1214.9 1579,1216.4 1580,1216.8 1581,1214.9 1582,1217.2 1583,1216.7 1584,1217.3 1585,1217.5 1586,1217.5 1587,1218.2 1588,1218.2 1589,1218.9 1590,1218.6 1591,1217.9 1592,1219.8 1593,1219 1594,1217.9 1595,1219.5 1596,1219.6 1597,1220.1 1598,1220.6 1599,1220 1600,1219.4 1601,1220.8 1602,1219.9 1603,1220.3 1604,1220.9 1605,1220.4 1606,1220.5 1607,1222 1608,1221.2 1609,1221.6 1610,1221.2 1611,1221.5 1612,1221.3 1613,1222 1614,1221.9 1615,1222 1616,1221.9 1617,1224.1 1618,1223.2 1619,1222.2 1620,1221.8 1621,1223.4 1622,1223 1623,1222.8 1624,1223.6 1625,1222.9 1626,1224.6 1627,1223.7 1628,1223.1 1629,1222.9 1630,1225.1 1631,1223.9 1632,1224.1 1633,1224.6 1634,1224 1635,1223.9 1636,1224.4 1637,1225.1 1638,1225.1 1639,1224.7 1640,1225.1 1641,1226.4 1642,1226.2 1643,1225.5 1644,1226 1645,1225.9 1646,1226.3 1647,1227.4 1648,1226 1649,1226.7 1650,1226.6 1651,1226.8 1652,1226.7 1653,1226.4 1654,1226.6 1655,1225.9 1656,1226.6 1657,1227.1 1658,1227.9 1659,1228 1660,1227.6 1661,1227.4 1662,1227.2 1663,1227.1 1664,1228.1 1665,1228.5 1666,1228.2 1667,1227.8 1668,1227.9 1669,1229.4 1670,1228.9 1671,1228.5 1672,1229.4 1673,1229 1674,1228.2 1675,1229.3 1676,1229.4 1677,1230 1678,1229 1679,1229.9 1680,1230 1681,1229.9 1682,1229.8 1683,1229.9 1684,1229.9 1685,1230.1 1686,1230.5 1687,1230.2 1688,1230 1689,1230.2 1690,1230.3 1691,1230.4 1692,1230.7 1693,1230 1694,1231 1695,1231.9 1696,1231.4 1697,1230.8 1698,1230.4 1699,1231.1 1700,1231.2 1701,1231.4 1702,1231 1703,1231.1 1704,1231.9 1705,1231.6 1706,1232.3 1707,1231.4 1708,1231.2 1709,1232.2 1710,1231.7 1711,1231.8 1712,1232.6 1713,1232.2 1714,1232.8 1715,1232.2 1716,1232.6 1717,1232.8 1718,1233.1 1719,1233.1 1720,1232.7 1721,1232.8 1722,1233.4 1723,1233.5 1724,1233.6 1725,1232.6 1726,1232.6 1727,1233.4 1728,1233 1729,1233.3 1730,1233.6 1731,1233.5 1732,1233.8 1733,1234.4 1734,1233.4 1735,1233.9 1736,1233.7 1737,1233.8 1738,1233.6 1739,1234.3 1740,1234 1741,1234.9 1742,1234.7 1743,1233.7 1744,1234.7 1745,1234.4 1746,1234.4 1747,1235 1748,1235.5 1749,1234.2 1750,1234.4 1751,1234.5"/>
<polyline stroke="#B177DE" points="268,1242 269,1242 270,1242 271,1242 272,1242 273,1242 274,1242 275,1242 276,1242 277,1242 278,1242 279,1242 280,1242 281,1242 282,1242 283,1242 284,1242 285,1242 286,1242 287,1242 288,1242 289,1242 290,1242 291,1242 292,1242 293,1242 294,1242 295,1242 296,1242 297,1242 298,1242 299,1242 300,1242 301,1242 302,1242 303,1242 304,1242 305,1242 306,1241.9 307,1242 308,1242 309,1242 310,1242 311,1242 312,1241.9 313,1242 314,1242 315,1242 316,1241.9 317,1242 318,1242 319,1242 320,1242 321,1241.9 322,1242 323,1242 324,1241.9 325,1241.9 326,1242 327,1242 328,1242 329,1242 330,1241.9 331,1242 332,1242 333,1241.9 334,1241.9 335,1241.9 336,1242 337,1242 338,1241.9 339,1242 340,1241.9 341,1242 342,1241.9 343,1242 344,1241.9 345,1242 346,1241.9 347,1242 348,1242 349,1242 350,1241.9 351,1241.9 352,1241.9 353,1241.9 354,1241.9 355,1241.9 356,1241.9 357,1241.9 358,1241.9 359,1241.9 360,1241.8 361,1241.9 362,1241.9 363,1241.9 364,1241.9 365,1241.8 366,1241.9 367,1241.8 368,1241.9 369,1241.9 370,1241.9 371,1241.9 372,1241.9 373,1241.8 374,1241.9 375,1241.8 376,1241.8 377,1241.9 378,1241.9 379,1241.8 380,1241.8 381,1241.7 382,1241.8 383,1241.8 384,1241.9 385,1241.9 386,1241.8 387,1241.9 388,1241.9 389,1241.7 390,1241.8 391,1241.8 392,1241.7 393,1241.7 394,1241.8 395,1241.7 396,1241.7 397,1241.8 398,1241.8 399,1241.8 400,1241.9 401,1241.9 402,1241.6 403,1241.8 404,1241.8 405,1241.8 406,1241.8 407,1241.9 408,1241.8 409,1241.7 410,1241.8 411,1241.6 412,1241.8 413,1241.7 414,1241.6 415,1241.6 416,1241.6 417,1241.6 418,1241.7 419,1241.7 420,1241.6 421,1241.7 422,1241.8 423,1241.7 424,1241.6 425,1241.9 426,1241.6 427,1241.7 428,1241.7 429,1241.7 430,1241.6 431,1241.8 432,1241.6 433,1241.7 434,1241.6 435,1241.8 436,1241.5 437,1241.5 438,1241.5 439,1241.6 440,1241.6 441,1241.6 442,1241.5 443,1241.6 444,1241.4 445,1241.4 446,1241.5 447,1241.5 448,1241.5 449,1241.5 450,1241.5 451,1241.6 452,1241.6 453,1241.6 454,1241.5 455,1241.4 456,1241.4 457,1241.4 458,1241.3 459,1241.5 460,1241.7 461,1241.5 462,1241.5 463,1241.2 464,1241.4 465,1241.4 466,1241.4 467,1241.3 468,1241.3 469,1241.3 470,1241.3 471,1241.6 472,1241.5 473,1241.2 474,1241.4 475,1241.3 476,1241.6 477,1241.2 478,1241.4 479,1241.5 480,1241.6 481,1241.5 482,1241.3 483,1241.1 484,1241.2 485,1241.2 486,1241.3 487,1241.2 488,1241.1 489,1241.4 490,1241.3 491,1241.2 492,1241.2 493,1241.2 494,1241.1 495,1241.6 496,1241.2 497,1241.2 498,1241.4 499,1241.2 500,1241.2 501,1241.1 502,1241.1 503,1240.9 504,1241.2 505,1241.5 506,1241.2 507,1241.2 508,1241.3 509,1241.3 510,1241 511,1241 512,1241.1 513,1241.3 514,1240.9 515,1241 516,1241 517,1241.1 518,1241.1 519,1241 520,1241.2 521,1240.9 522,1241.3 523,1241.1 524,1241.1 525,1240.8 526,1241 527,1240.8 528,1240.8 529,1241.1 530,1241 531,1240.8 532,1240.6 533,1241 534,1240.9 535,1241 536,1241 537,1241.1 538,1240.5 539,1240.4 540,1241 541,1240.5 542,1241 543,1240.9 544,1240.8 545,1240.8 546,1240.5 547,1240.8 548,1240.7 549,1240.8 550,1241.1 551,1240.7 552,1240.9 553,1241 554,1240.6 555,1240.6 556,1240.6 557,1240.5 558,1240.4 559,1240.8 560,1240.9 561,1240.7 562,1240.5 563,1240.5 564,1240.7 565,1240.5 566,1240.6 567,1240.5 568,1240.7 569,1240.7 570,1240.6 571,1240.3 572,1240.4 573,1240.7 574,1240.8 575,1240.4 576,1241 577,1240.4 578,1240.4 579,1240.5 580,1240.3 581,1240.4 582,1240.4 583,1240.3 584,1240.3 585,1240.5 586,1240.6 587,1240.8 588,1240.4 589,1240.1 590,1240.2 591,1240 592,1240.3 593,1240.2 594,1240.3 595,1240.2 596,1240.3 597,1240.2 598,1240.5 599,1239.8 600,1240.4 601,1240.4 602,1240.3 603,1240.2 604,1240.2 605,1240 606,1239.9 607,1240.2 608,1240.2 609,1240.2 610,1239.9 611,1240.1 612,1240 613,1240.2 614,1239.8 615,1239.2 616,1239.4 617,1239.7 618,1239.2 619,1239.7 620,1239.3 621,1239.4 622,1239.4 623,1239 624,1239.3 625,1239.4 626,1238.9 627,1238.9 628,1238.7 629,1239 630,1239 631,1238.5 632,1238.5 633,1238.7 634,1238.4 635,1238.8 636,1238.2 637,1238 638,1237.7 639,1237.8 640,1237.4 641,1237.9 642,1238.3 643,1237.2 644,1237.1 645,1237.1 646,1237.4 647,1237 648,1237.5 649,1237.5 650,1236.9 651,1236.9 652,1236.7 653,1237.1 654,1237.4 655,1236.3 656,1236.4 657,1236.1 658,1236.6 659,1236.5 660,1236 661,1236.1 662,1236.9 663,1236.8 664,1235.6 665,1235.8 666,1235.6 667,1235.8 668,1235.1 669,1235.7 670,1235.8 671,1235.7 672,1234.6 673,1235.8 674,1234.6 675,1234.3 676,1235.2 677,1235 678,1234.5 679,1234.8 680,1234.6 681,1234.3 682,1233.6 683,1233.8 684,1233.9 685,1234.3 686,1234.3 687,1233.4 688,1233.1 689,1232.9 690,1233.5 691,1232.7 692,1233.8 693,1232.8 694,1232.6 695,1232.8 696,1232.3 697,1231.7 698,1232.1 699,1232.1 700,1231.5 701,1231.4 702,1231.4 703,1230.3 704,1230.7 705,1230.8 706,1230.1 707,1230.7 708,1230.5 709,1228.9 710,1229.5 711,1229.8 712,1229.2 713,1229.4 714,1229.2 715,1227.8 716,1228.5 717,1227.6 718,1226.6 719,1227.9 720,1226.9 721,1227 722,1227.3 723,1227.2 724,1226.2 725,1225.5 726,1225.4 727,1226.2 728,1225.1 729,1226.2 730,1225.8 731,1224.1 732,1225.5 733,1223.7 734,1223.8 735,1223.6 736,1222.7 737,1223.3 738,1223.4 739,1224.3 740,1223.5 741,1222 742,1222.4 743,1222.8 744,1221.8 745,1221.1 746,1221.4 747,1220.5 748,1221.2 749,1220.6 750,1221.6 751,1220.5 752,1219.6 753,1220.8 754,1220 755,1219.4 756,1220.1 757,1219.2 758,1218.3 759,1218.6 760,1220 761,1220.2 762,1218.6 763,1219.1 764,1217.4 765,1219.1 766,1218.2 767,1218.6 768,1217.8 769,1217.8 770,1216.5 771,1217.9 772,1217 773,1217.4 774,1218.3 775,1215 776,1217.5 777,1216.8 778,1216.6 779,1216.8 780,1215.6 781,1214.3 782,1215 783,1215 784,1213.2 785,1215.3 786,1215 787,1213.5 788,1214.2 789,1214 790,1213.7 791,1213.4 792,1214 793,1213.1 794,1214.3 795,1212.5 796,1213.1 797,1212.9 798,1210.2 799,1211.4 800,1211.3 801,1211.1 802,1210.7 803,1211.1 804,1210.5 805,1209.2 806,1210.1 807,1208.6 808,1208.7 809,1207.6 810,1206.6 811,1206.4 812,1208.4 813,1207.4 814,1205.8 815,1206.7 816,1204.8 817,1204.6 818,1203.4 819,1204.3 820,1204.8 821,1206.3 822,1203.3 823,1203.5 824,1203.3 825,1203.4 826,1201.6 827,1200.8 828,1202.4 829,1200 830,1201.4 831,1200.1 832,1200.3 833,1200.4 834,1197.8 835,1201.4 836,1197.5 837,1197.4 838,1198.7 839,1194.6 840,1196.5 841,1197.3 842,1196.3 843,1196.2 844,1195.6 845,1195.3 846,1194.8 847,1196.9 848,1195.1 849,1193 850,1193.4 851,1194.3 852,1194.4 853,1191.2 854,1192.1 855,1189.3 856,1190.8 857,1192.9 858,1191.5 859,1190 860,1188.7 861,1189.5 862,1189.2 863,1189.1 864,1189.2 865,1188.2 866,1185.6 867,1186.5 868,1186.4 869,1185.2 870,1187.7 871,1184.5 872,1186 873,1185.4 874,1184.9 875,1184.3 876,1182.9 877,1183.7 878,1184.2 879,1181.5 880,1184 881,1181.2 882,1182.7 883,1180.8 884,1182.7 885,1182.3 886,1181.9 887,1182.1 888,1178.8 889,1174.8 890,1176.4 891,1176.4 892,1178.7 893,1178.4 894,1175.6 895,1177.4 896,1175.6 897,1175.3 898,1176 899,1173.8 900,1176.3 901,1175.9 902,1177.3 903,1176.1 904,1175.2 905,1176.1 906,1174.3 907,1174.5 908,1172.5 909,1172.9 910,1173.4 911,1174.5 912,1174.8 913,1174.5 914,1171.4 915,1171.4 916,1169.8 917,1168.4 918,1171.1 919,1167.5 920,1169.7 921,1167.4 922,1167.2 923,1168.3 924,1165 925,1166.3 926,1163.6 927,1164 928,1163.2 929,1162.8 930,1160.1 931,1160.8 932,1160.9 933,1158.6 934,1159.7 935,1158.9 936,1157.3 937,1156 938,1156.2 939,1154.1 940,1155 941,1153.7 942,1154.7 943,1151.8 944,1149.6 945,1150.7 946,1148.8 947,1150.6 948,1146 949,1145.5 950,1145.2 951,1144.2 952,1143.9 953,1146.5 954,1141.5 955,1142.9 956,1138.8 957,1137.8 958,1137.5 959,1139.1 960,1135.9 961,1135 962,1132.2 963,1131.7 964,1134.5 965,1127.5 966,1124.7 967,1126.6 968,1123.9 969,1122.1 970,1119.5 971,1122.6 972,1120.7 973,1119 974,1119.8 975,1119 976,1116.2 977,1116.3 978,1111.1 979,1113.1 980,1109.3 981,1109.8 982,1111.4 983,1107.4 984,1109.8 985,1107.3 986,1105.3 987,1100.4 988,1101.4 989,1100.8 990,1100.4 991,1097.4 992,1093.3 993,1096.4 994,1090.5 995,1090.6 996,1086.9 997,1089.5 998,1089.7 999,1088.7 1000,1083.5 1001,1085.2 1002,1083.4 1003,1082.6 1004,1082 1005,1079.7 1006,1081 1007,1074 1008,1075.9 1009,1074.2 1010,1069.9 1011,1071.6 1012,1069.6 1013,1066.8 1014,1068.8 1015,1066.3 1016,1067.5 1017,1063.7 1018,1066.4 1019,1063.4 1020,1062.2 1021,1062.6 1022,1063.9 1023,1058.5 1024,1058.1 1025,1056.7 1026,1056.4 1027,1051 1028,1057.3 1029,1056.7 1030,1055.3 1031,1051.4 1032,1046.9 1033,1047.3 1034,1048.9 1035,1046.8 1036,1043.6 1037,1044.8 1038,1041.7 1039,1041.4 1040,1044 1041,1040.9 1042,1039 1043,1039.1 1044,1038.6 1045,1040.4 1046,1040.5 1047,1039.4 1048,1035.9 1049,1035.1 1050,1039.4 1051,1034.9 1052,1032.7 1053,1035.1 1054,1030 1055,1035 1056,1034.7 1057,1031.7 1058,1022.4 1059,1029 1060,1029.1 1061,1027.4 1062,1031.5 1063,1023 1064,1022.3 1065,1024.7 1066,1021.1 1067,1022.2 1068,1018.4 1069,1015.7 1070,1013.5 1071,1014.4 1072,1012.9 1073,1015.1 1074,1013.4 1075,1007.8 1076,1014.2 1077,1010.7 1078,1008.6 1079,1016.1 1080,1010.9 1081,1011.3 1082,1012.2 1083,1008 1084,1011 1085,1011.2 1086,1009.1 1087,1011.1 1088,1011.9 1089,1010.6 1090,1004.9 1091,1008.6 1092,1010 1093,1012.6 1094,1010.3 1095,1009.4 1096,1005.3 1097,1009.2 1098,1013.1 1099,1007 1100,1005.6 1101,1006.4 1102,1007.2 1103,1004.2 1104,1005 1105,1001.6 1106,1002.8 1107,1002.7 1108,1000.8 1109,998.8 1110,1004.5 1111,999.7 1112,1000.7 1113,994.5 1114,997 1115,996 1116,1001.3 1117,998 1118,995.4 1119,996.9 1120,995.5 1121,996 1122,990.7 1123,988.9 1124,994 1125,994 1126,993.9 1127,997.2 1128,993 1129,993.6 1130,992.2 1131,989 1132,990.5 1133,991.7 1134,993.1 1135,997.4 1136,994.7 1137,993.6 1138,989.9 1139,996.2 1140,993.6 1141,989 1142,995.8 1143,995.9 1144,996.7 1145,996.4 1146,994 1147,995.5 1148,993.8 1149,995.8 1150,997.2 1151,997.5 1152,994.5 1153,1000.2 1154,996.3 1155,991.5 1156,1000.2 1157,999.3 1158,1000.4 1159,997.1 1160,996.6 1161,995.7 1162,999.2 1163,999.7 1164,999.6 1165,999.9 1166,996.3 1167,998.7 1168,999.8 1169,998.2 1170,1002.8 1171,993.6 1172,999.9 1173,998.4 1174,999.4 1175,999.8 1176,999.9 1177,1001.4 1178,1001.7 1179,999.6 1180,1005.5 1181,1006.4 1182,1003.3 1183,1008.3 1184,1008.2 1185,1010.2 1186,1010.2 1187,1009 1188,1012.6 1189,1008.3 1190,1016.7 1191,1011.9 1192,1012.8 1193,1016.7 1194,1015.7 1195,1018.3 1196,1021.5 1197,1019.4 1198,1018.1 1199,1016.7 1200,1019.4 1201,1017.8 1202,1021.3 1203,1014.8 1204,1020.2 1205,1021.2 1206,1020.7 1207,1025 1208,1025.8 1209,1020 1210,1027.9 1211,1024.6 1212,1026.7 1213,1027.8 1214,1026.3 1215,1028 1216,1029.8 1217,1027.5 1218,1030 1219,1032.2 1220,1030.4 1221,1030.8 1222,1030.9 1223,1031.3 1224,1032.5 1225,1030.8 1226,1034.3 1227,1033.7 1228,1036.6 1229,1040.4 1230,1039.4 1231,1037.3 1232,1040.4 1233,1040.3 1234,1039.7 1235,1043.8 1236,1046.2 1237,1046.1 1238,1045.9 1239,1044.7 1240,1047.1 1241,1050 1242,1050.1 1243,1052.1 1244,1050.2 1245,1046.6 1246,1055 1247,1055.4 1248,1057.9 1249,1058.6 1250,1058.3 1251,1056.2 1252,1055 1253,1057.4 1254,1057.8 1255,1057.5 1256,1060.4 1257,1064.1 1258,1061.6 1259,1063.9 1260,1066 1261,1063.6 1262,1065.6 1263,1065.8 1264,1064.9 1265,1070 1266,1071.4 1267,1072.3 1268,1071.5 1269,1070.6 1270,1075.9 1271,1070.3 1272,1075.4 1273,1075.2 1274,1074.2 1275,1079.6 1276,1081.5 1277,1078.5 1278,1079.3 1279,1081.4 1280,1081.4 1281,1086.6 1282,1081.6 1283,1082.9 1284,1086.2 1285,1085.2 1286,1086.1 1287,1087.2 1288,1088.7 1289,1092 1290,1088.8 1291,1093.4 1292,1090.9 1293,1091.7 1294,1096.2 1295,1096.4 1296,1098 1297,1099.1 1298,1097.4 1299,1097.7 1300,1100.7 1301,1099.6 1302,1102 1303,1106.4 1304,1101.9 1305,1103.3 1306,1107.8 1307,1109.2 1308,1108.2 1309,1110.1 1310,1110.1 1311,1111 1312,1113.3 1313,1115.5 1314,1112.9 1315,1113.7 1316,1118.1 1317,1117.9 1318,1121.3 1319,1121.4 1320,1121.9 1321,1123.7 1322,1129.9 1323,1126 1324,1126.1 1325,1125.8 1326,1130.6 1327,1133.3 1328,1132.2 1329,1133.3 1330,1134.1 1331,1135.9 1332,1136.2 1333,1138.3 1334,1139.3 1335,1140.1 1336,1143.6 1337,1141.2 1338,1142.6 1339,1142.8 1340,1144.7 1341,1146.2 1342,1149.5 1343,1147.6 1344,1148.5 1345,1149.8 1346,1149.2 1347,1151.1 1348,1149.2 1349,1153.9 1350,1154.7 1351,1155.5 1352,1157.5 1353,1157 1354,1158.5 1355,1158.5 1356,1158.5 1357,1159.5 1358,1160.7 1359,1161.3 1360,1159.2 1361,1160.2 1362,1161.5 1363,1161.4 1364,1162.8 1365,1163.2 1366,1163.5 1367,1165.6 1368,1167.9 1369,1168.8 1370,1169.7 1371,1170 1372,1165.6 1373,1171.7 1374,1170.4 1375,1168.8 1376,1170.2 1377,1171.2 1378,1171.4 1379,1174.3 1380,1173.3 1381,1176.6 1382,1176.8 1383,1173.1 1384,1175.2 1385,1177.5 1386,1177.5 1387,1177.4 1388,1177.9 1389,1178 1390,1178.3 1391,1180.3 1392,1180.1 1393,1179.6 1394,1178.9 1395,1181.9 1396,1181.9 1397,1179.5 1398,1183.2 1399,1182.1 1400,1184.1 1401,1184.2 1402,1186.2 1403,1184 1404,1187.6 1405,1186.3 1406,1188.9 1407,1187.5 1408,1187.6 1409,1186.9 1410,1190.3 1411,1190.2 1412,1189.3 1413,1189.1 1414,1189.3 1415,1189.8 1416,1190.7 1417,1189.9 1418,1190.6 1419,1192 1420,1191.6 1421,1191.8 1422,1193.9 1423,1194.8 1424,1194.2 1425,1194.5 1426,1194.9 1427,1195 1428,1195.7 1429,1196.5 1430,1195.6 1431,1195.7 1432,1196.8 1433,1197.3 1434,1199.2 1435,1200 1436,1199.8 1437,1199.1 1438,1199.6 1439,1199.6 1440,1201.8 1441,1203 1442,1202.3 1443,1203 1444,1204 1445,1204.3 1446,1205.3 1447,1204.9 1448,1205.4 1449,1205.9 1450,1207.6 1451,1206.8 1452,1208 1453,1207.2 1454,1208.6 1455,1208 1456,1207.4 1457,1207.3 1458,1209.7 1459,1208.4 1460,1209.4 1461,1208.5 1462,1210.2 1463,1209.6 1464,1211.9 1465,1210.2 1466,1211.6 1467,1213.4 1468,1212.7 1469,1212.4 1470,1211 1471,1213.3 1472,1213.8 1473,1212.3 1474,1212.9 1475,1212.6 1476,1212.6 1477,1213.5 1478,1214.1 1479,1214.2 1480,1215 1481,1214.8 1482,1214.7 1483,1215.8 1484,1214.2 1485,1215.1 1486,1215.7 1487,1216.2 1488,1214.9 1489,1216.9 1490,1215.1 1491,1215.8 1492,1217.5 1493,1215.2 1494,1216.7 1495,1218.2 1496,1217.9 1497,1217.6 1498,1217.5 1499,1218.2 1500,1216.8 1501,1219.3 1502,1218 1503,1218 1504,1219.5 1505,1219.4 1506,1219.3 1507,1219.5 1508,1219.4 1509,1218.5 1510,1218.3 1511,1220.6 1512,1220.5 1513,1220.2 1514,1221.5 1515,1220.2 1516,1220.3 1517,1221.4 1518,1220.4 1519,1220.5 1520,1221.3 1521,1221 1522,1221.8 1523,1222.5 1524,1221.5 1525,1222.3 1526,1222.9 1527,1222.2 1528,1222.8 1529,1223.5 1530,1222.4 1531,1223.5 1532,1224.9 1533,1223.2 1534,1222.5 1535,1223.1 1536,1223.5 1537,1224.7 1538,1224.5 1539,1224.1 1540,1223.1 1541,1224.4 1542,1226 1543,1224 1544,1225.2 1545,1225.5 1546,1225.9 1547,1226 1548,1226.3 1549,1226.6 1550,1226.3 1551,1226.4 1552,1226 1553,1226.2 1554,1225.9 1555,1227.2 1556,1225.1 1557,1227.4 1558,1225.9 1559,1227.3 1560,1226.9 1561,1229 1562,1227.7 1563,1227.4 1564,1228.6 1565,1228.3 1566,1227.6 1567,1228.2 1568,1229.1 1569,1227.1 1570,1227.8 1571,1228.6 1572,1229.7 1573,1228.2 1574,1228.9 1575,1228.9 1576,1229.9 1577,1229.6 1578,1229.5 1579,1229.1 1580,1228.8 1581,1230.2 1582,1230.9 1583,1230 1584,1229.8 1585,1231 1586,1229.7 1587,1229.5 1588,1231.1 1589,1231.2 1590,1231.6 1591,1230.8 1592,1231.2 1593,1231.2 1594,1231.8 1595,1231.6 1596,1231.7 1597,1231.9 1598,1231.9 1599,1231.6 1600,1232.4 1601,1232.5 1602,1232.5 1603,1232.1 1604,1232.5 1605,1232.7 1606,1231.7 1607,1233.2 1608,1232.7 1609,1232.3 1610,1233.7 1611,1232.8 1612,1233.3 1613,1233.3 1614,1232.8 1615,1233.3 1616,1234.7 1617,1234.6 1618,1233.6 1619,1234.4 1620,1234 1621,1234.7 1622,1233.8 1623,1234 1624,1234.6 1625,1234.5 1626,1235.1 1627,1235.2 1628,1235 1629,1234.8 1630,1235.1 1631,1235 1632,1234.6 1633,1235.7 1634,1234.7 1635,1235 1636,1235.6 1637,1236 1638,1235.8 1639,1235.4 1640,1236.6 1641,1235.5 1642,1236.6 1643,1235.7 1644,1236.2 1645,1236.4 1646,1236.4 1647,1236.2 1648,1236.6 1649,1236.6 1650,1236.2 1651,1237.1 1652,1236.8 1653,1236.9 1654,1236.5 1655,1237.1 1656,1237.4 1657,1237.2 1658,1237.2 1659,1237.4 1660,1237.1 1661,1237.5 1662,1237.2 1663,1237.8 1664,1237.8 1665,1237.8 1666,1237.8 1667,1237.8 1668,1237.5 1669,1237.6 1670,1238 1671,1237.8 1672,1237.8 1673,1237.8 1674,1238.3 1675,1238.3 1676,1238.5 1677,1238.8 1678,1238.5 1679,1238.3 1680,1238.6 1681,1238.8 1682,1239 1683,1238.7 1684,1238.9 1685,1238.5 1686,1238.7 1687,1238.6 1688,1239.1 1689,1238.7 1690,1239 1691,1239.2 1692,1238.9 1693,1238.9 1694,1239.5 1695,1239.5 1696,1239.6 1697,1239.5 1698,1239.8 1699,1239.7 1700,1239.3 1701,1239.8 1702,1239.8 1703,1239.5 1704,1239.6 1705,1239.9 1706,1239.5 1707,1239.9 1708,1239.7 1709,1240.2 1710,1240.2 1711,1239.9 1712,1240 1713,1240.1 1714,1240.2 1715,1240.2 1716,1240.5 1717,1240.4 1718,1240.2 1719,1240.5 1720,1240.4 1721,1240.6 1722,1240.8 1723,1240.5 1724,1240.8 1725,1240.7 1726,1240.8 1727,1241.1 1728,1241.1 1729,1240.7 1730,1241.3 1731,1241.2 1732,1241 1733,1241.3 1734,1241.1 1735,1241.3 1736,1241 1737,1241.4 1738,1241.1 1739,1241.2 1740,1241.4 1741,1241.6 1742,1241.5 1743,1241.6 1744,1241.7 1745,1241.6 1746,1241.8 1747,1241.8 1748,1241.7 1749,1241.7 1750,1241.7 1751,1241.8"/>
<polyline stroke="#CC9900" points="268,1242 269,1242 270,1242 271,1242 272,1242 273,1242 274,1242 275,1242 276,1242 277,1242 278,1242 279,1241.9 280,1242 281,1242 282,1241.9 283,1242 284,1241.9 285,1241.9 286,1241.9 287,1241.9 288,1241.9 289,1241.9 290,1242 291,1241.9 292,1241.9 293,1241.9 294,1242 295,1241.9 296,1241.9 297,1241.9 298,1241.9 299,1242 300,1241.9 301,1241.9 302,1241.9 303,1241.9 304,1242 305,1241.9 306,1241.8 307,1241.9 308,1241.9 309,1241.9 310,1241.8 311,1241.7 312,1242 313,1241.8 314,1241.8 315,1241.8 316,1241.8 317,1241.8 318,1241.7 319,1241.7 320,1241.8 321,1241.8 322,1242 323,1241.7 324,1241.9 325,1241.8 326,1241.7 327,1241.6 328,1241.7 329,1241.7 330,1241.8 331,1241.8 332,1241.6 333,1241.8 334,1241.7 335,1241.7 336,1241.7 337,1241.7 338,1241.8 339,1241.8 340,1241.7 341,1241.8 342,1241.8 343,1241.7 344,1241.6 345,1241.8 346,1241.7 347,1241.6 348,1241.5 349,1241.6 350,1241.5 351,1241.6 352,1241.4 353,1241.5 354,1241.7 355,1241.8 356,1241.6 357,1241.6 358,1241.3 359,1241.6 360,1241.5 361,1241.3 362,1241.4 363,1241.4 364,1241.6 365,1241.5 366,1241.7 367,1241.6 368,1241.5 369,1241.5 370,1241.3 371,1241.6 372,1241.4 373,1241.5 374,1241.5 375,1241.4 376,1241.4 377,1241.5 378,1241.5 379,1241.1 380,1241.3 381,1241.4 382,1241.3 383,1241.4 384,1241.5 385,1241.4 386,1241.3 387,1241.5 388,1241.4 389,1241.4 390,1241.6 391,1241.5 392,1241.2 393,1241.5 394,1241.2 395,1241.3 396,1241 397,1241.4 398,1241 399,1241.3 400,1241.5 401,1241.3 402,1241.2 403,1241.1 404,1241.2 405,1241.3 406,1240.9 407,1241 408,1241.3 409,1241.1 410,1241.3 411,1241.2 412,1241 413,1241.1 414,1241.3 415,1241 416,1241.1 417,1241.2 418,1241 419,1241 420,1241.1 421,1241 422,1241 423,1241.1 424,1241.3 425,1241 426,1240.9 427,1241.5 428,1241.1 429,1240.7 430,1240.9 431,1240.7 432,1241.1 433,1240.8 434,1240.9 435,1241.2 436,1240.8 437,1240.9 438,1241 439,1241.1 440,1241.1 441,1241.1 442,1240.8 443,1240.9 444,1240.6 445,1240.8 446,1240.8 447,1241.1 448,1240.9 449,1240.7 450,1240.7 451,1240.6 452,1240.7 453,1240.6 454,1240.7 455,1240.6 456,1240.7 457,1240.9 458,1240.5 459,1240.5 460,1240.4 461,1241 462,1240.9 463,1240.7 464,1240.6 465,1240.4 466,1240.8 467,1240.6 468,1240.6 469,1240.5 470,1240 471,1240.2 472,1240.4 473,1240.6 474,1240.3 475,1240.5 476,1240.4 477,1240.2 478,1240.5 479,1240.2 480,1240.1 481,1240.7 482,1240.6 483,1240.4 484,1240.5 485,1240.2 486,1240.2 487,1240.3 488,1240.3 489,1240.3 490,1239.9 491,1240.4 492,1239.9 493,1240.1 494,1240.7 495,1240.3 496,1240 497,1240.1 498,1239.9 499,1239.9 500,1239.8 501,1239.9 502,1240 503,1240.1 504,1240.4 505,1240 506,1239.9 507,1239.6 508,1240.1 509,1239.8 510,1240.1 511,1239.8 512,1240.1 513,1239.6 514,1239.6 515,1239.6 516,1239.5 517,1239.7 518,1239.6 519,1239 520,1239.2 521,1239.2 522,1239.5 523,1239.3 524,1239.5 525,1239.5 526,1239.3 527,1238.7 528,1239.7 529,1239.3 530,1239 531,1239.2 532,1239 533,1239.1 534,1238.8 535,1239.5 536,1238.9 537,1239 538,1238.7 539,1239.1 540,1239.2 541,1238.8 542,1238.5 543,1238.8 544,1238.6 545,1238.9 546,1238.7 547,1238.6 548,1238.4 549,1238.4 550,1238.4 551,1238.7 552,1238.3 553,1238.4 554,1238 555,1238 556,1237.7 557,1238 558,1237.8 559,1237.2 560,1237.6 561,1237.3 562,1237.6 563,1237.5 564,1238 565,1237.6 566,1237.3 567,1237.3 568,1237.2 569,1237.2 570,1237.4 571,1237 572,1237.3 573,1237.4 574,1236.9 575,1237 576,1237.5 577,1237.1 578,1236.7 579,1237 580,1236.6 581,1236.3 582,1236.9 583,1236.2 584,1236.2 585,1236.3 586,1236.6 587,1236.5 588,1235.9 589,1236.1 590,1235.9 591,1236.3 592,1236 593,1235.6 594,1236.1 595,1235.2 596,1235.5 597,1234.8 598,1235.8 599,1235.3 600,1235.5 601,1236.3 602,1235.3 603,1235.2 604,1234.8 605,1235 606,1234.6 607,1234.9 608,1234.7 609,1234.5 610,1234.2 611,1234.1 612,1234 613,1233.8 614,1234 615,1233.3 616,1233.3 617,1233.5 618,1233.9 619,1233.1 620,1232.7 621,1232.5 622,1233.2 623,1232 624,1231.9 625,1231.9 626,1231.4 627,1231.4 628,1231.6 629,1231.1 630,1230.2 631,1231.1 632,1231.1 633,1230.3 634,1231.3 635,1230.3 636,1230.2 637,1229.1 638,1230.9 639,1230.5 640,1229.9 641,1230 642,1228.5 643,1228.4 644,1228.7 645,1228.4 646,1227.5 647,1228.1 648,1228.3 649,1227.5 650,1228.3 651,1227.5 652,1226.8 653,1226.4 654,1226.1 655,1227.1 656,1225.6 657,1226.6 658,1226.5 659,1225.2 660,1226.2 661,1225.7 662,1226.6 663,1225.6 664,1225.1 665,1225.3 666,1225.7 667,1224.2 668,1224.1 669,1224.9 670,1225.5 671,1223.2 672,1224.9 673,1224.1 674,1224.1 675,1223.8 676,1223 677,1222.7 678,1224.4 679,1221.9 680,1222.7 681,1223.4 682,1222.2 683,1222.6 684,1222 685,1221.2 686,1222 687,1221.4 688,1220.8 689,1221.5 690,1220.7 691,1220.9 692,1220.2 693,1221.4 694,1220.8 695,1220.2 696,1219.7 697,1219.5 698,1219.4 699,1218.7 700,1220.2 701,1218.3 702,1219.4 703,1219.2 704,1218.2 705,1218.2 706,1217.1 707,1217.7 708,1217.3 709,1218.2 710,1216.9 711,1216.8 712,1217.5 713,1215.6 714,1216.2 715,1217.4 716,1216.2 717,1216.8 718,1213.7 719,1215.3 720,1215.5 721,1214.3 722,1215.9 723,1213.9 724,1214.4 725,1214.9 726,1214.6 727,1214.1 728,1213.3 729,1214 730,1213 731,1214.6 732,1213 733,1212.2 734,1213.7 735,1214 736,1212.7 737,1211.7 738,1210.6 739,1211.1 740,1212.1 741,1211.6 742,1209.4 743,1210.8 744,1208.9 745,1210.6 746,1211.1 747,1209.2 748,1210 749,1208.3 750,1208.3 751,1208.8 752,1208.6 753,1207 754,1208.2 755,1206.7 756,1203.5 757,1206.4 758,1206.1 759,1202.5 760,1204.6 761,1205.1 762,1204.2 763,1202.9 764,1202.3 765,1202.8 766,1202.1 767,1202.6 768,1201.9 769,1202.7 770,1200.3 771,1200.9 772,1200.5 773,1199.6 774,1199.9 775,1197.2 776,1198 777,1199.8 778,1198.1 779,1197.2 780,1197.8 781,1196.2 782,1194.8 783,1195.7 784,1196 785,1194.4 786,1196 787,1194.2 788,1193.5 789,1192.6 790,1195 791,1194.9 792,1190.8 793,1191.6 794,1190.5 795,1192.2 796,1190.5 797,1191.2 798,1189.7 799,1188.4 800,1190.8 801,1188.9 802,1188.1 803,1187 804,1187.9 805,1188.5 806,1186.5 807,1189 808,1187.9 809,1185.9 810,1186 811,1184.5 812,1185.2 813,1182.9 814,1182.6 815,1186.1 816,1183.2 817,1183.5 818,1181.2 819,1182.3 820,1181.2 821,1178.4 822,1180.1 823,1180 824,1179.4 825,1180.4 826,1179.4 827,1176.5 828,1176.9 829,1177.1 830,1176.9 831,1176.3 832,1174.2 833,1175.6 834,1174.5 835,1171.7 836,1171.1 837,1171.5 838,1171.8 839,1170.7 840,1170.7 841,1169.7 842,1170.3 843,1171.1 844,1170.5 845,1167.3 846,1170 847,1170.2 848,1167 849,1169.7 850,1167 851,1164.9 852,1167.8 853,1165.1 854,1164.1 855,1166.7 856,1165.6 857,1162.7 858,1161.6 859,1161.9 860,1161.6 861,1161.9 862,1156.7 863,1160 864,1159.2 865,1157.8 866,1157.9 867,1157.9 868,1154.1 869,1153.8 870,1154.7 871,1153.9 872,1153.4 873,1153.3 874,1155.1 875,1150.8 876,1151 877,1151.1 878,1148.5 879,1147.5 880,1147.7 881,1147 882,1144.2 883,1145.2 884,1144 885,1142.8 886,1142.8 887,1138.2 888,1140.6 889,1137.5 890,1137.1 891,1135.8 892,1133.7 893,1135 894,1136.4 895,1132.8 896,1133.5 897,1129.4 898,1128.7 899,1128.9 900,1127.2 901,1126.2 902,1127.7 903,1126.5 904,1126.3 905,1124.4 906,1123.1 907,1121.9 908,1123.6 909,1121 910,1122.3 911,1121.3 912,1122.4 913,1117.5 914,1119.7 915,1114.7 916,1118.1 917,1116.2 918,1116.4 919,1110.3 920,1115.2 921,1111.4 922,1110.4 923,1107.2 924,1107.6 925,1110.2 926,1110 927,1107.1 928,1104.1 929,1105.3 930,1100.6 931,1101.8 932,1100 933,1102.2 934,1096.4 935,1097.4 936,1097.8 937,1097.2 938,1092.6 939,1093 940,1089 941,1093.4 942,1089.9 943,1088.9 944,1087.5 945,1090.4 946,1086.4 947,1083.8 948,1086.3 949,1084.5 950,1082.2 951,1079.4 952,1080.1 953,1079.8 954,1077.3 955,1076.2 956,1076.9 957,1072.1 958,1073.7 959,1070 960,1066.7 961,1069 962,1067 963,1062 964,1059.9 965,1061.6 966,1057.5 967,1051.3 968,1050.9 969,1051.2 970,1046.9 971,1047.5 972,1042.1 973,1041.6 974,1037.9 975,1035.9 976,1032.7 977,1029.8 978,1024.5 979,1027.2 980,1021 981,1017 982,1020.3 983,1013 984,1015 985,1004.4 986,1007.4 987,1004 988,999.6 989,1001.3 990,993.6 991,993.5 992,989.3 993,989.8 994,982.5 995,983 996,980.3 997,972.8 998,983 999,973.9 1000,972.4 1001,971.2 1002,966.4 1003,964.1 1004,957.9 1005,960.2 1006,959.5 1007,959.2 1008,956.1 1009,954.7 1010,952.6 1011,951.3 1012,949.6 1013,947.3 1014,947.4 1015,939.5 1016,940.8 1017,942.1 1018,938.5 1019,934.9 1020,935.1 1021,933.9 1022,933.2 1023,936.8 1024,934 1025,927.7 1026,928.2 1027,931.6 1028,923.9 1029,926 1030,922 1031,919.1 1032,920 1033,919.7 1034,921.9 1035,915.5 1036,920.3 1037,915.1 1038,914.3 1039,911.1 1040,907.1 1041,911.9 1042,908.7 1043,909.8 1044,907.8 1045,901.7 1046,904.5 1047,904.6 1048,903.3 1049,902.3 1050,900.3 1051,896.2 1052,896.5 1053,893.2 1054,892.6 1055,890.7 1056,888.4 1057,891.8 1058,881.4 1059,877.4 1060,882 1061,877.3 1062,877.9 1063,875 1064,874.8 1065,870.9 1066,869.1 1067,874.5 1068,870.9 1069,862.9 1070,863.4 1071,866.5 1072,862 1073,857.2 1074,860.5 1075,860.6 1076,856.6 1077,857.4 1078,854.4 1079,859.1 1080,860.7 1081,854.7 1082,852.2 1083,855.6 1084,853.4 1085,852.7 1086,849.2 1087,849.4 1088,848.1 1089,848.3 1090,849.6 1091,848 1092,854.6 1093,848.4 1094,847.1 1095,848.1 1096,850.4 1097,850.2 1098,843.2 1099,842.9 1100,842.3 1101,844 1102,844 1103,848.1 1104,847 1105,839.6 1106,834.1 1107,836 1108,837.2 1109,838.5 1110,839.6 1111,833.1 1112,838.3 1113,837.3 1114,826.4 1115,828.3 1116,836.6 1117,829.5 1118,829.6 1119,840.2 1120,829.3 1121,827.5 1122,820.6 1123,826.6 1124,827.6 1125,823.5 1126,830.3 1127,822.6 1128,829.2 1129,826.1 1130,823.2 1131,826.8 1132,829.6 1133,827.6 1134,821.7 1135,828.9 1136,826 1137,830 1138,830.8 1139,828.4 1140,832.2 1141,827.6 1142,833.5 1143,828.8 1144,832.5 1145,831.3 1146,829 1147,835 1148,826.6 1149,834 1150,830.3 1151,831.4 1152,831.6 1153,829.5 1154,833 1155,828.3 1156,823.3 1157,831.7 1158,827.4 1159,835.2 1160,831.6 1161,832 1162,828.5 1163,834.8 1164,829.9 1165,828.8 1166,828.2 1167,830.3 1168,836.3 1169,835 1170,833.4 1171,832.1 1172,833.5 1173,838.7 1174,836.1 1175,836.1 1176,840.6 1177,836.1 1178,837.7 1179,833.5 1180,837.3 1181,838.7 1182,841 1183,843.5 1184,841.6 1185,845.7 1186,848.1 1187,844.9 1188,847.5 1189,849.4 1190,844.8 1191,853.2 1192,849.1 1193,851.6 1194,847.3 1195,854.5 1196,855.4 1197,854.6 1198,853.4 1199,858.4 1200,853.9 1201,861.8 1202,863.1 1203,864.5 1204,867.3 1205,864.8 1206,867.8 1207,870.6 1208,871.7 1209,869.2 1210,873 1211,873.8 1212,877.6 1213,879.2 1214,883.3 1215,884.5 1216,887.2 1217,884.6 1218,891.5 1219,891.5 1220,899.6 1221,894 1222,887.9 1223,900.4 1224,894 1225,898.7 1226,899.4 1227,901 1228,907.4 1229,906.6 1230,907.1 1231,906.1 1232,907.9 1233,910.5 1234,912.4 1235,912.4 1236,909.2 1237,916.4 1238,916.8 1239,915.9 1240,920.9 1241,922.9 1242,921.5 1243,930.3 1244,922.4 1245,926 1246,928.2 1247,929.3 1248,933.3 1249,929.8 1250,930.4 1251,939.1 1252,935.5 1253,938.3 1254,940.2 1255,942.4 1256,942.7 1257,940.1 1258,943.3 1259,945.7 1260,948.6 1261,952.3 1262,947.4 1263,952.3 1264,953.3 1265,955.1 1266,950.8 1267,954.4 1268,958.3 1269,958.4 1270,960.9 1271,962.8 1272,966.5 1273,963.4 1274,965.1 1275,967.6 1276,973.5 1277,970.8 1278,977.5 1279,978.2 1280,978.6 1281,977 1282,981.5 1283,983 1284,983.9 1285,983.3 1286,986.5 1287,987.7 1288,990 1289,993.7 1290,993.3 1291,994.2 1292,1002.1 1293,1001.3 1294,1006.4 1295,1005.6 1296,1004 1297,1008.1 1298,1009.2 1299,1011.3 1300,1013.5 1301,1014 1302,1017.9 1303,1019.8 1304,1015.2 1305,1022.3 1306,1024.3 1307,1024.1 1308,1030.2 1309,1029.6 1310,1033.6 1311,1035.8 1312,1037.1 1313,1035.2 1314,1037.9 1315,1039.5 1316,1039.1 1317,1042.6 1318,1046.2 1319,1043.3 1320,1049.3 1321,1047.3 1322,1048.7 1323,1053.5 1324,1052.2 1325,1057.9 1326,1059.1 1327,1059.8 1328,1059.2 1329,1061.9 1330,1065.7 1331,1068 1332,1064.8 1333,1063.6 1334,1068.6 1335,1070.7 1336,1072.4 1337,1074.7 1338,1072.8 1339,1074 1340,1075.2 1341,1079.8 1342,1079.6 1343,1082.6 1344,1083.6 1345,1085.1 1346,1085 1347,1087.2 1348,1086.9 1349,1089.8 1350,1090.7 1351,1092 1352,1093.4 1353,1094.6 1354,1095 1355,1096.1 1356,1096.9 1357,1095.8 1358,1101.3 1359,1103.5 1360,1099.4 1361,1106.6 1362,1106.6 1363,1106.4 1364,1106.7 1365,1107.9 1366,1107.8 1367,1109 1368,1110.7 1369,1112.9 1370,1110.3 1371,1113.4 1372,1113.7 1373,1115.3 1374,1115.4 1375,1117.6 1376,1119.6 1377,1119 1378,1122.8 1379,1123.2 1380,1123.1 1381,1126.3 1382,1124.3 1383,1126.1 1384,1125.6 1385,1125.9 1386,1132 1387,1129.7 1388,1129.5 1389,1132.1 1390,1133.4 1391,1132.1 1392,1134.3 1393,1137.7 1394,1137.6 1395,1136.9 1396,1135.9 1397,1141 1398,1141.5 1399,1139.8 1400,1140.7 1401,1143 1402,1144.1 1403,1144.9 1404,1144.3 1405,1144.1 1406,1145.1 1407,1145.1 1408,1146.8 1409,1148.8 1410,1146.7 1411,1146.6 1412,1148.3 1413,1150.2 1414,1148 1415,1150.1 1416,1149.6 1417,1149.7 1418,1153.7 1419,1152.5 1420,1152.2 1421,1153.6 1422,1153.9 1423,1155.2 1424,1156.8 1425,1155.2 1426,1158 1427,1156.8 1428,1158.4 1429,1157.2 1430,1157.9 1431,1160.4 1432,1160.9 1433,1161.1 1434,1162.5 1435,1161.6 1436,1165 1437,1166.5 1438,1165.1 1439,1166.5 1440,1166.1 1441,1168.2 1442,1167.8 1443,1168.2 1444,1169.4 1445,1169.3 1446,1170.6 1447,1172 1448,1171.1 1449,1173.5 1450,1173 1451,1174.7 1452,1173.5 1453,1174 1454,1176.7 1455,1176.2 1456,1177.8 1457,1179.9 1458,1179.7 1459,1178.9 1460,1182.1 1461,1179.7 1462,1179.1 1463,1184.6 1464,1181.9 1465,1184.1 1466,1183 1467,1185.3 1468,1185.1 1469,1188.4 1470,1185.7 1471,1188.1 1472,1187.5 1473,1188.7 1474,1188.5 1475,1188.8 1476,1187.6 1477,1190.2 1478,1188.3 1479,1190.6 1480,1191.9 1481,1191.4 1482,1192.6 1483,1193.7 1484,1193.9 1485,1193.3 1486,1193.7 1487,1195.1 1488,1194.7 1489,1194.7 1490,1194.6 1491,1195.6 1492,1196.1 1493,1195.8 1494,1197.3 1495,1197.5 1496,1196.3 1497,1196.9 1498,1199.1 1499,1199.6 1500,1200.1 1501,1199.8 1502,1199.9 1503,1199.5 1504,1201 1505,1199.7 1506,1199.5 1507,1201.7 1508,1201.9 1509,1203.7 1510,1201.9 1511,1202.4 1512,1202.7 1513,1202.9 1514,1204.8 1515,1204.9 1516,1205.7 1517,1204.7 1518,1205.7 1519,1206.8 1520,1205.8 1521,1205.5 1522,1204.9 1523,1207.4 1524,1207.3 1525,1206.2 1526,1208.2 1527,1209.5 1528,1210.3 1529,1208.5 1530,1210.1 1531,1210 1532,1210.7 1533,1210.6 1534,1209.2 1535,1212.2 1536,1211.9 1537,1211.5 1538,1211.9 1539,1212.3 1540,1213 1541,1213.3 1542,1211.7 1543,1213.1 1544,1213.3 1545,1214.2 1546,1213.8 1547,1214.3 1548,1213.3 1549,1214.5 1550,1214.6 1551,1216.1 1552,1216.3 1553,1216.9 1554,1215.5 1555,1216.4 1556,1216.9 1557,1218 1558,1217.7 1559,1218.2 1560,1218.1 1561,1219.3 1562,1218.5 1563,1218.5 1564,1219 1565,1219.7 1566,1219.9 1567,1218.6 1568,1219.4 1569,1219.2 1570,1219.7 1571,1219.3 1572,1221.8 1573,1220.6 1574,1220.3 1575,1220.6 1576,1221.5 1577,1220.8 1578,1221.4 1579,1222.1 1580,1222.4 1581,1222.2 1582,1222 1583,1224.3 1584,1222.4 1585,1222.9 1586,1222.8 1587,1224.5 1588,1222.9 1589,1223.7 1590,1222.5 1591,1223.6 1592,1224.8 1593,1224.1 1594,1223.8 1595,1224.1 1596,1225.2 1597,1225.6 1598,1225.2 1599,1224.7 1600,1225.6 1601,1225.6 1602,1225.8 1603,1226.6 1604,1225.9 1605,1225.5 1606,1227.7 1607,1225.6 1608,1226.6 1609,1227 1610,1226.2 1611,1228.4 1612,1228 1613,1227.1 1614,1227 1615,1228 1616,1229 1617,1228.7 1618,1227.9 1619,1228.6 1620,1228.4 1621,1228.5 1622,1228.9 1623,1228.6 1624,1228.6 1625,1229.4 1626,1228.9 1627,1229.2 1628,1229.3 1629,1229.1 1630,1230 1631,1229.6 1632,1229.1 1633,1229.8 1634,1228.9 1635,1230.4 1636,1229.1 1637,1230.2 1638,1229.9 1639,1230.6 1640,1230.5 1641,1230.7 1642,1231.4 1643,1230.2 1644,1230.8 1645,1230.2 1646,1231.6 1647,1231.6 1648,1231.9 1649,1231.8 1650,1231.6 1651,1231.1 1652,1231 1653,1232.2 1654,1232 1655,1231.2 1656,1232.4 1657,1231.7 1658,1231.9 1659,1232.3 1660,1231.8 1661,1232.8 1662,1232.8 1663,1232.2 1664,1231.9 1665,1232.7 1666,1232.9 1667,1233.8 1668,1232.4 1669,1233.2 1670,1232.8 1671,1233 1672,1232.4 1673,1233 1674,1233.8 1675,1233.1 1676,1232.5 1677,1233.3 1678,1232.9 1679,1233.2 1680,1233.5 1681,1233 1682,1233.4 1683,1234.4 1684,1234.1 1685,1233.4 1686,1232.8 1687,1233.7 1688,1233.7 1689,1233.7 1690,1233.9 1691,1233.7 1692,1234.6 1693,1234 1694,1234.3 1695,1235 1696,1234.2 1697,1234 1698,1233.9 1699,1234.7 1700,1234.6 1701,1235.3 1702,1234.2 1703,1234.6 1704,1234.8 1705,1235.1 1706,1234.7 1707,1234.5 1708,1235.7 1709,1234.5 1710,1235 1711,1234.6 1712,1235.9 1713,1234.8 1714,1235.9 1715,1236.1 1716,1235.1 1717,1236.4 1718,1236 1719,1235.6 1720,1236.8 1721,1236.2 1722,1236.4 1723,1236.4 1724,1236.2 1725,1236.4 1726,1236.5 1727,1236.3 1728,1236.2 1729,1236.9 1730,1236.7 1731,1236.5 1732,1236.8 1733,1236.8 1734,1237.5 1735,1237.3 1736,1236.7 1737,1237.3 1738,1237.3 1739,1237.3 1740,1237.8 1741,1237.5 1742,1237.3 1743,1237.8 1744,1237.6 1745,1238 1746,1237.8 1747,1238.6 1748,1238.6 1749,1238.2 1750,1238.8 1751,1238.3"/>
</g>
<rect x="270" y="48" width="783" height="293" fill="#fff" stroke="#000" stroke-width="2"/>
<line x1="274" y1="74.4" x2="349" y2="74.4" stroke="#515151" stroke-width="7"/>
<line x1="274" y1="121.5" x2="349" y2="121.5" stroke="#F14040" stroke-width="7"/>
<line x1="274" y1="169" x2="349" y2="169" stroke="#1A6FDF" stroke-width="7"/>
<line x1="274" y1="216.4" x2="349" y2="216.4" stroke="#37AD6B" stroke-width="7"/>
<line x1="274" y1="264.4" x2="349" y2="264.4" stroke="#B177DE" stroke-width="7"/>
<line x1="274" y1="312.6" x2="349" y2="312.6" stroke="#CC9900" stroke-width="7"/>
<text class="ss" x="356" y="85.1" font-size="30.5" textLength="163.4" lengthAdjust="spacingAndGlyphs">MAPbI<tspan font-size="21" dy="7">x</tspan><tspan dy="-7">Cl</tspan><tspan font-size="21" dy="7">3-x</tspan></text>
<text class="s" x="355.5" y="132" font-size="31.5" textLength="258.5" lengthAdjust="spacingAndGlyphs">MAPbI<tspan font-size="23" dy="8.5">x</tspan><tspan dy="-8.5">Cl</tspan><tspan font-size="23" dy="8.5">3-x</tspan><tspan dy="-8.5">+NiOx</tspan></text>
<text class="s" x="355.5" y="179.9" font-size="31.5" textLength="498.9" lengthAdjust="spacingAndGlyphs">MAPbI<tspan font-size="23" dy="8.5">x</tspan><tspan dy="-8.5">Cl</tspan><tspan font-size="23" dy="8.5">3-x</tspan><tspan dy="-8.5">+10mg/mlLi doped NiOx</tspan></text>
<text class="s" x="355.5" y="227.8" font-size="31.5" textLength="691.9" lengthAdjust="spacingAndGlyphs">MAPbI<tspan font-size="23" dy="8.5">x</tspan><tspan dy="-8.5">Cl</tspan><tspan font-size="23" dy="8.5">3-x</tspan><tspan dy="-8.5">+10mg/mlLi,10mg/mlCo codoped NiOx</tspan></text>
<text class="s" x="355.5" y="275.7" font-size="31.5" textLength="677.2" lengthAdjust="spacingAndGlyphs">MAPbI<tspan font-size="23" dy="8.5">x</tspan><tspan dy="-8.5">Cl</tspan><tspan font-size="23" dy="8.5">3-x</tspan><tspan dy="-8.5">+10mg/mlLi,5mg/mlCo codoped NiOx</tspan></text>
<text class="s" x="355.5" y="323.6" font-size="31.5" textLength="677.2" lengthAdjust="spacingAndGlyphs">MAPbI<tspan font-size="23" dy="8.5">x</tspan><tspan dy="-8.5">Cl</tspan><tspan font-size="23" dy="8.5">3-x</tspan><tspan dy="-8.5">+10mg/mlLi,1mg/mlCo codoped NiOx</tspan></text>
<text class="s" x="268" y="1328" font-size="52" text-anchor="middle">650</text>
<text class="s" x="638.8" y="1328" font-size="52" text-anchor="middle">700</text>
<text class="s" x="1009.5" y="1328" font-size="52" text-anchor="middle">750</text>
<text class="s" x="1380.2" y="1328" font-size="52" text-anchor="middle">800</text>
<text class="s" x="1751" y="1328" font-size="52" text-anchor="middle">850</text>
<text class="s" x="794" y="1405" font-size="62" font-weight="bold" textLength="438" lengthAdjust="spacingAndGlyphs">Wavelength(nm)</text>
<text class="s" transform="translate(216,831) rotate(-90)" x="0" y="0" font-size="62" font-weight="bold" textLength="370" lengthAdjust="spacingAndGlyphs">Intensity(a.u.)</text>
<text class="s" x="146" y="94" font-size="80" font-weight="bold">(</text>
<text class="s" x="179" y="99" font-size="86" font-weight="bold">a</text>
<text class="s" x="218" y="99" font-size="80">)</text>
<rect x="281.5" y="1783.5" width="1455.0" height="1254.5" fill="none" stroke="#000" stroke-width="9"/>
<path d="M258,3038H282M270,2948.4H282M258,2858.8H282M270,2769.2H282M258,2679.6H282M270,2590H282M258,2500.4H282M270,2410.8H282M258,2321.1H282M270,2231.5H282M258,2141.9H282M270,2052.3H282M258,1962.7H282M270,1873.1H282M258,1783.5H282M281.5,3038V3063M463.4,3038V3051M645.2,3038V3063M827.1,3038V3051M1009,3038V3063M1190.9,3038V3051M1372.8,3038V3063M1554.6,3038V3051M1736.5,3038V3063" stroke="#000" stroke-width="9" fill="none"/>
<g clip-path="url(#cb)" fill="none" stroke-linejoin="round">
<polyline stroke="#515151" stroke-width="9" points="281.5,1600.7 285.1,1599.3 288.8,1600 292.4,1603 296.1,1606.4 299.7,1607.3 303.3,1608.6 307,1609.2 310.6,1614.4 314.2,1618.8 317.9,1627.2 321.5,1624.8 325.1,1635.9 328.8,1639.2 332.4,1647.3 336.1,1648.2 339.7,1658.5 343.3,1666.9 347,1672.8 350.6,1682.1 354.2,1688.6 357.9,1696 361.5,1701.2 365.2,1717.2 368.8,1734.5 372.4,1753.8 376.1,1776.1 379.7,1778 383.4,1786.7 387,1792.5 390.6,1799.3 394.3,1809.4 397.9,1812.4 401.5,1820.9 405.2,1820.2 408.8,1824.4 412.5,1834.9 416.1,1838.6 419.7,1845.6 423.4,1854.5 427,1867 430.6,1871.9 434.3,1885.2 437.9,1887.2 441.6,1892.1 445.2,1899.3 448.8,1905.4 452.5,1910.2 456.1,1910.1 459.7,1913.8 463.4,1914.4 467,1921.3 470.6,1920.5 474.3,1923.2 477.9,1923.2 481.6,1925.7 485.2,1927.5 488.8,1928.7 492.5,1930.6 496.1,1935.6 499.8,1937.4 503.4,1943.5 507,1948.9 510.7,1953.5 514.3,1957.6 517.9,1962.1 521.6,1964.9 525.2,1967.5 528.9,1971.2 532.5,1975.3 536.1,1979.4 539.8,1984.7 543.4,1988.7 547,1993.7 550.7,1997.8 554.3,2002.3 558,2007.1 561.6,2011.8 565.2,2017 568.9,2022.7 572.5,2029.7 576.1,2037.5 579.8,2045.6 583.4,2053.3 587,2060.1 590.7,2065.9 594.3,2071.2 598,2076.1 601.6,2081 605.2,2085.7 608.9,2090.7 612.5,2095.9 616.2,2100.9 619.8,2106 623.4,2111.4 627.1,2117.4 630.7,2124 634.3,2131.5 638,2140.1 641.6,2150.1 645.2,2162.3 648.9,2175.7 652.5,2189.9 656.2,2205.5 659.8,2223.2 663.4,2241.1 667.1,2257.4 670.7,2272.9 674.4,2287.6 678,2301.1 681.6,2313.4 685.3,2324.8 688.9,2335.7 692.5,2346 696.2,2355.8 699.8,2365.1 703.5,2374 707.1,2382.5 710.7,2390.5 714.4,2398.1 718,2405.3 721.6,2412.3 725.3,2419.3 728.9,2426.4 732.5,2433.6 736.2,2440.9 739.8,2448.3 743.5,2455.6 747.1,2462.8 750.7,2470 754.4,2477 758,2483.8 761.7,2490.6 765.3,2497.3 768.9,2503.9 772.6,2510.4 776.2,2516.8 779.8,2523 783.5,2529.1 787.1,2535 790.8,2540.8 794.4,2546.5 798,2552 801.7,2557.5 805.3,2562.8 808.9,2568.1 812.6,2573.2 816.2,2578.2 819.9,2583.1 823.5,2588 827.1,2592.7 830.8,2597.4 834.4,2601.9 838,2606.4 841.7,2610.7 845.3,2614.9 849,2618.9 852.6,2622.9 856.2,2626.7 859.9,2630.4 863.5,2634.1 867.1,2637.7 870.8,2641.2 874.4,2644.7 878.1,2648.1 881.7,2651.5 885.3,2654.8 889,2658.2 892.6,2661.5 896.2,2664.8 899.9,2668.1 903.5,2671.4 907.1,2674.7 910.8,2678 914.4,2681.3 918.1,2684.6 921.7,2687.9 925.3,2691.2 929,2694.4 932.6,2697.7 936.2,2700.8 939.9,2704 943.5,2707.1 947.2,2710.2 950.8,2713.2 954.4,2716.2 958.1,2719.1 961.7,2721.9 965.4,2724.8 969,2727.6 972.6,2730.4 976.3,2733.2 979.9,2735.9 983.5,2738.6 987.2,2741.3 990.8,2743.9 994.5,2746.5 998.1,2749 1001.7,2751.4 1005.4,2753.8 1009,2756.1 1012.6,2758.3 1016.3,2760.5 1019.9,2762.7 1023.6,2764.8 1027.2,2766.9 1030.8,2769 1034.5,2771 1038.1,2773 1041.7,2775 1045.4,2776.9 1049,2778.8 1052.7,2780.7 1056.3,2782.5 1059.9,2784.3 1063.6,2786.1 1067.2,2787.8 1070.8,2789.5 1074.5,2791.2 1078.1,2792.9 1081.8,2794.5 1085.4,2796 1089,2797.6 1092.7,2799.1 1096.3,2800.6 1099.9,2802.1 1103.6,2803.5 1107.2,2804.9 1110.8,2806.3 1114.5,2807.7 1118.1,2809 1121.8,2810.4 1125.4,2811.7 1129,2813 1132.7,2814.3 1136.3,2815.5 1140,2816.8 1143.6,2818 1147.2,2819.3 1150.9,2820.5 1154.5,2821.7 1158.1,2822.9 1161.8,2824.1 1165.4,2825.3 1169.1,2826.4 1172.7,2827.6 1176.3,2828.7 1180,2829.9 1183.6,2831 1187.2,2832.1 1190.9,2833.2 1194.5,2834.3 1198.2,2835.3 1201.8,2836.3 1205.4,2837.4 1209.1,2838.4 1212.7,2839.3 1216.3,2840.3 1220,2841.2 1223.6,2842.2 1227.2,2843 1230.9,2843.9 1234.5,2844.8 1238.2,2845.6 1241.8,2846.4 1245.4,2847.2 1249.1,2848 1252.7,2848.8 1256.3,2849.6 1260,2850.3 1263.6,2851.1 1267.3,2851.9 1270.9,2852.6 1274.5,2853.4 1278.2,2854.1 1281.8,2854.9 1285.5,2855.6 1289.1,2856.4 1292.7,2857.1 1296.4,2857.9 1300,2858.6 1303.6,2859.3 1307.3,2860.1 1310.9,2860.8 1314.5,2861.5 1318.2,2862.2 1321.8,2862.9 1325.5,2863.6 1329.1,2864.3 1332.7,2865 1336.4,2865.7 1340,2866.4 1343.7,2867.1 1347.3,2867.7 1350.9,2868.4 1354.6,2869.1 1358.2,2869.8 1361.8,2870.5 1365.5,2871.2 1369.1,2871.9 1372.8,2872.6 1376.4,2873.3 1380,2874 1383.7,2874.6 1387.3,2875.3 1390.9,2875.9 1394.6,2876.5 1398.2,2877.1 1401.9,2877.6 1405.5,2878.2 1409.1,2878.6 1412.8,2879.1 1416.4,2879.5 1420,2879.9 1423.7,2880.3 1427.3,2880.6 1431,2881 1434.6,2881.3 1438.2,2881.6 1441.9,2881.9 1445.5,2882.2 1449.1,2882.5 1452.8,2882.8 1456.4,2883.1 1460,2883.4 1463.7,2883.7 1467.3,2884 1471,2884.3 1474.6,2884.7 1478.2,2885 1481.9,2885.4 1485.5,2885.7 1489.2,2886.1 1492.8,2886.4 1496.4,2886.8 1500.1,2887.2 1503.7,2887.5 1507.3,2887.9 1511,2888.3 1514.6,2888.7 1518.2,2889.2 1521.9,2889.7 1525.5,2890.2 1529.2,2890.8 1532.8,2891.4 1536.4,2892 1540.1,2892.7 1543.7,2893.5 1547.4,2894.4 1551,2895.4 1554.6,2896.5 1558.3,2897.8 1561.9,2899.1 1565.5,2900.9 1569.2,2903.1 1572.8,2905.5 1576.5,2908.2 1580.1,2911.2 1583.7,2914.3 1587.4,2917.9 1591,2922.1 1594.6,2926.7 1598.3,2931.4 1601.9,2935.9 1605.5,2940.3 1609.2,2944.6 1612.8,2949 1616.5,2953.3 1620.1,2957.6 1623.7,2961.9 1627.4,2966.2 1631,2970.6 1634.7,2974.9 1638.3,2979.1 1641.9,2983.1 1645.6,2986.9 1649.2,2990.7 1652.8,2994.5 1656.5,2998.1 1660.1,3001.4 1663.8,3004.4 1667.4,3007 1671,3009.5 1674.7,3011.9 1678.3,3014.2 1681.9,3016.2 1685.6,3018 1689.2,3019.5 1692.9,3020.7 1696.5,3021.7 1700.1,3022.7 1703.8,3023.6 1707.4,3024.5 1711,3025.4 1714.7,3026.1 1718.3,3026.8 1722,3027.4 1725.6,3027.9 1729.2,3028.2 1732.9,3028.4 1736.5,3028.5" marker-start="url(#mk0)" marker-mid="url(#mk0)" marker-end="url(#mk0)"/>
<polyline stroke="#F14040" stroke-width="9" points="281.5,1604.2 285.1,1598.9 288.8,1596.3 292.4,1600.3 296.1,1607.4 299.7,1606.2 303.3,1607.4 307,1611.3 310.6,1614.9 314.2,1620.1 317.9,1622.3 321.5,1629.5 325.1,1630.5 328.8,1636.9 332.4,1641.6 336.1,1649.2 339.7,1660.3 343.3,1659 347,1666.8 350.6,1676.5 354.2,1688.7 357.9,1695.4 361.5,1703.5 365.2,1727.7 368.8,1750.3 372.4,1768.7 376.1,1778.9 379.7,1790.7 383.4,1798.5 387,1808.9 390.6,1820.6 394.3,1826.9 397.9,1842.4 401.5,1843.1 405.2,1851.9 408.8,1844.9 412.5,1845.7 416.1,1857.6 419.7,1865.2 423.4,1876.3 427,1888.6 430.6,1896.7 434.3,1905.2 437.9,1913.9 441.6,1910.7 445.2,1918.9 448.8,1919.2 452.5,1922.1 456.1,1924.2 459.7,1928.6 463.4,1930.4 467,1939.6 470.6,1940 474.3,1942.2 477.9,1947.5 481.6,1947.1 485.2,1951.1 488.8,1952.8 492.5,1954.4 496.1,1955.4 499.8,1959.7 503.4,1963.8 507,1971.1 510.7,1977.1 514.3,1979.9 517.9,1983.6 521.6,1984 525.2,1989.2 528.9,1992.7 532.5,1996 536.1,2000.5 539.8,2004.9 543.4,2008.5 547,2012.9 550.7,2017.2 554.3,2022 558,2026.9 561.6,2031.8 565.2,2036.8 568.9,2041.9 572.5,2047.1 576.1,2052.2 579.8,2057.3 583.4,2062.5 587,2067.6 590.7,2072.6 594.3,2077.6 598,2082.6 601.6,2087.5 605.2,2092.4 608.9,2097.4 612.5,2102.6 616.2,2108 619.8,2113.5 623.4,2119.2 627.1,2125.3 630.7,2132.1 634.3,2139.8 638,2148.3 641.6,2158 645.2,2169.8 648.9,2182.8 652.5,2196.9 656.2,2212.6 659.8,2230.4 663.4,2248.2 667.1,2264.4 670.7,2279.9 674.4,2294.5 678,2307.9 681.6,2320.1 685.3,2331.5 688.9,2342.2 692.5,2352.3 696.2,2361.9 699.8,2371.1 703.5,2380 707.1,2388.5 710.7,2396.5 714.4,2404.1 718,2411.3 721.6,2418.4 725.3,2425.4 728.9,2432.5 732.5,2439.7 736.2,2447 739.8,2454.3 743.5,2461.6 747.1,2468.8 750.7,2475.8 754.4,2482.8 758,2489.6 761.7,2496.2 765.3,2502.9 768.9,2509.4 772.6,2515.8 776.2,2522.1 779.8,2528.3 783.5,2534.3 787.1,2540.1 790.8,2545.8 794.4,2551.5 798,2557 801.7,2562.4 805.3,2567.7 808.9,2572.9 812.6,2577.9 816.2,2582.8 819.9,2587.7 823.5,2592.4 827.1,2597 830.8,2601.6 834.4,2606 838,2610.4 841.7,2614.6 845.3,2618.7 849,2622.7 852.6,2626.6 856.2,2630.4 859.9,2634.1 863.5,2637.7 867.1,2641.3 870.8,2644.8 874.4,2648.2 878.1,2651.7 881.7,2655 885.3,2658.4 889,2661.7 892.6,2665 896.2,2668.3 899.9,2671.5 903.5,2674.8 907.1,2678.1 910.8,2681.4 914.4,2684.7 918.1,2688 921.7,2691.2 925.3,2694.4 929,2697.7 932.6,2700.8 936.2,2704 939.9,2707.1 943.5,2710.2 947.2,2713.2 950.8,2716.2 954.4,2719.2 958.1,2722.1 961.7,2724.9 965.4,2727.8 969,2730.6 972.6,2733.4 976.3,2736.2 979.9,2738.9 983.5,2741.6 987.2,2744.3 990.8,2746.9 994.5,2749.5 998.1,2752 1001.7,2754.4 1005.4,2756.8 1009,2759.1 1012.6,2761.3 1016.3,2763.5 1019.9,2765.7 1023.6,2767.8 1027.2,2769.9 1030.8,2771.9 1034.5,2774 1038.1,2775.9 1041.7,2777.9 1045.4,2779.8 1049,2781.7 1052.7,2783.6 1056.3,2785.4 1059.9,2787.2 1063.6,2788.9 1067.2,2790.7 1070.8,2792.4 1074.5,2794 1078.1,2795.6 1081.8,2797.2 1085.4,2798.8 1089,2800.3 1092.7,2801.8 1096.3,2803.2 1099.9,2804.7 1103.6,2806.1 1107.2,2807.4 1110.8,2808.8 1114.5,2810.1 1118.1,2811.5 1121.8,2812.8 1125.4,2814.1 1129,2815.3 1132.7,2816.6 1136.3,2817.8 1140,2819 1143.6,2820.3 1147.2,2821.5 1150.9,2822.7 1154.5,2823.9 1158.1,2825.1 1161.8,2826.3 1165.4,2827.4 1169.1,2828.6 1172.7,2829.8 1176.3,2830.9 1180,2832.1 1183.6,2833.2 1187.2,2834.3 1190.9,2835.4 1194.5,2836.5 1198.2,2837.5 1201.8,2838.6 1205.4,2839.6 1209.1,2840.6 1212.7,2841.6 1216.3,2842.5 1220,2843.4 1223.6,2844.3 1227.2,2845.2 1230.9,2846.1 1234.5,2846.9 1238.2,2847.7 1241.8,2848.6 1245.4,2849.3 1249.1,2850.1 1252.7,2850.9 1256.3,2851.6 1260,2852.4 1263.6,2853.1 1267.3,2853.9 1270.9,2854.6 1274.5,2855.4 1278.2,2856.1 1281.8,2856.8 1285.5,2857.6 1289.1,2858.3 1292.7,2859 1296.4,2859.8 1300,2860.5 1303.6,2861.2 1307.3,2861.9 1310.9,2862.7 1314.5,2863.4 1318.2,2864.1 1321.8,2864.8 1325.5,2865.5 1329.1,2866.2 1332.7,2866.9 1336.4,2867.5 1340,2868.2 1343.7,2868.9 1347.3,2869.6 1350.9,2870.2 1354.6,2870.9 1358.2,2871.6 1361.8,2872.3 1365.5,2872.9 1369.1,2873.6 1372.8,2874.3 1376.4,2875 1380,2875.6 1383.7,2876.2 1387.3,2876.9 1390.9,2877.5 1394.6,2878.1 1398.2,2878.6 1401.9,2879.2 1405.5,2879.7 1409.1,2880.1 1412.8,2880.6 1416.4,2881 1420,2881.4 1423.7,2881.8 1427.3,2882.1 1431,2882.5 1434.6,2882.8 1438.2,2883.1 1441.9,2883.4 1445.5,2883.7 1449.1,2884 1452.8,2884.3 1456.4,2884.6 1460,2885 1463.7,2885.3 1467.3,2885.6 1471,2885.9 1474.6,2886.3 1478.2,2886.6 1481.9,2887 1485.5,2887.3 1489.2,2887.7 1492.8,2888 1496.4,2888.4 1500.1,2888.7 1503.7,2889.1 1507.3,2889.4 1511,2889.8 1514.6,2890.2 1518.2,2890.7 1521.9,2891.2 1525.5,2891.7 1529.2,2892.2 1532.8,2892.8 1536.4,2893.5 1540.1,2894.2 1543.7,2895 1547.4,2895.9 1551,2896.9 1554.6,2898.1 1558.3,2899.3 1561.9,2900.7 1565.5,2902.5 1569.2,2904.6 1572.8,2907.1 1576.5,2909.9 1580.1,2912.8 1583.7,2915.9 1587.4,2919.4 1591,2923.4 1594.6,2927.8 1598.3,2932.3 1601.9,2936.7 1605.5,2941 1609.2,2945.2 1612.8,2949.5 1616.5,2953.8 1620.1,2958.1 1623.7,2962.4 1627.4,2966.7 1631,2971 1634.7,2975.3 1638.3,2979.5 1641.9,2983.4 1645.6,2987.3 1649.2,2991.1 1652.8,2994.8 1656.5,2998.3 1660.1,3001.6 1663.8,3004.6 1667.4,3007.2 1671,3009.8 1674.7,3012.2 1678.3,3014.4 1681.9,3016.4 1685.6,3018.2 1689.2,3019.7 1692.9,3020.8 1696.5,3021.9 1700.1,3022.9 1703.8,3023.8 1707.4,3024.8 1711,3025.6 1714.7,3026.4 1718.3,3027.1 1722,3027.6 1725.6,3028.1 1729.2,3028.5 1732.9,3028.7 1736.5,3028.7" marker-start="url(#mk1)" marker-mid="url(#mk1)" marker-end="url(#mk1)"/>
<polyline stroke="#FF00FF" stroke-width="9" points="281.5,1604 285.1,1598.7 288.8,1598.6 292.4,1601.4 296.1,1601.5 299.7,1609.6 303.3,1611 307,1613.7 310.6,1619.1 314.2,1618.9 317.9,1622.1 321.5,1630.9 325.1,1636.5 328.8,1640.1 332.4,1649.8 336.1,1658.9 339.7,1662 343.3,1671.7 347,1680.5 350.6,1689.7 354.2,1700.3 357.9,1714.7 361.5,1743 365.2,1763.8 368.8,1781.4 372.4,1792.9 376.1,1795.7 379.7,1804.7 383.4,1820.3 387,1829.9 390.6,1834.8 394.3,1844 397.9,1852.4 401.5,1851.7 405.2,1855.8 408.8,1866.7 412.5,1867.9 416.1,1879.4 419.7,1890.8 423.4,1893.4 427,1903.7 430.6,1912.7 434.3,1919.8 437.9,1924.4 441.6,1926.7 445.2,1933.1 448.8,1931.1 452.5,1938.7 456.1,1940.7 459.7,1945.5 463.4,1946 467,1949.4 470.6,1949.9 474.3,1954.5 477.9,1958.2 481.6,1961.4 485.2,1963 488.8,1968 492.5,1970.8 496.1,1972 499.8,1973.7 503.4,1979 507,1983.9 510.7,1987.6 514.3,1990.8 517.9,1994.3 521.6,1998.8 525.2,2001.7 528.9,2004.7 532.5,2009.7 536.1,2014.4 539.8,2017.6 543.4,2022.1 547,2025.9 550.7,2029.6 554.3,2033.4 558,2037.1 561.6,2041.2 565.2,2045.6 568.9,2050.5 572.5,2055.7 576.1,2061.2 579.8,2066.7 583.4,2072.1 587,2077.4 590.7,2082.8 594.3,2088.2 598,2093.8 601.6,2099.4 605.2,2105 608.9,2110.6 612.5,2116 616.2,2121.1 619.8,2126 623.4,2130.9 627.1,2136 630.7,2141.8 634.3,2148.4 638,2156.5 641.6,2166 645.2,2177.3 648.9,2189.9 652.5,2203.8 656.2,2219.8 659.8,2237.6 663.4,2255.2 667.1,2271.3 670.7,2286.8 674.4,2301.4 678,2314.8 681.6,2326.9 685.3,2338.1 688.9,2348.6 692.5,2358.6 696.2,2368.1 699.8,2377.2 703.5,2385.9 707.1,2394.4 710.7,2402.4 714.4,2410.1 718,2417.4 721.6,2424.5 725.3,2431.6 728.9,2438.7 732.5,2445.9 736.2,2453.1 739.8,2460.4 743.5,2467.6 747.1,2474.7 750.7,2481.7 754.4,2488.6 758,2495.3 761.7,2501.9 765.3,2508.4 768.9,2514.9 772.6,2521.2 776.2,2527.4 779.8,2533.5 783.5,2539.4 787.1,2545.2 790.8,2550.9 794.4,2556.5 798,2561.9 801.7,2567.3 805.3,2572.6 808.9,2577.7 812.6,2582.6 816.2,2587.5 819.9,2592.2 823.5,2596.8 827.1,2601.3 830.8,2605.8 834.4,2610.1 838,2614.4 841.7,2618.5 845.3,2622.5 849,2626.5 852.6,2630.3 856.2,2634 859.9,2637.7 863.5,2641.3 867.1,2644.9 870.8,2648.4 874.4,2651.8 878.1,2655.2 881.7,2658.6 885.3,2661.9 889,2665.2 892.6,2668.5 896.2,2671.7 899.9,2675 903.5,2678.3 907.1,2681.5 910.8,2684.8 914.4,2688.1 918.1,2691.3 921.7,2694.5 925.3,2697.7 929,2700.9 932.6,2704 936.2,2707.1 939.9,2710.2 943.5,2713.3 947.2,2716.3 950.8,2719.3 954.4,2722.2 958.1,2725.1 961.7,2727.9 965.4,2730.7 969,2733.6 972.6,2736.4 976.3,2739.2 979.9,2741.9 983.5,2744.6 987.2,2747.3 990.8,2749.9 994.5,2752.5 998.1,2755 1001.7,2757.4 1005.4,2759.8 1009,2762.1 1012.6,2764.3 1016.3,2766.5 1019.9,2768.6 1023.6,2770.7 1027.2,2772.8 1030.8,2774.9 1034.5,2776.9 1038.1,2778.9 1041.7,2780.8 1045.4,2782.7 1049,2784.6 1052.7,2786.5 1056.3,2788.3 1059.9,2790.1 1063.6,2791.8 1067.2,2793.5 1070.8,2795.2 1074.5,2796.8 1078.1,2798.4 1081.8,2799.9 1085.4,2801.5 1089,2803 1092.7,2804.4 1096.3,2805.8 1099.9,2807.2 1103.6,2808.6 1107.2,2810 1110.8,2811.3 1114.5,2812.6 1118.1,2813.9 1121.8,2815.2 1125.4,2816.4 1129,2817.7 1132.7,2818.9 1136.3,2820.1 1140,2821.3 1143.6,2822.5 1147.2,2823.7 1150.9,2824.9 1154.5,2826.1 1158.1,2827.3 1161.8,2828.4 1165.4,2829.6 1169.1,2830.8 1172.7,2832 1176.3,2833.1 1180,2834.3 1183.6,2835.4 1187.2,2836.5 1190.9,2837.6 1194.5,2838.7 1198.2,2839.7 1201.8,2840.8 1205.4,2841.8 1209.1,2842.8 1212.7,2843.8 1216.3,2844.7 1220,2845.6 1223.6,2846.5 1227.2,2847.4 1230.9,2848.3 1234.5,2849.1 1238.2,2849.9 1241.8,2850.7 1245.4,2851.5 1249.1,2852.2 1252.7,2853 1256.3,2853.7 1260,2854.4 1263.6,2855.2 1267.3,2855.9 1270.9,2856.6 1274.5,2857.3 1278.2,2858.1 1281.8,2858.8 1285.5,2859.5 1289.1,2860.2 1292.7,2860.9 1296.4,2861.7 1300,2862.4 1303.6,2863.1 1307.3,2863.8 1310.9,2864.5 1314.5,2865.2 1318.2,2865.9 1321.8,2866.6 1325.5,2867.3 1329.1,2868 1332.7,2868.7 1336.4,2869.4 1340,2870.1 1343.7,2870.7 1347.3,2871.4 1350.9,2872 1354.6,2872.7 1358.2,2873.3 1361.8,2874 1365.5,2874.7 1369.1,2875.3 1372.8,2876 1376.4,2876.6 1380,2877.2 1383.7,2877.9 1387.3,2878.5 1390.9,2879 1394.6,2879.6 1398.2,2880.2 1401.9,2880.7 1405.5,2881.2 1409.1,2881.6 1412.8,2882.1 1416.4,2882.5 1420,2882.9 1423.7,2883.3 1427.3,2883.6 1431,2884 1434.6,2884.3 1438.2,2884.7 1441.9,2885 1445.5,2885.3 1449.1,2885.6 1452.8,2885.9 1456.4,2886.2 1460,2886.5 1463.7,2886.9 1467.3,2887.2 1471,2887.5 1474.6,2887.9 1478.2,2888.2 1481.9,2888.6 1485.5,2888.9 1489.2,2889.3 1492.8,2889.6 1496.4,2889.9 1500.1,2890.3 1503.7,2890.6 1507.3,2891 1511,2891.3 1514.6,2891.7 1518.2,2892.2 1521.9,2892.6 1525.5,2893.1 1529.2,2893.7 1532.8,2894.2 1536.4,2894.9 1540.1,2895.6 1543.7,2896.5 1547.4,2897.4 1551,2898.4 1554.6,2899.6 1558.3,2900.9 1561.9,2902.3 1565.5,2904 1569.2,2906.2 1572.8,2908.7 1576.5,2911.5 1580.1,2914.4 1583.7,2917.5 1587.4,2920.9 1591,2924.8 1594.6,2929 1598.3,2933.3 1601.9,2937.5 1605.5,2941.7 1609.2,2945.9 1612.8,2950.1 1616.5,2954.4 1620.1,2958.7 1623.7,2962.9 1627.4,2967.2 1631,2971.5 1634.7,2975.7 1638.3,2979.8 1641.9,2983.8 1645.6,2987.6 1649.2,2991.4 1652.8,2995 1656.5,2998.5 1660.1,3001.8 1663.8,3004.8 1667.4,3007.5 1671,3010 1674.7,3012.4 1678.3,3014.6 1681.9,3016.7 1685.6,3018.4 1689.2,3019.8 1692.9,3021 1696.5,3022.1 1700.1,3023.1 1703.8,3024.1 1707.4,3025 1711,3025.8 1714.7,3026.6 1718.3,3027.3 1722,3027.9 1725.6,3028.4 1729.2,3028.7 1732.9,3028.9 1736.5,3029" marker-start="url(#mk2)" marker-mid="url(#mk2)" marker-end="url(#mk2)"/>
<polyline stroke="#37AD6B" stroke-width="9" points="281.5,1598.8 285.1,1620.6 288.8,1643.6 292.4,1664.1 296.1,1676.1 299.7,1699.5 303.3,1711.6 307,1721.3 310.6,1733.5 314.2,1745.9 317.9,1754.1 321.5,1759.8 325.1,1766.3 328.8,1779 332.4,1780 336.1,1787.4 339.7,1786.5 343.3,1777.5 347,1781.5 350.6,1779.8 354.2,1790.2 357.9,1799.6 361.5,1806.9 365.2,1813.4 368.8,1817.4 372.4,1826.9 376.1,1850 379.7,1856 383.4,1868 387,1878.8 390.6,1874 394.3,1876 397.9,1881 401.5,1882.3 405.2,1892 408.8,1896 412.5,1903.6 416.1,1913.4 419.7,1930.2 423.4,1931.6 427,1937.6 430.6,1936.3 434.3,1946.3 437.9,1947.5 441.6,1951.2 445.2,1952.7 448.8,1956.7 452.5,1962.2 456.1,1963.2 459.7,1967.2 463.4,1970.1 467,1974.4 470.6,1979.9 474.3,1981.3 477.9,1984.9 481.6,1987.3 485.2,1989.9 488.8,1992.1 492.5,1993 496.1,1995.4 499.8,1999.2 503.4,2001.6 507,2006.7 510.7,2013.1 514.3,2016.2 517.9,2019.7 521.6,2021 525.2,2024 528.9,2028 532.5,2030 536.1,2033.5 539.8,2039 543.4,2044.6 547,2050.3 550.7,2055.2 554.3,2059.6 558,2063.5 561.6,2067.6 565.2,2071.8 568.9,2076.3 572.5,2081.2 576.1,2086.3 579.8,2091.5 583.4,2096.7 587,2101.9 590.7,2107.2 594.3,2112.6 598,2117.9 601.6,2122.9 605.2,2127.7 608.9,2131.8 612.5,2135.6 616.2,2139.5 619.8,2144.1 623.4,2150 627.1,2157.2 630.7,2165.4 634.3,2174.2 638,2183.4 641.6,2192.5 645.2,2201.8 648.9,2211.8 652.5,2223.7 656.2,2240 659.8,2259.3 663.4,2276.4 667.1,2292.3 670.7,2307.3 674.4,2321.2 678,2333.9 681.6,2346 685.3,2357.4 688.9,2368 692.5,2377.6 696.2,2386.3 699.8,2394.2 703.5,2401.6 707.1,2408.5 710.7,2415.3 714.4,2422.1 718,2429.1 721.6,2436.4 725.3,2443.7 728.9,2451.1 732.5,2458.4 736.2,2465.6 739.8,2472.8 743.5,2480 747.1,2487 750.7,2494.1 754.4,2501.2 758,2508.2 761.7,2515 765.3,2521.7 768.9,2528.1 772.6,2534.2 776.2,2540.1 779.8,2545.7 783.5,2551.2 787.1,2556.6 790.8,2562 794.4,2567.8 798,2573.6 801.7,2579.4 805.3,2585.2 808.9,2590.8 812.6,2596.2 816.2,2601.5 819.9,2606.4 823.5,2611.1 827.1,2615.5 830.8,2619.7 834.4,2623.7 838,2627.6 841.7,2631.4 845.3,2635.2 849,2638.9 852.6,2642.5 856.2,2646.2 859.9,2649.7 863.5,2653.3 867.1,2656.7 870.8,2660.2 874.4,2663.6 878.1,2666.9 881.7,2670.2 885.3,2673.5 889,2676.8 892.6,2680 896.2,2683.3 899.9,2686.5 903.5,2689.7 907.1,2692.8 910.8,2696 914.4,2699.2 918.1,2702.3 921.7,2705.4 925.3,2708.5 929,2711.5 932.6,2714.5 936.2,2717.5 939.9,2720.5 943.5,2723.5 947.2,2726.4 950.8,2729.3 954.4,2732.1 958.1,2735 961.7,2737.8 965.4,2740.6 969,2743.4 972.6,2746.2 976.3,2749 979.9,2751.8 983.5,2754.5 987.2,2757.2 990.8,2759.8 994.5,2762.4 998.1,2764.9 1001.7,2767.3 1005.4,2769.7 1009,2772 1012.6,2774.2 1016.3,2776.3 1019.9,2778.5 1023.6,2780.5 1027.2,2782.6 1030.8,2784.6 1034.5,2786.6 1038.1,2788.6 1041.7,2790.5 1045.4,2792.4 1049,2794.2 1052.7,2796 1056.3,2797.8 1059.9,2799.5 1063.6,2801.2 1067.2,2802.8 1070.8,2804.4 1074.5,2806 1078.1,2807.5 1081.8,2809 1085.4,2810.4 1089,2811.8 1092.7,2813.2 1096.3,2814.5 1099.9,2815.8 1103.6,2817.1 1107.2,2818.3 1110.8,2819.5 1114.5,2820.7 1118.1,2821.9 1121.8,2823.1 1125.4,2824.2 1129,2825.3 1132.7,2826.5 1136.3,2827.6 1140,2828.7 1143.6,2829.9 1147.2,2831 1150.9,2832.1 1154.5,2833.3 1158.1,2834.5 1161.8,2835.6 1165.4,2836.8 1169.1,2838 1172.7,2839.1 1176.3,2840.3 1180,2841.5 1183.6,2842.6 1187.2,2843.7 1190.9,2844.9 1194.5,2846 1198.2,2847 1201.8,2848.1 1205.4,2849.1 1209.1,2850.1 1212.7,2851.1 1216.3,2852 1220,2852.9 1223.6,2853.8 1227.2,2854.6 1230.9,2855.4 1234.5,2856.2 1238.2,2857 1241.8,2857.7 1245.4,2858.4 1249.1,2859.1 1252.7,2859.8 1256.3,2860.5 1260,2861.2 1263.6,2861.9 1267.3,2862.6 1270.9,2863.2 1274.5,2863.9 1278.2,2864.6 1281.8,2865.2 1285.5,2865.9 1289.1,2866.6 1292.7,2867.3 1296.4,2867.9 1300,2868.6 1303.6,2869.3 1307.3,2870 1310.9,2870.7 1314.5,2871.4 1318.2,2872.1 1321.8,2872.8 1325.5,2873.5 1329.1,2874.2 1332.7,2874.8 1336.4,2875.5 1340,2876.1 1343.7,2876.8 1347.3,2877.4 1350.9,2878 1354.6,2878.6 1358.2,2879.2 1361.8,2879.7 1365.5,2880.3 1369.1,2880.9 1372.8,2881.5 1376.4,2882.1 1380,2882.6 1383.7,2883.2 1387.3,2883.7 1390.9,2884.2 1394.6,2884.7 1398.2,2885.2 1401.9,2885.7 1405.5,2886.2 1409.1,2886.6 1412.8,2887 1416.4,2887.5 1420,2887.9 1423.7,2888.3 1427.3,2888.6 1431,2889 1434.6,2889.4 1438.2,2889.7 1441.9,2890.1 1445.5,2890.4 1449.1,2890.8 1452.8,2891.1 1456.4,2891.4 1460,2891.8 1463.7,2892.1 1467.3,2892.5 1471,2892.8 1474.6,2893.2 1478.2,2893.5 1481.9,2893.8 1485.5,2894.2 1489.2,2894.5 1492.8,2894.8 1496.4,2895.1 1500.1,2895.4 1503.7,2895.7 1507.3,2896 1511,2896.3 1514.6,2896.7 1518.2,2897.1 1521.9,2897.5 1525.5,2898 1529.2,2898.5 1532.8,2899 1536.4,2899.7 1540.1,2900.4 1543.7,2901.3 1547.4,2902.3 1551,2903.4 1554.6,2904.6 1558.3,2906 1561.9,2907.4 1565.5,2909.2 1569.2,2911.4 1572.8,2914 1576.5,2916.8 1580.1,2919.8 1583.7,2922.7 1587.4,2925.8 1591,2929.2 1594.6,2932.7 1598.3,2936.4 1601.9,2940.2 1605.5,2943.9 1609.2,2947.9 1612.8,2952.1 1616.5,2956.3 1620.1,2960.5 1623.7,2964.7 1627.4,2968.8 1631,2972.9 1634.7,2977.1 1638.3,2981.1 1641.9,2985 1645.6,2988.8 1649.2,2992.4 1652.8,2995.9 1656.5,2999.2 1660.1,3002.4 1663.8,3005.4 1667.4,3008.2 1671,3010.8 1674.7,3013.2 1678.3,3015.4 1681.9,3017.4 1685.6,3019 1689.2,3020.4 1692.9,3021.6 1696.5,3022.7 1700.1,3023.7 1703.8,3024.8 1707.4,3025.7 1711,3026.6 1714.7,3027.4 1718.3,3028.1 1722,3028.7 1725.6,3029.2 1729.2,3029.5 1732.9,3029.8 1736.5,3029.8" marker-start="url(#mk3)" marker-mid="url(#mk3)" marker-end="url(#mk3)"/>
<polyline stroke="#B177DE" stroke-width="10" points="281.5,1777.1 285.1,1779 288.8,1787.5 292.4,1789.2 296.1,1790.9 299.7,1793.8 303.3,1805 307,1824 310.6,1821.8 314.2,1827.1 317.9,1824.4 321.5,1825.9 325.1,1827.8 328.8,1833.7 332.4,1836.8 336.1,1842.8 339.7,1842.1 343.3,1838.9 347,1841.8 350.6,1840.3 354.2,1850.6 357.9,1859.8 361.5,1870.6 365.2,1872.4 368.8,1882.6 372.4,1893.9 376.1,1902.7 379.7,1915.1 383.4,1923.7 387,1923.2 390.6,1925.6 394.3,1929.3 397.9,1936.7 401.5,1943.7 405.2,1949.3 408.8,1958.6 412.5,1959.6 416.1,1965.9 419.7,1967.5 423.4,1972.8 427,1986.8 430.6,1995 434.3,1999.5 437.9,2004.2 441.6,2006.5 445.2,2016.1 448.8,2013 452.5,2019.4 456.1,2024.7 459.7,2023.8 463.4,2023.6 467,2031.6 470.6,2034.4 474.3,2039.3 477.9,2037.8 481.6,2043.2 485.2,2042 488.8,2047.1 492.5,2051.3 496.1,2053.7 499.8,2056 503.4,2059.9 507,2064.9 510.7,2068.1 514.3,2071.6 517.9,2074.6 521.6,2076.4 525.2,2079.8 528.9,2083.5 532.5,2086 536.1,2090.7 539.8,2094.5 543.4,2097.6 547,2101.6 550.7,2105.3 554.3,2108.9 558,2112.7 561.6,2115.8 565.2,2118.3 568.9,2122.1 572.5,2127.1 576.1,2133 579.8,2139.2 583.4,2145.5 587,2151.2 590.7,2156.3 594.3,2161.1 598,2165.7 601.6,2170.3 605.2,2174.8 608.9,2179.4 612.5,2184.3 616.2,2189.3 619.8,2194.3 623.4,2199.4 627.1,2204.7 630.7,2210.2 634.3,2216.1 638,2222.5 641.6,2229.6 645.2,2237.5 648.9,2246.6 652.5,2259.6 656.2,2276.7 659.8,2295.1 663.4,2311.9 667.1,2327.3 670.7,2342.3 674.4,2356.6 678,2369.6 681.6,2380.8 685.3,2391 688.9,2400.2 692.5,2408.9 696.2,2417.3 699.8,2425.5 703.5,2433.8 707.1,2442 710.7,2450.1 714.4,2457.9 718,2465.6 721.6,2473.2 725.3,2480.5 728.9,2487.8 732.5,2495 736.2,2502 739.8,2508.9 743.5,2515.7 747.1,2522.3 750.7,2528.7 754.4,2535 758,2541.1 761.7,2547.1 765.3,2552.9 768.9,2558.6 772.6,2564.3 776.2,2569.8 779.8,2575.3 783.5,2580.6 787.1,2586 790.8,2591.3 794.4,2596.5 798,2601.7 801.7,2606.7 805.3,2611.5 808.9,2616.1 812.6,2620.4 816.2,2624.5 819.9,2628.4 823.5,2632.2 827.1,2635.9 830.8,2639.4 834.4,2642.9 838,2646.4 841.7,2649.8 845.3,2653.2 849,2656.6 852.6,2660 856.2,2663.4 859.9,2666.8 863.5,2670.2 867.1,2673.6 870.8,2677 874.4,2680.3 878.1,2683.6 881.7,2686.9 885.3,2690.1 889,2693.3 892.6,2696.5 896.2,2699.7 899.9,2702.8 903.5,2705.9 907.1,2709 910.8,2712 914.4,2715 918.1,2717.9 921.7,2720.9 925.3,2723.8 929,2726.7 932.6,2729.5 936.2,2732.4 939.9,2735.2 943.5,2738 947.2,2740.8 950.8,2743.5 954.4,2746.3 958.1,2749.1 961.7,2751.8 965.4,2754.6 969,2757.4 972.6,2760.2 976.3,2763 979.9,2765.8 983.5,2768.5 987.2,2771.3 990.8,2773.9 994.5,2776.5 998.1,2779 1001.7,2781.5 1005.4,2783.9 1009,2786.1 1012.6,2788.3 1016.3,2790.4 1019.9,2792.5 1023.6,2794.5 1027.2,2796.5 1030.8,2798.5 1034.5,2800.5 1038.1,2802.4 1041.7,2804.2 1045.4,2806.1 1049,2807.8 1052.7,2809.6 1056.3,2811.3 1059.9,2813 1063.6,2814.6 1067.2,2816.1 1070.8,2817.6 1074.5,2819.1 1078.1,2820.5 1081.8,2821.9 1085.4,2823.2 1089,2824.5 1092.7,2825.7 1096.3,2826.9 1099.9,2828 1103.6,2829.1 1107.2,2830.2 1110.8,2831.2 1114.5,2832.3 1118.1,2833.3 1121.8,2834.3 1125.4,2835.3 1129,2836.3 1132.7,2837.3 1136.3,2838.3 1140,2839.3 1143.6,2840.4 1147.2,2841.4 1150.9,2842.5 1154.5,2843.6 1158.1,2844.7 1161.8,2845.9 1165.4,2847 1169.1,2848.2 1172.7,2849.4 1176.3,2850.6 1180,2851.7 1183.6,2852.9 1187.2,2854.1 1190.9,2855.2 1194.5,2856.3 1198.2,2857.4 1201.8,2858.5 1205.4,2859.5 1209.1,2860.5 1212.7,2861.5 1216.3,2862.4 1220,2863.3 1223.6,2864.1 1227.2,2864.9 1230.9,2865.6 1234.5,2866.3 1238.2,2867 1241.8,2867.7 1245.4,2868.4 1249.1,2869 1252.7,2869.6 1256.3,2870.3 1260,2870.9 1263.6,2871.5 1267.3,2872.1 1270.9,2872.7 1274.5,2873.2 1278.2,2873.8 1281.8,2874.4 1285.5,2875 1289.1,2875.6 1292.7,2876.2 1296.4,2876.9 1300,2877.5 1303.6,2878.2 1307.3,2878.8 1310.9,2879.5 1314.5,2880.2 1318.2,2880.9 1321.8,2881.5 1325.5,2882.2 1329.1,2882.9 1332.7,2883.5 1336.4,2884.2 1340,2884.8 1343.7,2885.3 1347.3,2885.9 1350.9,2886.4 1354.6,2886.9 1358.2,2887.4 1361.8,2887.9 1365.5,2888.4 1369.1,2888.9 1372.8,2889.4 1376.4,2889.8 1380,2890.3 1383.7,2890.7 1387.3,2891.1 1390.9,2891.6 1394.6,2892 1398.2,2892.4 1401.9,2892.8 1405.5,2893.3 1409.1,2893.7 1412.8,2894.1 1416.4,2894.5 1420,2894.9 1423.7,2895.3 1427.3,2895.7 1431,2896.1 1434.6,2896.5 1438.2,2896.9 1441.9,2897.3 1445.5,2897.7 1449.1,2898.1 1452.8,2898.5 1456.4,2898.9 1460,2899.2 1463.7,2899.6 1467.3,2900 1471,2900.3 1474.6,2900.7 1478.2,2901 1481.9,2901.3 1485.5,2901.6 1489.2,2901.9 1492.8,2902.2 1496.4,2902.4 1500.1,2902.7 1503.7,2902.9 1507.3,2903.2 1511,2903.4 1514.6,2903.7 1518.2,2904.1 1521.9,2904.4 1525.5,2904.8 1529.2,2905.3 1532.8,2905.8 1536.4,2906.5 1540.1,2907.3 1543.7,2908.2 1547.4,2909.3 1551,2910.5 1554.6,2911.8 1558.3,2913.2 1561.9,2914.8 1565.5,2916.5 1569.2,2918.7 1572.8,2921.5 1576.5,2924.4 1580.1,2927.4 1583.7,2930.2 1587.4,2932.9 1591,2935.5 1594.6,2938.1 1598.3,2940.9 1601.9,2943.9 1605.5,2947.2 1609.2,2950.9 1612.8,2954.8 1616.5,2959 1620.1,2963.2 1623.7,2967.2 1627.4,2971.1 1631,2975 1634.7,2979 1638.3,2982.9 1641.9,2986.8 1645.6,2990.5 1649.2,2993.9 1652.8,2997.1 1656.5,3000.2 1660.1,3003.2 1663.8,3006.2 1667.4,3009.1 1671,3011.9 1674.7,3014.4 1678.3,3016.6 1681.9,3018.5 1685.6,3020 1689.2,3021.2 1692.9,3022.4 1696.5,3023.6 1700.1,3024.7 1703.8,3025.8 1707.4,3026.8 1711,3027.7 1714.7,3028.5 1718.3,3029.2 1722,3029.8 1725.6,3030.3 1729.2,3030.7 1732.9,3030.9 1736.5,3031" marker-start="url(#mk4)" marker-mid="url(#mk4)" marker-end="url(#mk4)"/>
</g>
<rect x="934.5" y="1781" width="803" height="1407" fill="none" stroke="#000" stroke-width="0"/>
<path d="M934.5,1781V2188.2H1738" fill="none" stroke="#000" stroke-width="2.6"/>
<line x1="943" y1="1826.9" x2="1066" y2="1826.9" stroke="#515151" stroke-width="10"/>
<path d="M1001,1820.9 l10,6 l-10,6 Z" fill="#000"/>
<line x1="943" y1="1901" x2="1066" y2="1901" stroke="#F14040" stroke-width="10"/>
<path d="M998.5,1905 l5.5,-11 l5.5,11 Z" fill="#f00"/>
<line x1="943" y1="1981" x2="1066" y2="1981" stroke="#FF00FF" stroke-width="10"/>
<path d="M1008,1975 l-10,6 l10,6 Z" fill="#6A0DD8"/>
<line x1="943" y1="2061.5" x2="1066" y2="2061.5" stroke="#37AD6B" stroke-width="10"/>
<line x1="943" y1="2141.5" x2="1066" y2="2141.5" stroke="#B177DE" stroke-width="7"/>
<path d="M1001,2137.5 l5,4 l-5,4 Z" fill="#B177DE"/>
<text class="s" x="1095" y="1850" font-size="67" stroke="#000" stroke-width="1.6" textLength="246" lengthAdjust="spacing">Pristine</text>
<text class="s" x="1100" y="1924" font-size="63" textLength="283.8" lengthAdjust="spacingAndGlyphs">10mg/ml Li</text>
<text class="s" x="1100" y="2004.6" font-size="63" textLength="591" lengthAdjust="spacingAndGlyphs">10mg/ml Li+1mg/ml Co</text>
<text class="s" x="1100" y="2084.6" font-size="63" textLength="591" lengthAdjust="spacingAndGlyphs">10mg/ml Li+5mg/ml Co</text>
<text class="s" x="1100" y="2164.6" font-size="63" textLength="623.7" lengthAdjust="spacingAndGlyphs">10mg/ml Li+10mg/ml Co</text>
<text class="s" x="243" y="3053" font-size="51.5" font-weight="bold" text-anchor="end">0.0</text>
<text class="s" x="243" y="2873.8" font-size="51.5" font-weight="bold" text-anchor="end">0.5</text>
<text class="s" x="243" y="2694.6" font-size="51.5" font-weight="bold" text-anchor="end">1.0</text>
<text class="s" x="243" y="2515.4" font-size="51.5" font-weight="bold" text-anchor="end">1.5</text>
<text class="s" x="243" y="2336.1" font-size="51.5" font-weight="bold" text-anchor="end">2.0</text>
<text class="s" x="243" y="2156.9" font-size="51.5" font-weight="bold" text-anchor="end">2.5</text>
<text class="s" x="243" y="1977.7" font-size="51.5" font-weight="bold" text-anchor="end">3.0</text>
<text class="s" x="243" y="1798.5" font-size="51.5" font-weight="bold" text-anchor="end">3.5</text>
<text class="s" x="281.5" y="3120.5" font-size="51.5" font-weight="bold" text-anchor="middle">400</text>
<text class="s" x="645.2" y="3120.5" font-size="51.5" font-weight="bold" text-anchor="middle">500</text>
<text class="s" x="1009" y="3120.5" font-size="51.5" font-weight="bold" text-anchor="middle">600</text>
<text class="s" x="1372.8" y="3120.5" font-size="51.5" font-weight="bold" text-anchor="middle">700</text>
<text class="s" x="1736.5" y="3120.5" font-size="51.5" font-weight="bold" text-anchor="middle">800</text>
<text class="s" x="921" y="3209" font-size="62" font-weight="bold" textLength="435" lengthAdjust="spacingAndGlyphs">Wavelength(nm)</text>
<text class="s" transform="translate(154,2722) rotate(-90)" x="0" y="0" font-size="64" font-weight="bold" textLength="603" lengthAdjust="spacingAndGlyphs">Absorption(arb.unit)</text>
<text class="s" x="19" y="1826" font-size="80" font-weight="bold">(b)</text>
</svg></body></html>
